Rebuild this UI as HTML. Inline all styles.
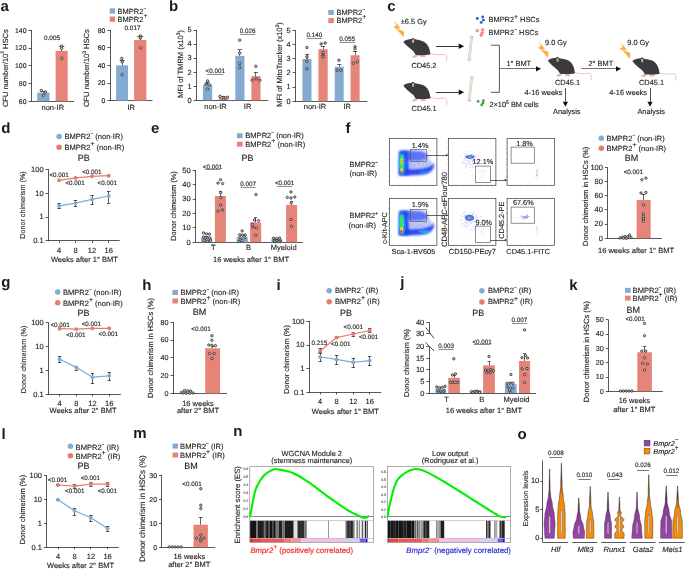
<!DOCTYPE html>
<html><head><meta charset="utf-8"><style>
html,body{margin:0;padding:0;background:#fff;width:685px;height:569px;overflow:hidden}
svg{display:block;will-change:transform;text-rendering:geometricPrecision;font-family:"Liberation Sans",sans-serif;fill:#231f20}
</style></head><body>
<svg xmlns="http://www.w3.org/2000/svg" width="685" height="569" viewBox="0 0 685 569">
<defs>
<filter id="b1" x="-30%" y="-30%" width="160%" height="160%"><feGaussianBlur stdDeviation="0.9"/></filter>
<filter id="b05" x="-30%" y="-30%" width="160%" height="160%"><feGaussianBlur stdDeviation="0.5"/></filter>
<linearGradient id="gp" x1="0" y1="0" x2="0" y2="1"><stop offset="0" stop-color="#1a1a1a"/><stop offset="0.45" stop-color="#8c3c9c"/><stop offset="1" stop-color="#9b45ad"/></linearGradient>
<linearGradient id="go" x1="0" y1="0" x2="0" y2="1"><stop offset="0" stop-color="#1a1a1a"/><stop offset="0.45" stop-color="#f08a10"/><stop offset="1" stop-color="#ff8c00"/></linearGradient>
</defs>
<text x="0.4" y="10.7" font-size="15" font-weight="bold" fill="#231815">a</text>
<line x1="31.5" y1="29.91" x2="31.5" y2="101.65" stroke="#231f20" stroke-width="0.75" />
<line x1="28.5" y1="30.5" x2="31.5" y2="30.5" stroke="#231f20" stroke-width="0.75" />
<text x="26.5" y="32.61" font-size="6.9" text-anchor="end" stroke="#231f20" stroke-width="0.14">140</text>
<line x1="28.5" y1="48.5" x2="31.5" y2="48.5" stroke="#231f20" stroke-width="0.75" />
<text x="26.5" y="50.37" font-size="6.9" text-anchor="end" stroke="#231f20" stroke-width="0.14">120</text>
<line x1="28.5" y1="65.5" x2="31.5" y2="65.5" stroke="#231f20" stroke-width="0.75" />
<text x="26.5" y="68.13" font-size="6.9" text-anchor="end" stroke="#231f20" stroke-width="0.14">100</text>
<line x1="28.5" y1="83.5" x2="31.5" y2="83.5" stroke="#231f20" stroke-width="0.75" />
<text x="26.5" y="85.89" font-size="6.9" text-anchor="end" stroke="#231f20" stroke-width="0.14">80</text>
<line x1="28.5" y1="101.5" x2="31.5" y2="101.5" stroke="#231f20" stroke-width="0.75" />
<text x="26.5" y="103.65" font-size="6.9" text-anchor="end" stroke="#231f20" stroke-width="0.14">60</text>
<line x1="31.15" y1="101.5" x2="74" y2="101.5" stroke="#231f20" stroke-width="0.75" />
<rect x="37.2" y="92.69" width="12.3" height="8.61" fill="#83aad1" />
<rect x="55.6" y="50.86" width="12.1" height="50.44" fill="#e7847a" />
<line x1="43.5" y1="92.69" x2="43.5" y2="91.35" stroke="#231f20" stroke-width="0.7" />
<line x1="40.8" y1="91.5" x2="45.8" y2="91.5" stroke="#231f20" stroke-width="0.7" />
<line x1="61.5" y1="50.86" x2="61.5" y2="46.69" stroke="#231f20" stroke-width="0.7" />
<line x1="58.85" y1="46.5" x2="64.35" y2="46.5" stroke="#231f20" stroke-width="0.7" />
<circle cx="41.3" cy="90.5" r="1.25" fill="#c8c8c8" stroke="#1a1a1a" stroke-width="0.7"/>
<circle cx="45.4" cy="92" r="1.25" fill="#c8c8c8" stroke="#1a1a1a" stroke-width="0.7"/>
<circle cx="43.3" cy="95.2" r="1.25" fill="#c8c8c8" stroke="#1a1a1a" stroke-width="0.7"/>
<circle cx="61.6" cy="46.2" r="1.25" fill="#c8c8c8" stroke="#1a1a1a" stroke-width="0.7"/>
<circle cx="61.6" cy="48.3" r="1.25" fill="#c8c8c8" stroke="#1a1a1a" stroke-width="0.7"/>
<circle cx="61.8" cy="58.3" r="1.25" fill="#c8c8c8" stroke="#1a1a1a" stroke-width="0.7"/>
<text x="52" y="40.1" font-size="6.4" text-anchor="middle" stroke="#231f20" stroke-width="0.14">0.005</text>
<text x="52.8" y="109.9" font-size="7.5" text-anchor="middle" stroke="#231f20" stroke-width="0.14">non-IR</text>
<text x="7.6" y="68.2" font-size="7.5" text-anchor="middle" stroke="#231f20" stroke-width="0.14" transform="rotate(-90 7.6 68.2)">CFU number/10<tspan font-size="5" dy="-3.2">2</tspan><tspan dy="3.2"> HSCs</tspan></text>
<line x1="110.5" y1="30.05" x2="110.5" y2="100.95" stroke="#231f20" stroke-width="0.75" />
<line x1="107.4" y1="30.5" x2="110.6" y2="30.5" stroke="#231f20" stroke-width="0.75" />
<text x="105.4" y="32.75" font-size="6.9" text-anchor="end" stroke="#231f20" stroke-width="0.14">80</text>
<line x1="107.4" y1="47.5" x2="110.6" y2="47.5" stroke="#231f20" stroke-width="0.75" />
<text x="105.4" y="50.3" font-size="6.9" text-anchor="end" stroke="#231f20" stroke-width="0.14">60</text>
<line x1="107.4" y1="65.5" x2="110.6" y2="65.5" stroke="#231f20" stroke-width="0.75" />
<text x="105.4" y="67.85" font-size="6.9" text-anchor="end" stroke="#231f20" stroke-width="0.14">40</text>
<line x1="107.4" y1="83.5" x2="110.6" y2="83.5" stroke="#231f20" stroke-width="0.75" />
<text x="105.4" y="85.4" font-size="6.9" text-anchor="end" stroke="#231f20" stroke-width="0.14">20</text>
<line x1="107.4" y1="100.5" x2="110.6" y2="100.5" stroke="#231f20" stroke-width="0.75" />
<text x="105.4" y="102.95" font-size="6.9" text-anchor="end" stroke="#231f20" stroke-width="0.14">0</text>
<line x1="110.25" y1="100.5" x2="152.5" y2="100.5" stroke="#231f20" stroke-width="0.75" />
<rect x="116.1" y="65.32" width="11.9" height="35.28" fill="#83aad1" />
<rect x="134.1" y="40.05" width="12.3" height="60.55" fill="#e7847a" />
<line x1="122.5" y1="65.32" x2="122.5" y2="60.3" stroke="#231f20" stroke-width="0.7" />
<line x1="119.55" y1="60.5" x2="124.85" y2="60.5" stroke="#231f20" stroke-width="0.7" />
<line x1="140.5" y1="40.05" x2="140.5" y2="36.4" stroke="#231f20" stroke-width="0.7" />
<line x1="137.3" y1="36.5" x2="143.3" y2="36.5" stroke="#231f20" stroke-width="0.7" />
<circle cx="121.8" cy="58.4" r="1.25" fill="#c8c8c8" stroke="#1a1a1a" stroke-width="0.7"/>
<circle cx="122.2" cy="61.9" r="1.25" fill="#c8c8c8" stroke="#1a1a1a" stroke-width="0.7"/>
<circle cx="122.2" cy="74.6" r="1.25" fill="#c8c8c8" stroke="#1a1a1a" stroke-width="0.7"/>
<circle cx="140.3" cy="36" r="1.25" fill="#c8c8c8" stroke="#1a1a1a" stroke-width="0.7"/>
<circle cx="140.3" cy="38" r="1.25" fill="#c8c8c8" stroke="#1a1a1a" stroke-width="0.7"/>
<circle cx="140.5" cy="47.8" r="1.25" fill="#c8c8c8" stroke="#1a1a1a" stroke-width="0.7"/>
<text x="132.5" y="30.4" font-size="6.4" text-anchor="middle" stroke="#231f20" stroke-width="0.14">0.017</text>
<text x="131.2" y="109.9" font-size="7.5" text-anchor="middle" stroke="#231f20" stroke-width="0.14">IR</text>
<text x="89.2" y="68.2" font-size="7.5" text-anchor="middle" stroke="#231f20" stroke-width="0.14" transform="rotate(-90 89.2 68.2)">CFU number/10<tspan font-size="5" dy="-3.2">3</tspan><tspan dy="3.2"> HSCs</tspan></text>
<rect x="109.75" y="8.3" width="5.3" height="5.4" fill="#83aad1" />
<text x="117.6" y="13.8" font-size="7.5" stroke="#231f20" stroke-width="0.14">BMPR2<tspan font-size="4.62" dy="-3.73">−</tspan><tspan dy="3.73"></tspan></text>
<rect x="109.75" y="16.5" width="5.3" height="5.4" fill="#e7847a" />
<text x="117.6" y="21.9" font-size="7.5" stroke="#231f20" stroke-width="0.14">BMPR2<tspan font-size="6.85" dy="-3.73">+</tspan><tspan dy="3.73"></tspan></text>
<text x="169.1" y="10.7" font-size="15" font-weight="bold" fill="#231815">b</text>
<line x1="196.5" y1="29.65" x2="196.5" y2="100.6" stroke="#231f20" stroke-width="0.75" />
<line x1="193.5" y1="30.5" x2="196.3" y2="30.5" stroke="#231f20" stroke-width="0.75" />
<text x="191.5" y="32.35" font-size="7.4" text-anchor="end" stroke="#231f20" stroke-width="0.14">5</text>
<line x1="193.5" y1="44.5" x2="196.3" y2="44.5" stroke="#231f20" stroke-width="0.75" />
<text x="191.5" y="46.4" font-size="7.4" text-anchor="end" stroke="#231f20" stroke-width="0.14">4</text>
<line x1="193.5" y1="58.5" x2="196.3" y2="58.5" stroke="#231f20" stroke-width="0.75" />
<text x="191.5" y="60.45" font-size="7.4" text-anchor="end" stroke="#231f20" stroke-width="0.14">3</text>
<line x1="193.5" y1="72.5" x2="196.3" y2="72.5" stroke="#231f20" stroke-width="0.75" />
<text x="191.5" y="74.5" font-size="7.4" text-anchor="end" stroke="#231f20" stroke-width="0.14">2</text>
<line x1="193.5" y1="86.5" x2="196.3" y2="86.5" stroke="#231f20" stroke-width="0.75" />
<text x="191.5" y="88.55" font-size="7.4" text-anchor="end" stroke="#231f20" stroke-width="0.14">1</text>
<line x1="193.5" y1="100.5" x2="196.3" y2="100.5" stroke="#231f20" stroke-width="0.75" />
<text x="191.5" y="102.6" font-size="7.4" text-anchor="end" stroke="#231f20" stroke-width="0.14">0</text>
<line x1="195.95" y1="100.5" x2="268.3" y2="100.5" stroke="#231f20" stroke-width="0.75" />
<rect x="202.9" y="84.8" width="9.3" height="15.45" fill="#83aad1" />
<rect x="219.1" y="97.72" width="9" height="2.53" fill="#e7847a" />
<rect x="235.3" y="55.85" width="9.2" height="44.4" fill="#83aad1" />
<rect x="251.4" y="76.08" width="9.1" height="24.17" fill="#e7847a" />
<line x1="207.5" y1="84.8" x2="207.5" y2="82.3" stroke="#231f20" stroke-width="0.7" />
<line x1="205.6" y1="82.5" x2="209.6" y2="82.5" stroke="#231f20" stroke-width="0.7" />
<line x1="223.5" y1="97.72" x2="223.5" y2="96.3" stroke="#231f20" stroke-width="0.7" />
<line x1="221.6" y1="96.5" x2="225.6" y2="96.5" stroke="#231f20" stroke-width="0.7" />
<line x1="239.5" y1="55.85" x2="239.5" y2="49.9" stroke="#231f20" stroke-width="0.7" />
<line x1="237.8" y1="49.5" x2="242" y2="49.5" stroke="#231f20" stroke-width="0.7" />
<line x1="255.5" y1="76.08" x2="255.5" y2="72.5" stroke="#231f20" stroke-width="0.7" />
<line x1="253.8" y1="72.5" x2="258" y2="72.5" stroke="#231f20" stroke-width="0.7" />
<circle cx="207.6" cy="80.9" r="1.25" fill="#c8c8c8" stroke="#1a1a1a" stroke-width="0.7"/>
<circle cx="206" cy="84" r="1.25" fill="#c8c8c8" stroke="#1a1a1a" stroke-width="0.7"/>
<circle cx="209.5" cy="84.8" r="1.25" fill="#c8c8c8" stroke="#1a1a1a" stroke-width="0.7"/>
<circle cx="207.6" cy="89.2" r="1.25" fill="#c8c8c8" stroke="#1a1a1a" stroke-width="0.7"/>
<circle cx="220" cy="96.4" r="1.25" fill="#c8c8c8" stroke="#1a1a1a" stroke-width="0.7"/>
<circle cx="223.7" cy="97.5" r="1.25" fill="#c8c8c8" stroke="#1a1a1a" stroke-width="0.7"/>
<circle cx="227.5" cy="97.2" r="1.25" fill="#c8c8c8" stroke="#1a1a1a" stroke-width="0.7"/>
<circle cx="223.7" cy="99.3" r="1.25" fill="#c8c8c8" stroke="#1a1a1a" stroke-width="0.7"/>
<circle cx="239.7" cy="40.2" r="1.25" fill="#c8c8c8" stroke="#1a1a1a" stroke-width="0.7"/>
<circle cx="239.7" cy="53" r="1.25" fill="#c8c8c8" stroke="#1a1a1a" stroke-width="0.7"/>
<circle cx="239.7" cy="63.5" r="1.25" fill="#c8c8c8" stroke="#1a1a1a" stroke-width="0.7"/>
<circle cx="239.7" cy="67.6" r="1.25" fill="#c8c8c8" stroke="#1a1a1a" stroke-width="0.7"/>
<circle cx="255.8" cy="66.3" r="1.25" fill="#c8c8c8" stroke="#1a1a1a" stroke-width="0.7"/>
<circle cx="252.2" cy="80.2" r="1.25" fill="#c8c8c8" stroke="#1a1a1a" stroke-width="0.7"/>
<circle cx="256.1" cy="78.9" r="1.25" fill="#c8c8c8" stroke="#1a1a1a" stroke-width="0.7"/>
<circle cx="259.8" cy="80.2" r="1.25" fill="#c8c8c8" stroke="#1a1a1a" stroke-width="0.7"/>
<text x="215.3" y="73.1" font-size="6.3" text-anchor="middle" stroke="#231f20" stroke-width="0.14">&lt;0.001</text>
<line x1="207.05" y1="74.5" x2="223.55" y2="74.5" stroke="#231f20" stroke-width="0.5" />
<text x="247.6" y="33.1" font-size="6.3" text-anchor="middle" stroke="#231f20" stroke-width="0.14">0.026</text>
<line x1="240.1" y1="34.5" x2="255.1" y2="34.5" stroke="#231f20" stroke-width="0.5" />
<text x="215.5" y="109.4" font-size="7.5" text-anchor="middle" stroke="#231f20" stroke-width="0.14">non-IR</text>
<text x="247.6" y="109.4" font-size="7.5" text-anchor="middle" stroke="#231f20" stroke-width="0.14">IR</text>
<text x="182.8" y="63.8" font-size="7.5" text-anchor="middle" stroke="#231f20" stroke-width="0.14" transform="rotate(-90 182.8 63.8)">MFI of TMRM (x10<tspan font-size="5" dy="-3.2">3</tspan><tspan dy="3.2">)</tspan></text>
<line x1="295.5" y1="29.95" x2="295.5" y2="101.65" stroke="#231f20" stroke-width="0.75" />
<line x1="292.5" y1="30.5" x2="295.3" y2="30.5" stroke="#231f20" stroke-width="0.75" />
<text x="290.5" y="32.65" font-size="7.4" text-anchor="end" stroke="#231f20" stroke-width="0.14">5</text>
<line x1="292.5" y1="44.5" x2="295.3" y2="44.5" stroke="#231f20" stroke-width="0.75" />
<text x="290.5" y="46.85" font-size="7.4" text-anchor="end" stroke="#231f20" stroke-width="0.14">4</text>
<line x1="292.5" y1="58.5" x2="295.3" y2="58.5" stroke="#231f20" stroke-width="0.75" />
<text x="290.5" y="61.05" font-size="7.4" text-anchor="end" stroke="#231f20" stroke-width="0.14">3</text>
<line x1="292.5" y1="72.5" x2="295.3" y2="72.5" stroke="#231f20" stroke-width="0.75" />
<text x="290.5" y="75.25" font-size="7.4" text-anchor="end" stroke="#231f20" stroke-width="0.14">2</text>
<line x1="292.5" y1="87.5" x2="295.3" y2="87.5" stroke="#231f20" stroke-width="0.75" />
<text x="290.5" y="89.45" font-size="7.4" text-anchor="end" stroke="#231f20" stroke-width="0.14">1</text>
<line x1="292.5" y1="101.5" x2="295.3" y2="101.5" stroke="#231f20" stroke-width="0.75" />
<text x="290.5" y="103.65" font-size="7.4" text-anchor="end" stroke="#231f20" stroke-width="0.14">0</text>
<line x1="294.95" y1="101.5" x2="367.3" y2="101.5" stroke="#231f20" stroke-width="0.75" />
<rect x="302.4" y="58.98" width="9.1" height="42.32" fill="#83aad1" />
<rect x="318.4" y="49.19" width="9.3" height="52.11" fill="#e7847a" />
<rect x="334.7" y="66.79" width="9" height="34.51" fill="#83aad1" />
<rect x="350.5" y="55.29" width="9.1" height="46.01" fill="#e7847a" />
<line x1="307.5" y1="58.98" x2="307.5" y2="54.2" stroke="#231f20" stroke-width="0.7" />
<line x1="304.9" y1="54.5" x2="309.1" y2="54.5" stroke="#231f20" stroke-width="0.7" />
<line x1="323.5" y1="49.19" x2="323.5" y2="46.1" stroke="#231f20" stroke-width="0.7" />
<line x1="320.9" y1="46.5" x2="325.1" y2="46.5" stroke="#231f20" stroke-width="0.7" />
<line x1="339.5" y1="66.79" x2="339.5" y2="64.4" stroke="#231f20" stroke-width="0.7" />
<line x1="337.1" y1="64.5" x2="341.3" y2="64.5" stroke="#231f20" stroke-width="0.7" />
<line x1="355.5" y1="55.29" x2="355.5" y2="51" stroke="#231f20" stroke-width="0.7" />
<line x1="352.9" y1="51.5" x2="357.1" y2="51.5" stroke="#231f20" stroke-width="0.7" />
<circle cx="306.9" cy="47.5" r="1.25" fill="#c8c8c8" stroke="#1a1a1a" stroke-width="0.7"/>
<circle cx="306.9" cy="57" r="1.25" fill="#c8c8c8" stroke="#1a1a1a" stroke-width="0.7"/>
<circle cx="306.9" cy="61.3" r="1.25" fill="#c8c8c8" stroke="#1a1a1a" stroke-width="0.7"/>
<circle cx="306.9" cy="68.9" r="1.25" fill="#c8c8c8" stroke="#1a1a1a" stroke-width="0.7"/>
<circle cx="321.2" cy="44" r="1.25" fill="#c8c8c8" stroke="#1a1a1a" stroke-width="0.7"/>
<circle cx="325.1" cy="43" r="1.25" fill="#c8c8c8" stroke="#1a1a1a" stroke-width="0.7"/>
<circle cx="323" cy="52.4" r="1.25" fill="#c8c8c8" stroke="#1a1a1a" stroke-width="0.7"/>
<circle cx="323" cy="55.2" r="1.25" fill="#c8c8c8" stroke="#1a1a1a" stroke-width="0.7"/>
<circle cx="323" cy="56.8" r="1.25" fill="#c8c8c8" stroke="#1a1a1a" stroke-width="0.7"/>
<circle cx="338.9" cy="60.2" r="1.25" fill="#c8c8c8" stroke="#1a1a1a" stroke-width="0.7"/>
<circle cx="337.1" cy="70.3" r="1.25" fill="#c8c8c8" stroke="#1a1a1a" stroke-width="0.7"/>
<circle cx="340.9" cy="70.3" r="1.25" fill="#c8c8c8" stroke="#1a1a1a" stroke-width="0.7"/>
<circle cx="355" cy="46.8" r="1.25" fill="#c8c8c8" stroke="#1a1a1a" stroke-width="0.7"/>
<circle cx="355" cy="48.8" r="1.25" fill="#c8c8c8" stroke="#1a1a1a" stroke-width="0.7"/>
<circle cx="353.3" cy="63.2" r="1.25" fill="#c8c8c8" stroke="#1a1a1a" stroke-width="0.7"/>
<circle cx="357.2" cy="61.8" r="1.25" fill="#c8c8c8" stroke="#1a1a1a" stroke-width="0.7"/>
<text x="314.5" y="37" font-size="6.3" text-anchor="middle" stroke="#231f20" stroke-width="0.14">0.140</text>
<line x1="306.7" y1="38.5" x2="322.3" y2="38.5" stroke="#231f20" stroke-width="0.5" />
<text x="347.1" y="41.2" font-size="6.3" text-anchor="middle" stroke="#231f20" stroke-width="0.14">0.055</text>
<line x1="339.3" y1="42.5" x2="354.9" y2="42.5" stroke="#231f20" stroke-width="0.5" />
<text x="315" y="109.4" font-size="7.5" text-anchor="middle" stroke="#231f20" stroke-width="0.14">non-IR</text>
<text x="347.2" y="109.4" font-size="7.5" text-anchor="middle" stroke="#231f20" stroke-width="0.14">IR</text>
<text x="282.4" y="64.5" font-size="7.5" text-anchor="middle" stroke="#231f20" stroke-width="0.14" transform="rotate(-90 282.4 64.5)">MFI of MitoTracker (x10<tspan font-size="5" dy="-3.2">3</tspan><tspan dy="3.2">)</tspan></text>
<rect x="328.3" y="10" width="5.6" height="4.9" fill="#83aad1" />
<text x="336.4" y="14.9" font-size="7.5" stroke="#231f20" stroke-width="0.14">BMPR2<tspan font-size="4.62" dy="-3.73">−</tspan><tspan dy="3.73"></tspan></text>
<rect x="328.3" y="18.1" width="5.6" height="5" fill="#e7847a" />
<text x="336.4" y="23.1" font-size="7.5" stroke="#231f20" stroke-width="0.14">BMPR2<tspan font-size="6.85" dy="-3.73">+</tspan><tspan dy="3.73"></tspan></text>
<text x="387.2" y="10.9" font-size="15" font-weight="bold" fill="#231815">c</text>
<g transform="translate(393.8 20.4) scale(1.0)"><path d="M0,0 L6.6,7.6 L4.0,8.5 L10.3,11.0 L9.7,17.0 L3.6,9.6 L-0.4,6.5 L2.7,5.2 Z" fill="#fcac42"/><path d="M2.4,8.25 L7.6,9.0" stroke="#fee0b0" stroke-width="0.55"/></g>
<text x="400.8" y="24.3" font-size="7.4" stroke="#231f20" stroke-width="0.14">±6.5 Gy</text>
<g transform="translate(403 37.5) scale(1.0)"><path d="M27,16.0 C32,17.4 37,17.6 41.3,16.8 C43.4,16.5 44.2,19 43.7,23.6" fill="none" stroke="#e8b09c" stroke-width="0.75"/><path d="M14.0,16.6 L9.8,18.4 L8.9,20.0 L12.0,20.2 L14.6,18.4 Z M17.6,17.3 L17.3,19.6 L22.6,19.8 L22.4,17.6 Z" fill="#eab4a2"/><path d="M0.3,4.2 C2,2.6 4.5,1.8 6.8,1.7 C9.5,1.3 14,2.0 19,3.4 C23,4.6 25.6,8.0 26.6,12.2 C27.1,14.2 27.4,16 27.3,17.1 C22,17.7 16,17.8 12.8,17.4 C11.8,16.4 11.2,14.9 10.4,13.8 C8.2,11.8 6.0,10.2 4.2,8.6 C2.7,7.2 1.2,5.7 0.3,4.2 Z" fill="#3b3b3d"/><ellipse cx="9.9" cy="3.1" rx="1.75" ry="2.7" fill="#3b3b3d"/><ellipse cx="10.1" cy="3.7" rx="1.15" ry="2.0" fill="#d9a090"/><circle cx="5.0" cy="4.6" r="0.42" fill="#c03028"/></g>
<text x="411.4" y="67.5" font-size="7.4" stroke="#231f20" stroke-width="0.14">CD45.2</text>
<line x1="436" y1="46.5" x2="458.7" y2="46.5" stroke="#222" stroke-width="0.9" />
<path d="M464.2,46.3 L458.7,49.1 L458.7,43.5 Z" fill="#111"/>
<g transform="translate(403 81.3) scale(1.0)"><path d="M27,16.0 C32,17.4 37,17.6 41.3,16.8 C43.4,16.5 44.2,19 43.7,23.6" fill="none" stroke="#e8b09c" stroke-width="0.75"/><path d="M14.0,16.6 L9.8,18.4 L8.9,20.0 L12.0,20.2 L14.6,18.4 Z M17.6,17.3 L17.3,19.6 L22.6,19.8 L22.4,17.6 Z" fill="#eab4a2"/><path d="M0.3,4.2 C2,2.6 4.5,1.8 6.8,1.7 C9.5,1.3 14,2.0 19,3.4 C23,4.6 25.6,8.0 26.6,12.2 C27.1,14.2 27.4,16 27.3,17.1 C22,17.7 16,17.8 12.8,17.4 C11.8,16.4 11.2,14.9 10.4,13.8 C8.2,11.8 6.0,10.2 4.2,8.6 C2.7,7.2 1.2,5.7 0.3,4.2 Z" fill="#3b3b3d"/><ellipse cx="9.9" cy="3.1" rx="1.75" ry="2.7" fill="#3b3b3d"/><ellipse cx="10.1" cy="3.7" rx="1.15" ry="2.0" fill="#d9a090"/><circle cx="5.0" cy="4.6" r="0.42" fill="#c03028"/></g>
<text x="411.6" y="111.3" font-size="7.4" stroke="#231f20" stroke-width="0.14">CD45.1</text>
<line x1="436" y1="92.5" x2="458.7" y2="92.5" stroke="#222" stroke-width="0.9" />
<path d="M464.2,92.3 L458.7,95.1 L458.7,89.5 Z" fill="#111"/>
<line x1="471.7" y1="37" x2="469.2" y2="59.6" stroke="#cdbfb2" stroke-width="2.5" stroke-linecap="round"/>
<line x1="471.7" y1="37" x2="469.2" y2="59.6" stroke="#eee3d8" stroke-width="1.7" stroke-linecap="round"/>
<circle cx="470.9" cy="37" r="1.25" fill="#e2d6cc"/><circle cx="472.5" cy="37" r="1.25" fill="#d5d0d8"/>
<circle cx="468.4" cy="59.6" r="1.25" fill="#e2d6cc"/><circle cx="470" cy="59.6" r="1.25" fill="#d5d0d8"/>
<line x1="471.7" y1="77.8" x2="469.2" y2="100.4" stroke="#cdbfb2" stroke-width="2.5" stroke-linecap="round"/>
<line x1="471.7" y1="77.8" x2="469.2" y2="100.4" stroke="#eee3d8" stroke-width="1.7" stroke-linecap="round"/>
<circle cx="470.9" cy="77.8" r="1.25" fill="#e2d6cc"/><circle cx="472.5" cy="77.8" r="1.25" fill="#d5d0d8"/>
<circle cx="468.4" cy="100.4" r="1.25" fill="#e2d6cc"/><circle cx="470" cy="100.4" r="1.25" fill="#d5d0d8"/>
<circle cx="477.3" cy="18.5" r="1.45" fill="#2a62cc"/>
<circle cx="482.7" cy="17" r="1.45" fill="#2a62cc"/>
<circle cx="483.4" cy="20.1" r="1.45" fill="#2a62cc"/>
<circle cx="481.2" cy="22.4" r="1.45" fill="#2a62cc"/>
<circle cx="477.3" cy="30.6" r="1.2" fill="#ffc4c4" stroke="#f04a4a" stroke-width="0.75"/>
<circle cx="482.7" cy="29.8" r="1.2" fill="#ffc4c4" stroke="#f04a4a" stroke-width="0.75"/>
<circle cx="482.2" cy="32.9" r="1.2" fill="#ffc4c4" stroke="#f04a4a" stroke-width="0.75"/>
<circle cx="481.2" cy="35.2" r="1.2" fill="#ffc4c4" stroke="#f04a4a" stroke-width="0.75"/>
<circle cx="478.1" cy="101.4" r="1.4" fill="#3aaa3a"/>
<circle cx="483.4" cy="100.7" r="1.4" fill="#3aaa3a"/>
<circle cx="483" cy="103" r="1.4" fill="#3aaa3a"/>
<circle cx="481.7" cy="104.9" r="1.4" fill="#3aaa3a"/>
<text x="488.6" y="22.2" font-size="7.4" stroke="#231f20" stroke-width="0.14">BMPR2<tspan font-size="6.8" dy="-3.7">+</tspan><tspan dy="3.7"> HSCs</tspan></text>
<text x="488.6" y="35" font-size="7.4" stroke="#231f20" stroke-width="0.14">BMPR2<tspan font-size="5" dy="-3.6">−</tspan><tspan dy="3.6"> HSCs</tspan></text>
<text x="489.4" y="107" font-size="7.4" stroke="#231f20" stroke-width="0.14">2×10<tspan font-size="5" dy="-3.2">5</tspan><tspan dy="3.2"> BM cells</tspan></text>
<path d="M490.8,45.2 L499.4,45.2 L499.4,92.3 L490.8,92.3" fill="none" stroke="#3a3a3a" stroke-width="0.85" />
<line x1="499.4" y1="68.5" x2="536" y2="68.5" stroke="#444" stroke-width="0.75" />
<path d="M541.1,68.8 L536,71.4 L536,66.2 Z" fill="#111"/>
<text x="506.4" y="65.9" font-size="7.4" stroke="#231f20" stroke-width="0.14">1° BMT</text>
<g transform="translate(538.3 41.1) scale(1.0)"><path d="M0,0 L6.6,7.6 L4.0,8.5 L10.3,11.0 L9.7,17.0 L3.6,9.6 L-0.4,6.5 L2.7,5.2 Z" fill="#fcac42"/><path d="M2.4,8.25 L7.6,9.0" stroke="#fee0b0" stroke-width="0.55"/></g>
<text x="545" y="45.3" font-size="7.4" stroke="#231f20" stroke-width="0.14">9.0 Gy</text>
<g transform="translate(547.5 56.4) scale(1.0)"><path d="M27,16.0 C32,17.4 37,17.6 41.3,16.8 C43.4,16.5 44.2,19 43.7,23.6" fill="none" stroke="#e8b09c" stroke-width="0.75"/><path d="M14.0,16.6 L9.8,18.4 L8.9,20.0 L12.0,20.2 L14.6,18.4 Z M17.6,17.3 L17.3,19.6 L22.6,19.8 L22.4,17.6 Z" fill="#eab4a2"/><path d="M0.3,4.2 C2,2.6 4.5,1.8 6.8,1.7 C9.5,1.3 14,2.0 19,3.4 C23,4.6 25.6,8.0 26.6,12.2 C27.1,14.2 27.4,16 27.3,17.1 C22,17.7 16,17.8 12.8,17.4 C11.8,16.4 11.2,14.9 10.4,13.8 C8.2,11.8 6.0,10.2 4.2,8.6 C2.7,7.2 1.2,5.7 0.3,4.2 Z" fill="#3b3b3d"/><ellipse cx="9.9" cy="3.1" rx="1.75" ry="2.7" fill="#3b3b3d"/><ellipse cx="10.1" cy="3.7" rx="1.15" ry="2.0" fill="#d9a090"/><circle cx="5.0" cy="4.6" r="0.42" fill="#c03028"/></g>
<text x="555" y="84.8" font-size="7.4" stroke="#231f20" stroke-width="0.14">CD45.1</text>
<line x1="581.3" y1="68.5" x2="616" y2="68.5" stroke="#444" stroke-width="0.75" />
<path d="M621.1,68.8 L616,71.4 L616,66.2 Z" fill="#111"/>
<text x="588.5" y="65.9" font-size="7.4" stroke="#231f20" stroke-width="0.14">2° BMT</text>
<g transform="translate(620.1 41.9) scale(1.0)"><path d="M0,0 L6.6,7.6 L4.0,8.5 L10.3,11.0 L9.7,17.0 L3.6,9.6 L-0.4,6.5 L2.7,5.2 Z" fill="#fcac42"/><path d="M2.4,8.25 L7.6,9.0" stroke="#fee0b0" stroke-width="0.55"/></g>
<text x="627.3" y="45.2" font-size="7.4" stroke="#231f20" stroke-width="0.14">9.0 Gy</text>
<g transform="translate(632.1 56.8) scale(1.0)"><path d="M27,16.0 C32,17.4 37,17.6 41.3,16.8 C43.4,16.5 44.2,19 43.7,23.6" fill="none" stroke="#e8b09c" stroke-width="0.75"/><path d="M14.0,16.6 L9.8,18.4 L8.9,20.0 L12.0,20.2 L14.6,18.4 Z M17.6,17.3 L17.3,19.6 L22.6,19.8 L22.4,17.6 Z" fill="#eab4a2"/><path d="M0.3,4.2 C2,2.6 4.5,1.8 6.8,1.7 C9.5,1.3 14,2.0 19,3.4 C23,4.6 25.6,8.0 26.6,12.2 C27.1,14.2 27.4,16 27.3,17.1 C22,17.7 16,17.8 12.8,17.4 C11.8,16.4 11.2,14.9 10.4,13.8 C8.2,11.8 6.0,10.2 4.2,8.6 C2.7,7.2 1.2,5.7 0.3,4.2 Z" fill="#3b3b3d"/><ellipse cx="9.9" cy="3.1" rx="1.75" ry="2.7" fill="#3b3b3d"/><ellipse cx="10.1" cy="3.7" rx="1.15" ry="2.0" fill="#d9a090"/><circle cx="5.0" cy="4.6" r="0.42" fill="#c03028"/></g>
<text x="639" y="85.1" font-size="7.4" stroke="#231f20" stroke-width="0.14">CD45.1</text>
<line x1="565.5" y1="88.1" x2="565.5" y2="101.7" stroke="#222" stroke-width="0.8" />
<path d="M565.4,106.7 L562.8,101.7 L568,101.7 Z" fill="#111"/>
<line x1="650.5" y1="88.1" x2="650.5" y2="101.7" stroke="#222" stroke-width="0.8" />
<path d="M650,106.7 L647.4,101.7 L652.6,101.7 Z" fill="#111"/>
<text x="562.4" y="95.4" font-size="7.4" text-anchor="end" stroke="#231f20" stroke-width="0.14">4-16 weeks</text>
<text x="647" y="95.4" font-size="7.4" text-anchor="end" stroke="#231f20" stroke-width="0.14">4-16 weeks</text>
<text x="566.8" y="113.9" font-size="7.4" text-anchor="middle" stroke="#231f20" stroke-width="0.14">Analysis</text>
<text x="651.2" y="113.9" font-size="7.4" text-anchor="middle" stroke="#231f20" stroke-width="0.14">Analysis</text>
<text x="1.3" y="132.6" font-size="15" font-weight="bold" fill="#231815">d</text>
<circle cx="59.1" cy="136.4" r="2.75" fill="#80acd6"/>
<circle cx="59.1" cy="147.2" r="2.75" fill="#e57c70"/>
<text x="64.4" y="139.2" font-size="7.55" stroke="#231f20" stroke-width="0.14">BMPR2<tspan font-size="4.68" dy="-3.77">−</tspan><tspan dy="3.77"> (non-IR)</tspan></text>
<text x="64.4" y="150" font-size="7.55" stroke="#231f20" stroke-width="0.14">BMPR2<tspan font-size="6.95" dy="-3.77">+</tspan><tspan dy="3.77"> (non-IR)</tspan></text>
<text x="83.8" y="160.6" font-size="9.0" text-anchor="middle" stroke="#231f20" stroke-width="0.14">PB</text>
<line x1="48.5" y1="169" x2="48.5" y2="241.25" stroke="#231f20" stroke-width="0.75" />
<line x1="45.6" y1="169.5" x2="48.4" y2="169.5" stroke="#231f20" stroke-width="0.75" />
<text x="43.6" y="171.7" font-size="7.5" text-anchor="end" stroke="#231f20" stroke-width="0.14">100</text>
<line x1="45.6" y1="193.5" x2="48.4" y2="193.5" stroke="#231f20" stroke-width="0.75" />
<text x="43.6" y="195.55" font-size="7.5" text-anchor="end" stroke="#231f20" stroke-width="0.14">10</text>
<line x1="45.6" y1="217.5" x2="48.4" y2="217.5" stroke="#231f20" stroke-width="0.75" />
<text x="43.6" y="219.4" font-size="7.5" text-anchor="end" stroke="#231f20" stroke-width="0.14">1</text>
<line x1="45.6" y1="240.5" x2="48.4" y2="240.5" stroke="#231f20" stroke-width="0.75" />
<text x="43.6" y="243.25" font-size="7.5" text-anchor="end" stroke="#231f20" stroke-width="0.14">0.1</text>
<line x1="48.05" y1="240.5" x2="119.7" y2="240.5" stroke="#231f20" stroke-width="0.75" />
<line x1="59.5" y1="240.9" x2="59.5" y2="243" stroke="#231f20" stroke-width="0.75" />
<text x="59.1" y="252.5" font-size="7.5" text-anchor="middle" stroke="#231f20" stroke-width="0.14">4</text>
<line x1="75.5" y1="240.9" x2="75.5" y2="243" stroke="#231f20" stroke-width="0.75" />
<text x="75.5" y="252.5" font-size="7.5" text-anchor="middle" stroke="#231f20" stroke-width="0.14">8</text>
<line x1="92.5" y1="240.9" x2="92.5" y2="243" stroke="#231f20" stroke-width="0.75" />
<text x="92" y="252.5" font-size="7.5" text-anchor="middle" stroke="#231f20" stroke-width="0.14">12</text>
<line x1="108.5" y1="240.9" x2="108.5" y2="243" stroke="#231f20" stroke-width="0.75" />
<text x="108.7" y="252.5" font-size="7.5" text-anchor="middle" stroke="#231f20" stroke-width="0.14">16</text>
<text x="84.4" y="261.5" font-size="7.5" text-anchor="middle" stroke="#231f20" stroke-width="0.14">Weeks after 1° BMT</text>
<text x="25.4" y="205" font-size="7.2" text-anchor="middle" stroke="#231f20" stroke-width="0.14" transform="rotate(-90 25.4 205)">Donor chimerism (%)</text>
<path d="M59.1,180.3 L75.5,177.9 L92,176.3 L108.7,175.7" fill="none" stroke="#e57c70" stroke-width="1.25" />
<circle cx="59.1" cy="180.3" r="1.95" fill="#e57c70"/>
<circle cx="75.5" cy="177.9" r="1.95" fill="#e57c70"/>
<circle cx="92" cy="176.3" r="1.95" fill="#e57c70"/>
<circle cx="108.7" cy="175.7" r="1.95" fill="#e57c70"/>
<path d="M59.1,205.8 L75.5,203.1 L92,199.3 L108.7,196" fill="none" stroke="#80acd6" stroke-width="1.25" />
<line x1="59.5" y1="203.5" x2="59.5" y2="208.8" stroke="#111" stroke-width="0.7" />
<line x1="57.4" y1="203.5" x2="60.8" y2="203.5" stroke="#111" stroke-width="0.7" />
<line x1="57.4" y1="208.5" x2="60.8" y2="208.5" stroke="#111" stroke-width="0.7" />
<line x1="75.5" y1="200.6" x2="75.5" y2="206.4" stroke="#111" stroke-width="0.7" />
<line x1="73.8" y1="200.5" x2="77.2" y2="200.5" stroke="#111" stroke-width="0.7" />
<line x1="73.8" y1="206.5" x2="77.2" y2="206.5" stroke="#111" stroke-width="0.7" />
<line x1="92.5" y1="195.7" x2="92.5" y2="204.4" stroke="#111" stroke-width="0.7" />
<line x1="90.3" y1="195.5" x2="93.7" y2="195.5" stroke="#111" stroke-width="0.7" />
<line x1="90.3" y1="204.5" x2="93.7" y2="204.5" stroke="#111" stroke-width="0.7" />
<line x1="108.5" y1="191.5" x2="108.5" y2="203.1" stroke="#111" stroke-width="0.7" />
<line x1="107" y1="191.5" x2="110.4" y2="191.5" stroke="#111" stroke-width="0.7" />
<line x1="107" y1="203.5" x2="110.4" y2="203.5" stroke="#111" stroke-width="0.7" />
<circle cx="59.1" cy="205.8" r="1.95" fill="#80acd6"/>
<circle cx="75.5" cy="203.1" r="1.95" fill="#80acd6"/>
<circle cx="92" cy="199.3" r="1.95" fill="#80acd6"/>
<circle cx="108.7" cy="196" r="1.95" fill="#80acd6"/>
<text x="59.1" y="176.5" font-size="6.3" text-anchor="middle" stroke="#231f20" stroke-width="0.14">&lt;0.001</text>
<text x="75.1" y="185.3" font-size="6.3" text-anchor="middle" stroke="#231f20" stroke-width="0.14">&lt;0.001</text>
<text x="91.85" y="173.5" font-size="6.3" text-anchor="middle" stroke="#231f20" stroke-width="0.14">&lt;0.001</text>
<text x="107.2" y="184.5" font-size="6.3" text-anchor="middle" stroke="#231f20" stroke-width="0.14">&lt;0.001</text>
<text x="151.1" y="132.7" font-size="15" font-weight="bold" fill="#231815">e</text>
<rect x="237" y="133.2" width="5.6" height="5" fill="#83aad1" />
<rect x="237" y="141.7" width="5.6" height="5" fill="#e7847a" />
<text x="245.3" y="138.2" font-size="7.55" stroke="#231f20" stroke-width="0.14">BMPR2<tspan font-size="4.68" dy="-3.77">−</tspan><tspan dy="3.77"> (non-IR)</tspan></text>
<text x="245.3" y="146.7" font-size="7.55" stroke="#231f20" stroke-width="0.14">BMPR2<tspan font-size="6.95" dy="-3.77">+</tspan><tspan dy="3.77"> (non-IR)</tspan></text>
<text x="247.6" y="160.7" font-size="9.0" text-anchor="middle" stroke="#231f20" stroke-width="0.14">PB</text>
<line x1="195.5" y1="170.05" x2="195.5" y2="242.55" stroke="#231f20" stroke-width="0.75" />
<line x1="192.7" y1="170.5" x2="195.6" y2="170.5" stroke="#231f20" stroke-width="0.75" />
<text x="190.7" y="172.75" font-size="7.5" text-anchor="end" stroke="#231f20" stroke-width="0.14">50</text>
<line x1="192.7" y1="184.5" x2="195.6" y2="184.5" stroke="#231f20" stroke-width="0.75" />
<text x="190.7" y="187.11" font-size="7.5" text-anchor="end" stroke="#231f20" stroke-width="0.14">40</text>
<line x1="192.7" y1="199.5" x2="195.6" y2="199.5" stroke="#231f20" stroke-width="0.75" />
<text x="190.7" y="201.47" font-size="7.5" text-anchor="end" stroke="#231f20" stroke-width="0.14">30</text>
<line x1="192.7" y1="213.5" x2="195.6" y2="213.5" stroke="#231f20" stroke-width="0.75" />
<text x="190.7" y="215.83" font-size="7.5" text-anchor="end" stroke="#231f20" stroke-width="0.14">20</text>
<line x1="192.7" y1="227.5" x2="195.6" y2="227.5" stroke="#231f20" stroke-width="0.75" />
<text x="190.7" y="230.19" font-size="7.5" text-anchor="end" stroke="#231f20" stroke-width="0.14">10</text>
<line x1="192.7" y1="242.5" x2="195.6" y2="242.5" stroke="#231f20" stroke-width="0.75" />
<text x="190.7" y="244.55" font-size="7.5" text-anchor="end" stroke="#231f20" stroke-width="0.14">0</text>
<line x1="195.25" y1="242.5" x2="302.8" y2="242.5" stroke="#231f20" stroke-width="0.75" />
<text x="175.9" y="206" font-size="7.4" text-anchor="middle" stroke="#231f20" stroke-width="0.14" transform="rotate(-90 175.9 206)">Donor chimerism (%)</text>
<rect x="201.1" y="237.46" width="11.1" height="4.74" fill="#83aad1" />
<rect x="214.9" y="195.96" width="11" height="46.24" fill="#e7847a" />
<rect x="236.7" y="237.32" width="11.1" height="4.88" fill="#83aad1" />
<rect x="250.1" y="222.38" width="11.1" height="19.82" fill="#e7847a" />
<rect x="271.4" y="239.04" width="11" height="3.16" fill="#83aad1" />
<rect x="286.1" y="204.86" width="11" height="37.34" fill="#e7847a" />
<line x1="206.5" y1="237.46" x2="206.5" y2="236.03" stroke="#231f20" stroke-width="0.7" />
<line x1="205.1" y1="236.5" x2="208.1" y2="236.5" stroke="#231f20" stroke-width="0.7" />
<line x1="220.5" y1="195.96" x2="220.5" y2="191.08" stroke="#231f20" stroke-width="0.7" />
<line x1="218.9" y1="191.5" x2="221.9" y2="191.5" stroke="#231f20" stroke-width="0.7" />
<line x1="242.5" y1="237.32" x2="242.5" y2="235.88" stroke="#231f20" stroke-width="0.7" />
<line x1="240.7" y1="235.5" x2="243.7" y2="235.5" stroke="#231f20" stroke-width="0.7" />
<line x1="255.5" y1="222.38" x2="255.5" y2="217.79" stroke="#231f20" stroke-width="0.7" />
<line x1="254.1" y1="217.5" x2="257.1" y2="217.5" stroke="#231f20" stroke-width="0.7" />
<line x1="276.5" y1="239.04" x2="276.5" y2="238.18" stroke="#231f20" stroke-width="0.7" />
<line x1="275.4" y1="238.5" x2="278.4" y2="238.5" stroke="#231f20" stroke-width="0.7" />
<line x1="291.5" y1="204.86" x2="291.5" y2="201.27" stroke="#231f20" stroke-width="0.7" />
<line x1="290.1" y1="201.5" x2="293.1" y2="201.5" stroke="#231f20" stroke-width="0.7" />
<circle cx="203.5" cy="232.87" r="1.2" fill="#c8c8c8" stroke="#1a1a1a" stroke-width="0.7"/>
<circle cx="206.5" cy="233.87" r="1.2" fill="#c8c8c8" stroke="#1a1a1a" stroke-width="0.7"/>
<circle cx="209.5" cy="234.16" r="1.2" fill="#c8c8c8" stroke="#1a1a1a" stroke-width="0.7"/>
<circle cx="203.5" cy="237.03" r="1.2" fill="#c8c8c8" stroke="#1a1a1a" stroke-width="0.7"/>
<circle cx="206" cy="237.6" r="1.2" fill="#c8c8c8" stroke="#1a1a1a" stroke-width="0.7"/>
<circle cx="209.5" cy="237.75" r="1.2" fill="#c8c8c8" stroke="#1a1a1a" stroke-width="0.7"/>
<circle cx="204.5" cy="240.48" r="1.2" fill="#c8c8c8" stroke="#1a1a1a" stroke-width="0.7"/>
<circle cx="207.5" cy="241.34" r="1.2" fill="#c8c8c8" stroke="#1a1a1a" stroke-width="0.7"/>
<circle cx="210.5" cy="240.19" r="1.2" fill="#c8c8c8" stroke="#1a1a1a" stroke-width="0.7"/>
<circle cx="220.6" cy="179.73" r="1.2" fill="#c8c8c8" stroke="#1a1a1a" stroke-width="0.7"/>
<circle cx="218" cy="183.04" r="1.2" fill="#c8c8c8" stroke="#1a1a1a" stroke-width="0.7"/>
<circle cx="222.6" cy="183.61" r="1.2" fill="#c8c8c8" stroke="#1a1a1a" stroke-width="0.7"/>
<circle cx="220.6" cy="192.66" r="1.2" fill="#c8c8c8" stroke="#1a1a1a" stroke-width="0.7"/>
<circle cx="220.9" cy="197.68" r="1.2" fill="#c8c8c8" stroke="#1a1a1a" stroke-width="0.7"/>
<circle cx="220.6" cy="205.15" r="1.2" fill="#c8c8c8" stroke="#1a1a1a" stroke-width="0.7"/>
<circle cx="218" cy="211.18" r="1.2" fill="#c8c8c8" stroke="#1a1a1a" stroke-width="0.7"/>
<circle cx="222.5" cy="210.03" r="1.2" fill="#c8c8c8" stroke="#1a1a1a" stroke-width="0.7"/>
<circle cx="242.2" cy="230.86" r="1.2" fill="#c8c8c8" stroke="#1a1a1a" stroke-width="0.7"/>
<circle cx="239.5" cy="234.73" r="1.2" fill="#c8c8c8" stroke="#1a1a1a" stroke-width="0.7"/>
<circle cx="242.5" cy="235.02" r="1.2" fill="#c8c8c8" stroke="#1a1a1a" stroke-width="0.7"/>
<circle cx="245.2" cy="235.02" r="1.2" fill="#c8c8c8" stroke="#1a1a1a" stroke-width="0.7"/>
<circle cx="240" cy="237.75" r="1.2" fill="#c8c8c8" stroke="#1a1a1a" stroke-width="0.7"/>
<circle cx="244.8" cy="237.46" r="1.2" fill="#c8c8c8" stroke="#1a1a1a" stroke-width="0.7"/>
<circle cx="239" cy="241.48" r="1.2" fill="#c8c8c8" stroke="#1a1a1a" stroke-width="0.7"/>
<circle cx="242" cy="240.48" r="1.2" fill="#c8c8c8" stroke="#1a1a1a" stroke-width="0.7"/>
<circle cx="256" cy="194.52" r="1.2" fill="#c8c8c8" stroke="#1a1a1a" stroke-width="0.7"/>
<circle cx="254.5" cy="219.94" r="1.2" fill="#c8c8c8" stroke="#1a1a1a" stroke-width="0.7"/>
<circle cx="258.5" cy="220.66" r="1.2" fill="#c8c8c8" stroke="#1a1a1a" stroke-width="0.7"/>
<circle cx="253" cy="227.12" r="1.2" fill="#c8c8c8" stroke="#1a1a1a" stroke-width="0.7"/>
<circle cx="256.5" cy="228.13" r="1.2" fill="#c8c8c8" stroke="#1a1a1a" stroke-width="0.7"/>
<circle cx="255.7" cy="235.31" r="1.2" fill="#c8c8c8" stroke="#1a1a1a" stroke-width="0.7"/>
<circle cx="252.5" cy="224.25" r="1.2" fill="#c8c8c8" stroke="#1a1a1a" stroke-width="0.7"/>
<circle cx="273.5" cy="238.18" r="1.2" fill="#c8c8c8" stroke="#1a1a1a" stroke-width="0.7"/>
<circle cx="276.5" cy="238.61" r="1.2" fill="#c8c8c8" stroke="#1a1a1a" stroke-width="0.7"/>
<circle cx="279.5" cy="238.04" r="1.2" fill="#c8c8c8" stroke="#1a1a1a" stroke-width="0.7"/>
<circle cx="274" cy="240.76" r="1.2" fill="#c8c8c8" stroke="#1a1a1a" stroke-width="0.7"/>
<circle cx="277" cy="240.62" r="1.2" fill="#c8c8c8" stroke="#1a1a1a" stroke-width="0.7"/>
<circle cx="280" cy="240.91" r="1.2" fill="#c8c8c8" stroke="#1a1a1a" stroke-width="0.7"/>
<circle cx="275" cy="241.77" r="1.2" fill="#c8c8c8" stroke="#1a1a1a" stroke-width="0.7"/>
<circle cx="279" cy="241.63" r="1.2" fill="#c8c8c8" stroke="#1a1a1a" stroke-width="0.7"/>
<circle cx="291" cy="191.94" r="1.2" fill="#c8c8c8" stroke="#1a1a1a" stroke-width="0.7"/>
<circle cx="287.3" cy="197.4" r="1.2" fill="#c8c8c8" stroke="#1a1a1a" stroke-width="0.7"/>
<circle cx="291" cy="197.97" r="1.2" fill="#c8c8c8" stroke="#1a1a1a" stroke-width="0.7"/>
<circle cx="294.8" cy="196.97" r="1.2" fill="#c8c8c8" stroke="#1a1a1a" stroke-width="0.7"/>
<circle cx="291.2" cy="202.71" r="1.2" fill="#c8c8c8" stroke="#1a1a1a" stroke-width="0.7"/>
<circle cx="291" cy="219.51" r="1.2" fill="#c8c8c8" stroke="#1a1a1a" stroke-width="0.7"/>
<circle cx="291.5" cy="226.4" r="1.2" fill="#c8c8c8" stroke="#1a1a1a" stroke-width="0.7"/>
<text x="212.5" y="168.7" font-size="6.3" text-anchor="middle" stroke="#231f20" stroke-width="0.14">&lt;0.001</text>
<line x1="204.8" y1="169.5" x2="220.2" y2="169.5" stroke="#231f20" stroke-width="0.5" />
<text x="248.1" y="186.1" font-size="6.3" text-anchor="middle" stroke="#231f20" stroke-width="0.14">0.007</text>
<line x1="240.6" y1="187.5" x2="255.6" y2="187.5" stroke="#231f20" stroke-width="0.5" />
<text x="284.6" y="184.8" font-size="6.3" text-anchor="middle" stroke="#231f20" stroke-width="0.14">&lt;0.001</text>
<line x1="276.9" y1="186.5" x2="292.3" y2="186.5" stroke="#231f20" stroke-width="0.5" />
<text x="213.3" y="250.4" font-size="7.5" text-anchor="middle" stroke="#231f20" stroke-width="0.14">T</text>
<text x="248.5" y="250.4" font-size="7.5" text-anchor="middle" stroke="#231f20" stroke-width="0.14">B</text>
<text x="283.7" y="250.4" font-size="7.5" text-anchor="middle" stroke="#231f20" stroke-width="0.14">Myeloid</text>
<text x="251" y="261.6" font-size="7.5" text-anchor="middle" stroke="#231f20" stroke-width="0.14">16 weeks after 1° BMT</text>
<text x="345.6" y="133" font-size="15" font-weight="bold" fill="#231815">f</text>
<rect x="389.4" y="138.4" width="47.5" height="46.9" fill="#fff" stroke="#3a3a3a" stroke-width="0.7"/>
<line x1="388.4" y1="142.5" x2="389.4" y2="142.5" stroke="#555" stroke-width="0.4" />
<line x1="388.4" y1="148.5" x2="389.4" y2="148.5" stroke="#555" stroke-width="0.4" />
<line x1="388.4" y1="153.5" x2="389.4" y2="153.5" stroke="#555" stroke-width="0.4" />
<line x1="388.4" y1="159.5" x2="389.4" y2="159.5" stroke="#555" stroke-width="0.4" />
<line x1="388.4" y1="164.5" x2="389.4" y2="164.5" stroke="#555" stroke-width="0.4" />
<line x1="388.4" y1="170.5" x2="389.4" y2="170.5" stroke="#555" stroke-width="0.4" />
<line x1="388.4" y1="176.5" x2="389.4" y2="176.5" stroke="#555" stroke-width="0.4" />
<line x1="388.4" y1="181.5" x2="389.4" y2="181.5" stroke="#555" stroke-width="0.4" />
<line x1="392.5" y1="185.3" x2="392.5" y2="186.3" stroke="#555" stroke-width="0.4" />
<line x1="398.5" y1="185.3" x2="398.5" y2="186.3" stroke="#555" stroke-width="0.4" />
<line x1="404.5" y1="185.3" x2="404.5" y2="186.3" stroke="#555" stroke-width="0.4" />
<line x1="409.5" y1="185.3" x2="409.5" y2="186.3" stroke="#555" stroke-width="0.4" />
<line x1="415.5" y1="185.3" x2="415.5" y2="186.3" stroke="#555" stroke-width="0.4" />
<line x1="421.5" y1="185.3" x2="421.5" y2="186.3" stroke="#555" stroke-width="0.4" />
<line x1="427.5" y1="185.3" x2="427.5" y2="186.3" stroke="#555" stroke-width="0.4" />
<line x1="433.5" y1="185.3" x2="433.5" y2="186.3" stroke="#555" stroke-width="0.4" />
<g transform="translate(389.4 138.4)"><path d="M9.3,12.3 C15,11.2 26,11.4 33,12.2 C37.5,12.8 39.5,15 39.5,20 C41,22.5 43,24 45.2,25 C45.5,31 42,35.8 34,36.8 C26,37.6 16,37.8 9.3,37.4 Z" fill="#c4ccff" filter="url(#b1)"/><path d="M11,13.0 C16,12.3 25,12.5 31,13.2 C35.5,13.8 37.5,15.6 37.5,19 C37,21.5 33,22.3 28,22.5 C24,22.6 20,22.4 17,22 Z" fill="#5a72f5" filter="url(#b1)"/><path d="M18,22 C25,22.8 32,23 37,23.5 C39.5,25 41,26.3 42,27.5 C36,29.5 28,29.8 18,29.5 Z" fill="#b0bcfb" opacity="0.9" filter="url(#b1)"/><path d="M10,30.5 C20,31.2 30,31.0 37.5,29.3 C40.5,28.5 42.8,27 44.6,25.6 C44.6,29.5 42,33.5 36,35.4 C28,36.8 18,36.9 10,36.6 Z" fill="#2c46f2" filter="url(#b1)"/><path d="M9.8,13 C12,12.5 15.5,12.5 18.5,13 L19.5,36.6 L9.8,36.6 Z" fill="#2440f3" filter="url(#b1)"/><ellipse cx="35" cy="33.3" rx="5" ry="1.2" fill="#1aa8f0" opacity="0.5" filter="url(#b05)"/><ellipse cx="12.6" cy="25.5" rx="3.2" ry="11.2" fill="#16b8f0" filter="url(#b1)"/><ellipse cx="12.3" cy="25.6" rx="2.0" ry="9.4" fill="#40dc70" filter="url(#b05)"/><ellipse cx="12.3" cy="22.8" rx="1.25" ry="3.0" fill="#f2e23a" filter="url(#b05)"/><ellipse cx="12.3" cy="23.0" rx="0.8" ry="2.0" fill="#f59a25" filter="url(#b05)"/><ellipse cx="12.3" cy="32.6" rx="1.3" ry="2.4" fill="#f2e23a" filter="url(#b05)"/><ellipse cx="12.2" cy="33.6" rx="0.95" ry="1.3" fill="#f03010" filter="url(#b05)"/></g>
<circle cx="416.86" cy="165.93" r="0.35" fill="#ffffff" opacity="0.5"/>
<circle cx="417.04" cy="163.45" r="0.35" fill="#ffffff" opacity="0.5"/>
<circle cx="412.82" cy="163.76" r="0.35" fill="#ffffff" opacity="0.5"/>
<circle cx="425.07" cy="165.67" r="0.35" fill="#ffffff" opacity="0.5"/>
<circle cx="424.62" cy="165.15" r="0.35" fill="#ffffff" opacity="0.5"/>
<circle cx="420.77" cy="164.96" r="0.35" fill="#ffffff" opacity="0.5"/>
<circle cx="408.4" cy="166.97" r="0.35" fill="#ffffff" opacity="0.5"/>
<circle cx="421.44" cy="165.9" r="0.35" fill="#ffffff" opacity="0.5"/>
<circle cx="408.25" cy="159.17" r="0.35" fill="#ffffff" opacity="0.5"/>
<circle cx="413.06" cy="163" r="0.35" fill="#ffffff" opacity="0.5"/>
<circle cx="420.23" cy="164.26" r="0.35" fill="#ffffff" opacity="0.5"/>
<circle cx="421.53" cy="162.47" r="0.35" fill="#ffffff" opacity="0.5"/>
<circle cx="420.25" cy="165.58" r="0.35" fill="#ffffff" opacity="0.5"/>
<circle cx="414.43" cy="169.55" r="0.35" fill="#ffffff" opacity="0.5"/>
<circle cx="421.74" cy="167.99" r="0.35" fill="#ffffff" opacity="0.5"/>
<circle cx="414.68" cy="162.18" r="0.35" fill="#ffffff" opacity="0.5"/>
<circle cx="416.34" cy="164.08" r="0.35" fill="#ffffff" opacity="0.5"/>
<circle cx="422.19" cy="165.15" r="0.35" fill="#ffffff" opacity="0.5"/>
<circle cx="415.72" cy="161.53" r="0.35" fill="#ffffff" opacity="0.5"/>
<circle cx="415.28" cy="168.06" r="0.35" fill="#ffffff" opacity="0.5"/>
<circle cx="413.55" cy="165.13" r="0.35" fill="#ffffff" opacity="0.5"/>
<circle cx="420.96" cy="159.93" r="0.35" fill="#ffffff" opacity="0.5"/>
<circle cx="418.69" cy="168.32" r="0.35" fill="#ffffff" opacity="0.5"/>
<circle cx="406.31" cy="163.44" r="0.35" fill="#ffffff" opacity="0.5"/>
<circle cx="417.76" cy="161.95" r="0.35" fill="#ffffff" opacity="0.5"/>
<circle cx="421.38" cy="164.21" r="0.35" fill="#ffffff" opacity="0.5"/>
<circle cx="409.61" cy="166.88" r="0.35" fill="#ffffff" opacity="0.5"/>
<circle cx="422.42" cy="167.24" r="0.35" fill="#ffffff" opacity="0.5"/>
<circle cx="427.04" cy="165.49" r="0.35" fill="#ffffff" opacity="0.5"/>
<circle cx="419.12" cy="160.5" r="0.35" fill="#ffffff" opacity="0.5"/>
<circle cx="422.09" cy="162.56" r="0.35" fill="#ffffff" opacity="0.5"/>
<circle cx="415.68" cy="160.61" r="0.35" fill="#ffffff" opacity="0.5"/>
<circle cx="412.59" cy="162.81" r="0.35" fill="#ffffff" opacity="0.5"/>
<circle cx="426.13" cy="158.3" r="0.35" fill="#ffffff" opacity="0.5"/>
<circle cx="409.65" cy="165.12" r="0.35" fill="#ffffff" opacity="0.5"/>
<circle cx="427.06" cy="166.14" r="0.35" fill="#ffffff" opacity="0.5"/>
<circle cx="407" cy="156.85" r="0.35" fill="#ffffff" opacity="0.5"/>
<circle cx="420.54" cy="162.19" r="0.35" fill="#ffffff" opacity="0.5"/>
<circle cx="411.68" cy="167.33" r="0.35" fill="#ffffff" opacity="0.5"/>
<circle cx="425.01" cy="164.87" r="0.35" fill="#ffffff" opacity="0.5"/>
<circle cx="419.87" cy="165.7" r="0.35" fill="#ffffff" opacity="0.5"/>
<circle cx="427.96" cy="166.26" r="0.35" fill="#ffffff" opacity="0.5"/>
<circle cx="421.51" cy="166.04" r="0.35" fill="#ffffff" opacity="0.5"/>
<circle cx="408.99" cy="168.25" r="0.35" fill="#ffffff" opacity="0.5"/>
<circle cx="424.13" cy="165.99" r="0.35" fill="#ffffff" opacity="0.5"/>
<circle cx="406.56" cy="162.5" r="0.35" fill="#ffffff" opacity="0.5"/>
<circle cx="423.45" cy="158.97" r="0.35" fill="#ffffff" opacity="0.5"/>
<circle cx="417.3" cy="167.46" r="0.35" fill="#ffffff" opacity="0.5"/>
<circle cx="410.53" cy="169.23" r="0.35" fill="#ffffff" opacity="0.5"/>
<circle cx="421.71" cy="163.95" r="0.35" fill="#ffffff" opacity="0.5"/>
<circle cx="420.35" cy="166.35" r="0.35" fill="#ffffff" opacity="0.5"/>
<circle cx="419.12" cy="167.84" r="0.35" fill="#ffffff" opacity="0.5"/>
<circle cx="414.43" cy="163.16" r="0.35" fill="#ffffff" opacity="0.5"/>
<circle cx="424.65" cy="164.48" r="0.35" fill="#ffffff" opacity="0.5"/>
<circle cx="413.12" cy="167.24" r="0.35" fill="#ffffff" opacity="0.5"/>
<circle cx="427.19" cy="163.07" r="0.35" fill="#ffffff" opacity="0.5"/>
<circle cx="410.12" cy="164" r="0.35" fill="#ffffff" opacity="0.5"/>
<circle cx="417.51" cy="163.51" r="0.35" fill="#ffffff" opacity="0.5"/>
<circle cx="426.83" cy="161.32" r="0.35" fill="#ffffff" opacity="0.5"/>
<circle cx="425.96" cy="160.6" r="0.35" fill="#ffffff" opacity="0.5"/>
<circle cx="413.68" cy="166.29" r="0.35" fill="#ffffff" opacity="0.5"/>
<circle cx="425.17" cy="166.98" r="0.35" fill="#ffffff" opacity="0.5"/>
<circle cx="420.47" cy="164.83" r="0.35" fill="#ffffff" opacity="0.5"/>
<circle cx="419.31" cy="166.13" r="0.35" fill="#ffffff" opacity="0.5"/>
<circle cx="417.34" cy="165.23" r="0.35" fill="#ffffff" opacity="0.5"/>
<circle cx="421.84" cy="164.4" r="0.35" fill="#ffffff" opacity="0.5"/>
<circle cx="422.98" cy="166.1" r="0.35" fill="#ffffff" opacity="0.5"/>
<circle cx="430.46" cy="165.37" r="0.35" fill="#ffffff" opacity="0.5"/>
<circle cx="415.83" cy="163.28" r="0.35" fill="#ffffff" opacity="0.5"/>
<circle cx="418.32" cy="167.17" r="0.35" fill="#ffffff" opacity="0.5"/>
<circle cx="416.38" cy="165.56" r="0.35" fill="#ffffff" opacity="0.5"/>
<circle cx="429.42" cy="156.71" r="0.35" fill="#ffffff" opacity="0.5"/>
<circle cx="411.66" cy="165.13" r="0.35" fill="#ffffff" opacity="0.5"/>
<circle cx="420.79" cy="165.12" r="0.35" fill="#ffffff" opacity="0.5"/>
<circle cx="415.81" cy="166.37" r="0.35" fill="#ffffff" opacity="0.5"/>
<circle cx="420.09" cy="162.83" r="0.35" fill="#ffffff" opacity="0.5"/>
<circle cx="432.98" cy="165.47" r="0.35" fill="#ffffff" opacity="0.5"/>
<circle cx="415.07" cy="164.1" r="0.35" fill="#ffffff" opacity="0.5"/>
<circle cx="417.05" cy="164.21" r="0.35" fill="#ffffff" opacity="0.5"/>
<circle cx="402.03" cy="162.94" r="0.35" fill="#ffffff" opacity="0.5"/>
<circle cx="424.45" cy="160.89" r="0.35" fill="#ffffff" opacity="0.5"/>
<circle cx="418" cy="167.26" r="0.35" fill="#ffffff" opacity="0.5"/>
<circle cx="423.54" cy="168.87" r="0.35" fill="#ffffff" opacity="0.5"/>
<circle cx="408.19" cy="163.34" r="0.35" fill="#ffffff" opacity="0.5"/>
<circle cx="416.35" cy="166.27" r="0.35" fill="#ffffff" opacity="0.5"/>
<circle cx="424.95" cy="156.35" r="0.35" fill="#ffffff" opacity="0.5"/>
<circle cx="424.93" cy="160.06" r="0.35" fill="#ffffff" opacity="0.5"/>
<circle cx="422.5" cy="159.92" r="0.35" fill="#ffffff" opacity="0.5"/>
<circle cx="419.46" cy="167.98" r="0.35" fill="#ffffff" opacity="0.5"/>
<circle cx="417.5" cy="164.97" r="0.35" fill="#ffffff" opacity="0.5"/>
<circle cx="422.18" cy="155.82" r="0.32" fill="#8090fa" opacity="0.6"/>
<circle cx="416.87" cy="160" r="0.32" fill="#8090fa" opacity="0.6"/>
<circle cx="423.69" cy="154.52" r="0.32" fill="#8090fa" opacity="0.6"/>
<circle cx="433.87" cy="151.96" r="0.32" fill="#8090fa" opacity="0.6"/>
<circle cx="422.89" cy="154.6" r="0.32" fill="#8090fa" opacity="0.6"/>
<circle cx="418.19" cy="157.52" r="0.32" fill="#8090fa" opacity="0.6"/>
<circle cx="418.73" cy="157.32" r="0.32" fill="#8090fa" opacity="0.6"/>
<circle cx="408.24" cy="150.87" r="0.32" fill="#8090fa" opacity="0.6"/>
<circle cx="421.09" cy="152.51" r="0.32" fill="#8090fa" opacity="0.6"/>
<circle cx="411.24" cy="150.99" r="0.32" fill="#8090fa" opacity="0.6"/>
<circle cx="425" cy="157.64" r="0.32" fill="#8090fa" opacity="0.6"/>
<circle cx="426.24" cy="152.59" r="0.32" fill="#8090fa" opacity="0.6"/>
<circle cx="417.41" cy="151.98" r="0.32" fill="#8090fa" opacity="0.6"/>
<circle cx="422" cy="160.17" r="0.32" fill="#8090fa" opacity="0.6"/>
<circle cx="412.06" cy="160.08" r="0.32" fill="#8090fa" opacity="0.6"/>
<circle cx="423.33" cy="154.87" r="0.32" fill="#8090fa" opacity="0.6"/>
<circle cx="405.57" cy="159.62" r="0.32" fill="#8090fa" opacity="0.6"/>
<circle cx="416.82" cy="153.59" r="0.32" fill="#8090fa" opacity="0.6"/>
<circle cx="419.8" cy="156.63" r="0.32" fill="#8090fa" opacity="0.6"/>
<circle cx="426.39" cy="152.34" r="0.32" fill="#8090fa" opacity="0.6"/>
<circle cx="424.22" cy="159.86" r="0.32" fill="#8090fa" opacity="0.6"/>
<circle cx="426.11" cy="154.86" r="0.32" fill="#8090fa" opacity="0.6"/>
<circle cx="412.94" cy="158.46" r="0.32" fill="#8090fa" opacity="0.6"/>
<circle cx="418.09" cy="155.77" r="0.32" fill="#8090fa" opacity="0.6"/>
<circle cx="425.95" cy="154.61" r="0.32" fill="#8090fa" opacity="0.6"/>
<circle cx="403.62" cy="154.24" r="0.32" fill="#8090fa" opacity="0.6"/>
<circle cx="406.28" cy="157.86" r="0.32" fill="#8090fa" opacity="0.6"/>
<circle cx="419.3" cy="153.57" r="0.32" fill="#8090fa" opacity="0.6"/>
<circle cx="417.34" cy="157.9" r="0.32" fill="#8090fa" opacity="0.6"/>
<circle cx="417.87" cy="159.38" r="0.32" fill="#8090fa" opacity="0.6"/>
<circle cx="417.03" cy="158.52" r="0.32" fill="#8090fa" opacity="0.6"/>
<circle cx="426.35" cy="160.23" r="0.32" fill="#8090fa" opacity="0.6"/>
<circle cx="413.37" cy="158.04" r="0.32" fill="#8090fa" opacity="0.6"/>
<circle cx="406.14" cy="152.15" r="0.32" fill="#8090fa" opacity="0.6"/>
<circle cx="405.62" cy="158.61" r="0.32" fill="#8090fa" opacity="0.6"/>
<circle cx="410.01" cy="155.36" r="0.32" fill="#8090fa" opacity="0.6"/>
<circle cx="416.25" cy="155.31" r="0.32" fill="#8090fa" opacity="0.6"/>
<circle cx="413.85" cy="156.1" r="0.32" fill="#8090fa" opacity="0.6"/>
<circle cx="428.15" cy="155.53" r="0.32" fill="#8090fa" opacity="0.6"/>
<circle cx="420.59" cy="158.4" r="0.32" fill="#8090fa" opacity="0.6"/>
<circle cx="416.21" cy="151.62" r="0.32" fill="#8090fa" opacity="0.6"/>
<circle cx="414.07" cy="158.62" r="0.32" fill="#8090fa" opacity="0.6"/>
<circle cx="407.52" cy="153.61" r="0.32" fill="#8090fa" opacity="0.6"/>
<circle cx="423.44" cy="157.78" r="0.32" fill="#8090fa" opacity="0.6"/>
<circle cx="417.45" cy="157.82" r="0.32" fill="#8090fa" opacity="0.6"/>
<circle cx="418.4" cy="151.86" r="0.32" fill="#8090fa" opacity="0.6"/>
<circle cx="408.02" cy="153.48" r="0.32" fill="#8090fa" opacity="0.6"/>
<circle cx="422.94" cy="153.7" r="0.32" fill="#8090fa" opacity="0.6"/>
<circle cx="411.99" cy="153.09" r="0.32" fill="#8090fa" opacity="0.6"/>
<circle cx="408.21" cy="155.05" r="0.32" fill="#8090fa" opacity="0.6"/>
<circle cx="410.32" cy="156.49" r="0.32" fill="#8090fa" opacity="0.6"/>
<circle cx="403.24" cy="156.38" r="0.32" fill="#8090fa" opacity="0.6"/>
<circle cx="413.55" cy="149.57" r="0.32" fill="#8090fa" opacity="0.6"/>
<circle cx="421.75" cy="154.57" r="0.32" fill="#8090fa" opacity="0.6"/>
<circle cx="404.02" cy="152.77" r="0.32" fill="#8090fa" opacity="0.6"/>
<circle cx="419.15" cy="154.02" r="0.32" fill="#8090fa" opacity="0.6"/>
<circle cx="422.08" cy="157.64" r="0.32" fill="#8090fa" opacity="0.6"/>
<circle cx="421.4" cy="156.38" r="0.32" fill="#8090fa" opacity="0.6"/>
<circle cx="425.4" cy="157.38" r="0.32" fill="#8090fa" opacity="0.6"/>
<circle cx="420.11" cy="149.15" r="0.32" fill="#8090fa" opacity="0.6"/>
<circle cx="424.37" cy="170.26" r="0.3" fill="#7d8cfa" opacity="0.5"/>
<circle cx="412.43" cy="159.58" r="0.3" fill="#7d8cfa" opacity="0.5"/>
<circle cx="434.8" cy="151.85" r="0.3" fill="#7d8cfa" opacity="0.5"/>
<circle cx="420.09" cy="176.94" r="0.3" fill="#7d8cfa" opacity="0.5"/>
<circle cx="406.12" cy="166.54" r="0.3" fill="#7d8cfa" opacity="0.5"/>
<circle cx="434.26" cy="161.68" r="0.3" fill="#7d8cfa" opacity="0.5"/>
<circle cx="421.01" cy="167.82" r="0.3" fill="#7d8cfa" opacity="0.5"/>
<circle cx="406.34" cy="161.87" r="0.3" fill="#7d8cfa" opacity="0.5"/>
<circle cx="418.33" cy="167.35" r="0.3" fill="#7d8cfa" opacity="0.5"/>
<circle cx="415.05" cy="161.23" r="0.3" fill="#7d8cfa" opacity="0.5"/>
<circle cx="405.24" cy="160.25" r="0.3" fill="#7d8cfa" opacity="0.5"/>
<circle cx="424.32" cy="163.01" r="0.3" fill="#7d8cfa" opacity="0.5"/>
<circle cx="406.87" cy="157.35" r="0.3" fill="#7d8cfa" opacity="0.5"/>
<circle cx="442.07" cy="169.24" r="0.3" fill="#7d8cfa" opacity="0.5"/>
<circle cx="421.77" cy="146.84" r="0.3" fill="#7d8cfa" opacity="0.5"/>
<circle cx="421.61" cy="165.28" r="0.3" fill="#7d8cfa" opacity="0.5"/>
<circle cx="432.24" cy="164.97" r="0.3" fill="#7d8cfa" opacity="0.5"/>
<circle cx="414.73" cy="165.53" r="0.3" fill="#7d8cfa" opacity="0.5"/>
<circle cx="395.96" cy="168.6" r="0.3" fill="#7d8cfa" opacity="0.5"/>
<circle cx="418.65" cy="158.19" r="0.3" fill="#7d8cfa" opacity="0.5"/>
<circle cx="428.66" cy="173.26" r="0.3" fill="#7d8cfa" opacity="0.5"/>
<circle cx="401.38" cy="158.4" r="0.3" fill="#7d8cfa" opacity="0.5"/>
<circle cx="418.31" cy="163.5" r="0.3" fill="#7d8cfa" opacity="0.5"/>
<circle cx="411.42" cy="156.55" r="0.3" fill="#7d8cfa" opacity="0.5"/>
<circle cx="436.6" cy="168.62" r="0.3" fill="#7d8cfa" opacity="0.5"/>
<circle cx="403.46" cy="154.33" r="0.3" fill="#7d8cfa" opacity="0.5"/>
<circle cx="432.43" cy="168.33" r="0.3" fill="#7d8cfa" opacity="0.5"/>
<circle cx="433.61" cy="167.26" r="0.3" fill="#7d8cfa" opacity="0.5"/>
<circle cx="406.68" cy="163.96" r="0.3" fill="#7d8cfa" opacity="0.5"/>
<circle cx="393.8" cy="157.91" r="0.3" fill="#7d8cfa" opacity="0.5"/>
<circle cx="414.81" cy="165.54" r="0.3" fill="#7d8cfa" opacity="0.5"/>
<circle cx="408.12" cy="161.65" r="0.3" fill="#7d8cfa" opacity="0.5"/>
<circle cx="419.99" cy="164.66" r="0.3" fill="#7d8cfa" opacity="0.5"/>
<circle cx="421.78" cy="163.65" r="0.3" fill="#7d8cfa" opacity="0.5"/>
<circle cx="412.16" cy="167.13" r="0.3" fill="#7d8cfa" opacity="0.5"/>
<circle cx="415.89" cy="157.44" r="0.3" fill="#7d8cfa" opacity="0.5"/>
<circle cx="409.14" cy="162.4" r="0.3" fill="#7d8cfa" opacity="0.5"/>
<circle cx="414.3" cy="163.34" r="0.3" fill="#7d8cfa" opacity="0.5"/>
<circle cx="415.4" cy="163.46" r="0.3" fill="#7d8cfa" opacity="0.5"/>
<circle cx="414.06" cy="154.85" r="0.3" fill="#7d8cfa" opacity="0.5"/>
<circle cx="419.61" cy="168.72" r="0.3" fill="#7d8cfa" opacity="0.5"/>
<circle cx="419.75" cy="161.26" r="0.3" fill="#7d8cfa" opacity="0.5"/>
<circle cx="419.86" cy="156.61" r="0.3" fill="#7d8cfa" opacity="0.5"/>
<circle cx="396.44" cy="162.76" r="0.3" fill="#7d8cfa" opacity="0.5"/>
<circle cx="406.1" cy="166.84" r="0.3" fill="#7d8cfa" opacity="0.5"/>
<circle cx="404.56" cy="146.63" r="0.3" fill="#7d8cfa" opacity="0.5"/>
<circle cx="405" cy="171.87" r="0.3" fill="#7d8cfa" opacity="0.5"/>
<circle cx="411.58" cy="154.18" r="0.3" fill="#7d8cfa" opacity="0.5"/>
<circle cx="407.77" cy="165.53" r="0.3" fill="#7d8cfa" opacity="0.5"/>
<circle cx="420.37" cy="163.46" r="0.3" fill="#7d8cfa" opacity="0.5"/>
<circle cx="430.24" cy="166.64" r="0.3" fill="#7d8cfa" opacity="0.5"/>
<circle cx="415.19" cy="165.98" r="0.3" fill="#7d8cfa" opacity="0.5"/>
<circle cx="431.95" cy="168.23" r="0.3" fill="#7d8cfa" opacity="0.5"/>
<circle cx="425.64" cy="155.9" r="0.3" fill="#7d8cfa" opacity="0.5"/>
<circle cx="413.92" cy="166.78" r="0.3" fill="#7d8cfa" opacity="0.5"/>
<circle cx="412.44" cy="168.81" r="0.3" fill="#7d8cfa" opacity="0.5"/>
<circle cx="421.36" cy="167.85" r="0.3" fill="#7d8cfa" opacity="0.5"/>
<circle cx="413.28" cy="177.68" r="0.3" fill="#7d8cfa" opacity="0.5"/>
<circle cx="427.8" cy="161.11" r="0.3" fill="#7d8cfa" opacity="0.5"/>
<circle cx="416.31" cy="177.97" r="0.3" fill="#7d8cfa" opacity="0.5"/>
<circle cx="411.97" cy="167.64" r="0.3" fill="#7d8cfa" opacity="0.5"/>
<circle cx="425.2" cy="162.44" r="0.3" fill="#7d8cfa" opacity="0.5"/>
<circle cx="403.73" cy="163.53" r="0.3" fill="#7d8cfa" opacity="0.5"/>
<circle cx="418.99" cy="169.18" r="0.3" fill="#7d8cfa" opacity="0.5"/>
<circle cx="423.23" cy="162.55" r="0.3" fill="#7d8cfa" opacity="0.5"/>
<circle cx="423.94" cy="165.64" r="0.3" fill="#7d8cfa" opacity="0.5"/>
<circle cx="417.46" cy="162.73" r="0.3" fill="#7d8cfa" opacity="0.5"/>
<circle cx="412.97" cy="166.52" r="0.3" fill="#7d8cfa" opacity="0.5"/>
<circle cx="404.86" cy="158.63" r="0.3" fill="#7d8cfa" opacity="0.5"/>
<circle cx="415.45" cy="153.62" r="0.3" fill="#7d8cfa" opacity="0.5"/>
<circle cx="411.04" cy="150.35" r="0.3" fill="#7d8cfa" opacity="0.5"/>
<circle cx="408.57" cy="165.81" r="0.3" fill="#7d8cfa" opacity="0.5"/>
<circle cx="421.06" cy="162.07" r="0.3" fill="#7d8cfa" opacity="0.5"/>
<circle cx="413.08" cy="153.9" r="0.3" fill="#7d8cfa" opacity="0.5"/>
<circle cx="433.68" cy="165.5" r="0.3" fill="#7d8cfa" opacity="0.5"/>
<circle cx="426.33" cy="157.11" r="0.3" fill="#7d8cfa" opacity="0.5"/>
<circle cx="413.55" cy="151.48" r="0.3" fill="#7d8cfa" opacity="0.5"/>
<circle cx="423.2" cy="168.01" r="0.3" fill="#7d8cfa" opacity="0.5"/>
<circle cx="396.43" cy="162.09" r="0.3" fill="#7d8cfa" opacity="0.5"/>
<circle cx="421.7" cy="151.83" r="0.3" fill="#7d8cfa" opacity="0.5"/>
<rect x="410.4" y="149.5" width="16.1" height="11.8" fill="none" stroke="#555" stroke-width="0.65"/>
<text x="420.1" y="147.8" font-size="7.3" text-anchor="middle" stroke="#231f20" stroke-width="0.14">1.4%</text>
<line x1="426.5" y1="155.5" x2="446.6" y2="155.5" stroke="#222" stroke-width="0.7" />
<path d="M448.4,155.3 L446.2,154 L446.2,156.6 Z" fill="#222"/>
<rect x="448.4" y="138.4" width="47.5" height="46.9" fill="#fff" stroke="#3a3a3a" stroke-width="0.7"/>
<line x1="447.4" y1="142.5" x2="448.4" y2="142.5" stroke="#555" stroke-width="0.4" />
<line x1="447.4" y1="148.5" x2="448.4" y2="148.5" stroke="#555" stroke-width="0.4" />
<line x1="447.4" y1="153.5" x2="448.4" y2="153.5" stroke="#555" stroke-width="0.4" />
<line x1="447.4" y1="159.5" x2="448.4" y2="159.5" stroke="#555" stroke-width="0.4" />
<line x1="447.4" y1="164.5" x2="448.4" y2="164.5" stroke="#555" stroke-width="0.4" />
<line x1="447.4" y1="170.5" x2="448.4" y2="170.5" stroke="#555" stroke-width="0.4" />
<line x1="447.4" y1="176.5" x2="448.4" y2="176.5" stroke="#555" stroke-width="0.4" />
<line x1="447.4" y1="181.5" x2="448.4" y2="181.5" stroke="#555" stroke-width="0.4" />
<line x1="451.5" y1="185.3" x2="451.5" y2="186.3" stroke="#555" stroke-width="0.4" />
<line x1="457.5" y1="185.3" x2="457.5" y2="186.3" stroke="#555" stroke-width="0.4" />
<line x1="463.5" y1="185.3" x2="463.5" y2="186.3" stroke="#555" stroke-width="0.4" />
<line x1="468.5" y1="185.3" x2="468.5" y2="186.3" stroke="#555" stroke-width="0.4" />
<line x1="474.5" y1="185.3" x2="474.5" y2="186.3" stroke="#555" stroke-width="0.4" />
<line x1="480.5" y1="185.3" x2="480.5" y2="186.3" stroke="#555" stroke-width="0.4" />
<line x1="486.5" y1="185.3" x2="486.5" y2="186.3" stroke="#555" stroke-width="0.4" />
<line x1="492.5" y1="185.3" x2="492.5" y2="186.3" stroke="#555" stroke-width="0.4" />
<circle cx="460.77" cy="156.41" r="0.32" fill="#7585f5" opacity="0.6"/>
<circle cx="466.75" cy="154.38" r="0.32" fill="#7585f5" opacity="0.6"/>
<circle cx="470.06" cy="164.3" r="0.32" fill="#7585f5" opacity="0.6"/>
<circle cx="473.07" cy="167.01" r="0.32" fill="#7585f5" opacity="0.6"/>
<circle cx="477.41" cy="169.79" r="0.32" fill="#7585f5" opacity="0.6"/>
<circle cx="463.34" cy="159.77" r="0.32" fill="#7585f5" opacity="0.6"/>
<circle cx="464.6" cy="156.34" r="0.32" fill="#7585f5" opacity="0.6"/>
<circle cx="469.49" cy="162.83" r="0.32" fill="#7585f5" opacity="0.6"/>
<circle cx="472.35" cy="153.28" r="0.32" fill="#7585f5" opacity="0.6"/>
<circle cx="463.71" cy="162.66" r="0.32" fill="#7585f5" opacity="0.6"/>
<circle cx="468.9" cy="160.93" r="0.32" fill="#7585f5" opacity="0.6"/>
<circle cx="469.58" cy="158.24" r="0.32" fill="#7585f5" opacity="0.6"/>
<circle cx="473.41" cy="164.93" r="0.32" fill="#7585f5" opacity="0.6"/>
<circle cx="469.46" cy="158.77" r="0.32" fill="#7585f5" opacity="0.6"/>
<circle cx="469.03" cy="146.47" r="0.32" fill="#7585f5" opacity="0.6"/>
<circle cx="464.99" cy="163.02" r="0.32" fill="#7585f5" opacity="0.6"/>
<circle cx="462.38" cy="164" r="0.32" fill="#7585f5" opacity="0.6"/>
<circle cx="470.64" cy="154.53" r="0.32" fill="#7585f5" opacity="0.6"/>
<circle cx="468.65" cy="160.92" r="0.32" fill="#7585f5" opacity="0.6"/>
<circle cx="472.2" cy="166.47" r="0.32" fill="#7585f5" opacity="0.6"/>
<circle cx="469.72" cy="157.69" r="0.32" fill="#7585f5" opacity="0.6"/>
<circle cx="469.18" cy="162.41" r="0.32" fill="#7585f5" opacity="0.6"/>
<circle cx="473.57" cy="164.57" r="0.32" fill="#7585f5" opacity="0.6"/>
<circle cx="466.29" cy="154.67" r="0.32" fill="#7585f5" opacity="0.6"/>
<circle cx="468.03" cy="158.36" r="0.32" fill="#7585f5" opacity="0.6"/>
<circle cx="464.34" cy="162.1" r="0.32" fill="#7585f5" opacity="0.6"/>
<circle cx="467.44" cy="163.43" r="0.32" fill="#7585f5" opacity="0.6"/>
<circle cx="472.52" cy="160.32" r="0.32" fill="#7585f5" opacity="0.6"/>
<circle cx="481.52" cy="160.87" r="0.32" fill="#7585f5" opacity="0.6"/>
<circle cx="475.41" cy="163.53" r="0.32" fill="#7585f5" opacity="0.6"/>
<circle cx="475.48" cy="148.54" r="0.32" fill="#7585f5" opacity="0.6"/>
<circle cx="466.14" cy="164.28" r="0.32" fill="#7585f5" opacity="0.6"/>
<circle cx="472.91" cy="176.82" r="0.32" fill="#7585f5" opacity="0.6"/>
<circle cx="471.51" cy="170.48" r="0.32" fill="#7585f5" opacity="0.6"/>
<circle cx="473.73" cy="168.48" r="0.32" fill="#7585f5" opacity="0.6"/>
<circle cx="472.45" cy="161.86" r="0.32" fill="#7585f5" opacity="0.6"/>
<circle cx="472.45" cy="156.33" r="0.32" fill="#7585f5" opacity="0.6"/>
<circle cx="475.81" cy="156.7" r="0.32" fill="#7585f5" opacity="0.6"/>
<circle cx="471.15" cy="175.52" r="0.32" fill="#7585f5" opacity="0.6"/>
<circle cx="468.78" cy="162.92" r="0.32" fill="#7585f5" opacity="0.6"/>
<circle cx="475.72" cy="162.96" r="0.32" fill="#7585f5" opacity="0.6"/>
<circle cx="465.86" cy="164.35" r="0.32" fill="#7585f5" opacity="0.6"/>
<circle cx="472.81" cy="167.06" r="0.32" fill="#7585f5" opacity="0.6"/>
<circle cx="466.04" cy="173.32" r="0.32" fill="#7585f5" opacity="0.6"/>
<circle cx="478.23" cy="162.91" r="0.32" fill="#7585f5" opacity="0.6"/>
<circle cx="471.24" cy="160.23" r="0.32" fill="#7585f5" opacity="0.6"/>
<circle cx="476.97" cy="158.57" r="0.32" fill="#7585f5" opacity="0.6"/>
<circle cx="473.27" cy="159.92" r="0.32" fill="#7585f5" opacity="0.6"/>
<circle cx="466.43" cy="167.11" r="0.32" fill="#7585f5" opacity="0.6"/>
<circle cx="476.57" cy="162.74" r="0.32" fill="#7585f5" opacity="0.6"/>
<circle cx="466.51" cy="167.67" r="0.32" fill="#7585f5" opacity="0.6"/>
<circle cx="469.65" cy="164.66" r="0.32" fill="#7585f5" opacity="0.6"/>
<circle cx="477.51" cy="169.59" r="0.32" fill="#7585f5" opacity="0.6"/>
<circle cx="467.3" cy="176.5" r="0.32" fill="#7585f5" opacity="0.6"/>
<circle cx="469.92" cy="167.52" r="0.32" fill="#7585f5" opacity="0.6"/>
<circle cx="466.66" cy="162.53" r="0.32" fill="#7585f5" opacity="0.6"/>
<circle cx="461.15" cy="173.52" r="0.32" fill="#7585f5" opacity="0.6"/>
<circle cx="476.73" cy="155.51" r="0.32" fill="#7585f5" opacity="0.6"/>
<circle cx="462.37" cy="153.07" r="0.32" fill="#7585f5" opacity="0.6"/>
<circle cx="475.78" cy="160.04" r="0.32" fill="#7585f5" opacity="0.6"/>
<circle cx="469.6" cy="160.92" r="0.32" fill="#7585f5" opacity="0.6"/>
<circle cx="469.29" cy="156.27" r="0.32" fill="#7585f5" opacity="0.6"/>
<circle cx="470.02" cy="154.17" r="0.32" fill="#7585f5" opacity="0.6"/>
<circle cx="469.54" cy="164.65" r="0.32" fill="#7585f5" opacity="0.6"/>
<circle cx="472.24" cy="161.41" r="0.32" fill="#7585f5" opacity="0.6"/>
<circle cx="465.38" cy="163.76" r="0.32" fill="#7585f5" opacity="0.6"/>
<circle cx="467.48" cy="172.2" r="0.32" fill="#7585f5" opacity="0.6"/>
<circle cx="473.74" cy="162.11" r="0.32" fill="#7585f5" opacity="0.6"/>
<circle cx="467.54" cy="158.58" r="0.32" fill="#7585f5" opacity="0.6"/>
<circle cx="465.21" cy="160.68" r="0.32" fill="#7585f5" opacity="0.6"/>
<circle cx="471.37" cy="165.89" r="0.32" fill="#7585f5" opacity="0.6"/>
<circle cx="472.74" cy="175.39" r="0.32" fill="#7585f5" opacity="0.6"/>
<circle cx="466.38" cy="162.88" r="0.32" fill="#7585f5" opacity="0.6"/>
<circle cx="483.87" cy="151.6" r="0.32" fill="#7585f5" opacity="0.6"/>
<circle cx="467.29" cy="163.82" r="0.32" fill="#7585f5" opacity="0.6"/>
<circle cx="470.67" cy="165.25" r="0.32" fill="#7585f5" opacity="0.6"/>
<circle cx="468.71" cy="165" r="0.32" fill="#7585f5" opacity="0.6"/>
<circle cx="470.16" cy="167.43" r="0.32" fill="#7585f5" opacity="0.6"/>
<circle cx="460.44" cy="157.49" r="0.32" fill="#7585f5" opacity="0.6"/>
<circle cx="469.89" cy="156.61" r="0.32" fill="#7585f5" opacity="0.6"/>
<circle cx="464.68" cy="166.57" r="0.32" fill="#7585f5" opacity="0.6"/>
<circle cx="466.65" cy="166.61" r="0.32" fill="#7585f5" opacity="0.6"/>
<circle cx="473.63" cy="164.64" r="0.32" fill="#7585f5" opacity="0.6"/>
<circle cx="472.44" cy="162.17" r="0.32" fill="#7585f5" opacity="0.6"/>
<circle cx="462.85" cy="162.62" r="0.32" fill="#7585f5" opacity="0.6"/>
<circle cx="472.17" cy="159.62" r="0.32" fill="#7585f5" opacity="0.6"/>
<circle cx="469.4" cy="167.3" r="0.32" fill="#7585f5" opacity="0.6"/>
<circle cx="465.51" cy="166.64" r="0.32" fill="#7585f5" opacity="0.6"/>
<circle cx="479.21" cy="159.47" r="0.32" fill="#7585f5" opacity="0.6"/>
<circle cx="470.63" cy="161.9" r="0.32" fill="#7585f5" opacity="0.6"/>
<circle cx="477.6" cy="164.7" r="0.32" fill="#7585f5" opacity="0.6"/>
<circle cx="474.39" cy="158.66" r="0.32" fill="#7585f5" opacity="0.6"/>
<circle cx="469.82" cy="162.74" r="0.32" fill="#7585f5" opacity="0.6"/>
<circle cx="461.02" cy="171.44" r="0.32" fill="#7585f5" opacity="0.6"/>
<circle cx="474.4" cy="152.31" r="0.32" fill="#7585f5" opacity="0.6"/>
<circle cx="473.62" cy="162.01" r="0.32" fill="#7585f5" opacity="0.6"/>
<circle cx="472.14" cy="165" r="0.32" fill="#7585f5" opacity="0.6"/>
<circle cx="462.41" cy="161.53" r="0.32" fill="#7585f5" opacity="0.6"/>
<circle cx="477.36" cy="159.35" r="0.32" fill="#7585f5" opacity="0.6"/>
<circle cx="464.79" cy="154.64" r="0.32" fill="#7585f5" opacity="0.6"/>
<circle cx="463.79" cy="164.81" r="0.32" fill="#7585f5" opacity="0.6"/>
<circle cx="478.36" cy="165.38" r="0.32" fill="#7585f5" opacity="0.6"/>
<circle cx="471.13" cy="176.2" r="0.32" fill="#7585f5" opacity="0.6"/>
<circle cx="467.3" cy="158.76" r="0.32" fill="#7585f5" opacity="0.6"/>
<circle cx="472.54" cy="166.09" r="0.32" fill="#7585f5" opacity="0.6"/>
<circle cx="464.83" cy="155.78" r="0.32" fill="#7585f5" opacity="0.6"/>
<circle cx="471.36" cy="164.28" r="0.32" fill="#7585f5" opacity="0.6"/>
<circle cx="463.37" cy="161.59" r="0.32" fill="#7585f5" opacity="0.6"/>
<circle cx="467.19" cy="165.56" r="0.32" fill="#7585f5" opacity="0.6"/>
<circle cx="469.32" cy="162.28" r="0.32" fill="#7585f5" opacity="0.6"/>
<circle cx="468.13" cy="169.12" r="0.32" fill="#7585f5" opacity="0.6"/>
<circle cx="476.85" cy="160.6" r="0.32" fill="#7585f5" opacity="0.6"/>
<circle cx="474.13" cy="158.25" r="0.32" fill="#7585f5" opacity="0.6"/>
<circle cx="470.26" cy="167.3" r="0.32" fill="#7585f5" opacity="0.6"/>
<circle cx="477.47" cy="160.5" r="0.32" fill="#7585f5" opacity="0.6"/>
<circle cx="469.53" cy="163.98" r="0.32" fill="#7585f5" opacity="0.6"/>
<circle cx="462.41" cy="162.9" r="0.32" fill="#7585f5" opacity="0.6"/>
<circle cx="466.52" cy="165.03" r="0.32" fill="#7585f5" opacity="0.6"/>
<circle cx="464.25" cy="150.94" r="0.32" fill="#7585f5" opacity="0.6"/>
<circle cx="470.09" cy="164.36" r="0.32" fill="#7585f5" opacity="0.6"/>
<circle cx="467.88" cy="158.15" r="0.35" fill="#4050f0" opacity="0.7"/>
<circle cx="468.89" cy="155.88" r="0.35" fill="#4050f0" opacity="0.7"/>
<circle cx="471.66" cy="154.42" r="0.35" fill="#4050f0" opacity="0.7"/>
<circle cx="467.41" cy="156.77" r="0.35" fill="#4050f0" opacity="0.7"/>
<circle cx="473.02" cy="156.55" r="0.35" fill="#4050f0" opacity="0.7"/>
<circle cx="471.04" cy="155.8" r="0.35" fill="#4050f0" opacity="0.7"/>
<circle cx="471.01" cy="159.33" r="0.35" fill="#4050f0" opacity="0.7"/>
<circle cx="467.37" cy="160.4" r="0.35" fill="#4050f0" opacity="0.7"/>
<circle cx="467.53" cy="156.83" r="0.35" fill="#4050f0" opacity="0.7"/>
<circle cx="470.54" cy="158.36" r="0.35" fill="#4050f0" opacity="0.7"/>
<circle cx="465.35" cy="153.61" r="0.35" fill="#4050f0" opacity="0.7"/>
<circle cx="472.13" cy="158.01" r="0.35" fill="#4050f0" opacity="0.7"/>
<circle cx="472.2" cy="160.8" r="0.35" fill="#4050f0" opacity="0.7"/>
<circle cx="470.65" cy="157.19" r="0.35" fill="#4050f0" opacity="0.7"/>
<circle cx="473.32" cy="157.36" r="0.35" fill="#4050f0" opacity="0.7"/>
<circle cx="476.02" cy="154.92" r="0.35" fill="#4050f0" opacity="0.7"/>
<circle cx="468.52" cy="151.56" r="0.35" fill="#4050f0" opacity="0.7"/>
<circle cx="472.89" cy="156.23" r="0.35" fill="#4050f0" opacity="0.7"/>
<circle cx="473.3" cy="160.07" r="0.35" fill="#4050f0" opacity="0.7"/>
<circle cx="469.88" cy="156.41" r="0.35" fill="#4050f0" opacity="0.7"/>
<circle cx="468.06" cy="155.53" r="0.35" fill="#4050f0" opacity="0.7"/>
<circle cx="467.58" cy="157.77" r="0.35" fill="#4050f0" opacity="0.7"/>
<circle cx="470.04" cy="156.9" r="0.35" fill="#4050f0" opacity="0.7"/>
<circle cx="469.26" cy="158.19" r="0.35" fill="#4050f0" opacity="0.7"/>
<circle cx="471.72" cy="156.58" r="0.35" fill="#4050f0" opacity="0.7"/>
<circle cx="472.35" cy="156.57" r="0.35" fill="#4050f0" opacity="0.7"/>
<circle cx="465.66" cy="159.01" r="0.35" fill="#4050f0" opacity="0.7"/>
<circle cx="471.61" cy="155.34" r="0.35" fill="#4050f0" opacity="0.7"/>
<circle cx="473.87" cy="157.32" r="0.35" fill="#4050f0" opacity="0.7"/>
<circle cx="464.14" cy="159.25" r="0.35" fill="#4050f0" opacity="0.7"/>
<circle cx="471.13" cy="158.16" r="0.35" fill="#4050f0" opacity="0.7"/>
<circle cx="470.63" cy="156.57" r="0.35" fill="#4050f0" opacity="0.7"/>
<circle cx="464.2" cy="158.28" r="0.35" fill="#4050f0" opacity="0.7"/>
<circle cx="470.01" cy="156.36" r="0.35" fill="#4050f0" opacity="0.7"/>
<circle cx="471.19" cy="156.92" r="0.35" fill="#4050f0" opacity="0.7"/>
<circle cx="472.39" cy="156.24" r="0.35" fill="#4050f0" opacity="0.7"/>
<circle cx="469.77" cy="153.55" r="0.35" fill="#4050f0" opacity="0.7"/>
<circle cx="468.34" cy="157.83" r="0.35" fill="#4050f0" opacity="0.7"/>
<circle cx="474.82" cy="156.25" r="0.35" fill="#4050f0" opacity="0.7"/>
<circle cx="469.45" cy="159.21" r="0.35" fill="#4050f0" opacity="0.7"/>
<circle cx="468.7" cy="157.92" r="0.35" fill="#4050f0" opacity="0.7"/>
<circle cx="476.08" cy="156.86" r="0.35" fill="#4050f0" opacity="0.7"/>
<circle cx="474.42" cy="155.72" r="0.35" fill="#4050f0" opacity="0.7"/>
<circle cx="470.66" cy="156.68" r="0.35" fill="#4050f0" opacity="0.7"/>
<circle cx="470.32" cy="158.52" r="0.35" fill="#4050f0" opacity="0.7"/>
<circle cx="478.69" cy="155.79" r="0.35" fill="#4050f0" opacity="0.7"/>
<circle cx="467.78" cy="157.56" r="0.35" fill="#4050f0" opacity="0.7"/>
<circle cx="466.02" cy="157.56" r="0.35" fill="#4050f0" opacity="0.7"/>
<circle cx="472" cy="156.38" r="0.35" fill="#4050f0" opacity="0.7"/>
<circle cx="471.85" cy="154.45" r="0.35" fill="#4050f0" opacity="0.7"/>
<circle cx="472.7" cy="154.45" r="0.35" fill="#4050f0" opacity="0.7"/>
<circle cx="467.34" cy="155.95" r="0.35" fill="#4050f0" opacity="0.7"/>
<circle cx="468.42" cy="158.11" r="0.35" fill="#4050f0" opacity="0.7"/>
<circle cx="470.2" cy="156.2" r="0.35" fill="#4050f0" opacity="0.7"/>
<circle cx="471.9" cy="159.2" r="0.35" fill="#4050f0" opacity="0.7"/>
<circle cx="469.92" cy="157.36" r="0.35" fill="#4050f0" opacity="0.7"/>
<circle cx="474.46" cy="157.21" r="0.35" fill="#4050f0" opacity="0.7"/>
<circle cx="465.18" cy="160.59" r="0.35" fill="#4050f0" opacity="0.7"/>
<circle cx="478.03" cy="153.78" r="0.35" fill="#4050f0" opacity="0.7"/>
<circle cx="469.76" cy="157.43" r="0.35" fill="#4050f0" opacity="0.7"/>
<ellipse cx="469.9" cy="156.8" rx="4.6" ry="1.9" fill="#4558f0" opacity="0.85" filter="url(#b05)"/>
<ellipse cx="469.9" cy="156.8" rx="2.30" ry="0.95" fill="#36b8a8" filter="url(#b05)"/>
<ellipse cx="469.4" cy="157" rx="0.83" ry="0.47" fill="#d8d030" filter="url(#b05)"/>
<circle cx="484.41" cy="176.08" r="0.32" fill="#7080f0" opacity="0.55"/>
<circle cx="481.32" cy="169.18" r="0.32" fill="#7080f0" opacity="0.55"/>
<circle cx="482.26" cy="177.53" r="0.32" fill="#7080f0" opacity="0.55"/>
<circle cx="479.28" cy="169.29" r="0.32" fill="#7080f0" opacity="0.55"/>
<circle cx="481.94" cy="165.65" r="0.32" fill="#7080f0" opacity="0.55"/>
<circle cx="481.35" cy="171.65" r="0.32" fill="#7080f0" opacity="0.55"/>
<circle cx="483.13" cy="170.59" r="0.32" fill="#7080f0" opacity="0.55"/>
<circle cx="479.79" cy="171.82" r="0.32" fill="#7080f0" opacity="0.55"/>
<circle cx="481.88" cy="170.74" r="0.32" fill="#7080f0" opacity="0.55"/>
<circle cx="482.03" cy="176.4" r="0.32" fill="#7080f0" opacity="0.55"/>
<circle cx="484.96" cy="180.22" r="0.32" fill="#7080f0" opacity="0.55"/>
<circle cx="480.04" cy="171.72" r="0.32" fill="#7080f0" opacity="0.55"/>
<circle cx="475.79" cy="181" r="0.32" fill="#7080f0" opacity="0.55"/>
<circle cx="480.19" cy="173.27" r="0.32" fill="#7080f0" opacity="0.55"/>
<circle cx="483.31" cy="167.97" r="0.32" fill="#7080f0" opacity="0.55"/>
<circle cx="483.16" cy="173.29" r="0.32" fill="#7080f0" opacity="0.55"/>
<circle cx="477.43" cy="174.57" r="0.32" fill="#7080f0" opacity="0.55"/>
<circle cx="484.99" cy="165.93" r="0.32" fill="#7080f0" opacity="0.55"/>
<circle cx="484.02" cy="174.24" r="0.32" fill="#7080f0" opacity="0.55"/>
<circle cx="483.19" cy="175.17" r="0.32" fill="#7080f0" opacity="0.55"/>
<circle cx="485.26" cy="172.51" r="0.32" fill="#7080f0" opacity="0.55"/>
<circle cx="484.18" cy="171.76" r="0.32" fill="#7080f0" opacity="0.55"/>
<circle cx="483.82" cy="170.14" r="0.32" fill="#7080f0" opacity="0.55"/>
<circle cx="481.73" cy="180.32" r="0.32" fill="#7080f0" opacity="0.55"/>
<circle cx="483.11" cy="172.77" r="0.32" fill="#7080f0" opacity="0.55"/>
<circle cx="479.14" cy="170.24" r="0.32" fill="#7080f0" opacity="0.55"/>
<circle cx="482.48" cy="177.16" r="0.32" fill="#7080f0" opacity="0.55"/>
<circle cx="483.07" cy="175.5" r="0.32" fill="#7080f0" opacity="0.55"/>
<circle cx="481.9" cy="178.81" r="0.32" fill="#7080f0" opacity="0.55"/>
<circle cx="481.02" cy="171.2" r="0.32" fill="#7080f0" opacity="0.55"/>
<rect x="475.4" y="166.1" width="15" height="16.5" fill="none" stroke="#555" stroke-width="0.65"/>
<text x="482.9" y="164.1" font-size="7.3" text-anchor="middle" stroke="#231f20" stroke-width="0.14">12.1%</text>
<line x1="490.4" y1="180.5" x2="505.3" y2="180.5" stroke="#222" stroke-width="0.7" />
<path d="M507.1,180 L504.9,178.7 L504.9,181.3 Z" fill="#222"/>
<rect x="507.1" y="138.4" width="47.5" height="46.9" fill="#fff" stroke="#3a3a3a" stroke-width="0.7"/>
<line x1="506.1" y1="142.5" x2="507.1" y2="142.5" stroke="#555" stroke-width="0.4" />
<line x1="506.1" y1="148.5" x2="507.1" y2="148.5" stroke="#555" stroke-width="0.4" />
<line x1="506.1" y1="153.5" x2="507.1" y2="153.5" stroke="#555" stroke-width="0.4" />
<line x1="506.1" y1="159.5" x2="507.1" y2="159.5" stroke="#555" stroke-width="0.4" />
<line x1="506.1" y1="164.5" x2="507.1" y2="164.5" stroke="#555" stroke-width="0.4" />
<line x1="506.1" y1="170.5" x2="507.1" y2="170.5" stroke="#555" stroke-width="0.4" />
<line x1="506.1" y1="176.5" x2="507.1" y2="176.5" stroke="#555" stroke-width="0.4" />
<line x1="506.1" y1="181.5" x2="507.1" y2="181.5" stroke="#555" stroke-width="0.4" />
<line x1="510.5" y1="185.3" x2="510.5" y2="186.3" stroke="#555" stroke-width="0.4" />
<line x1="515.5" y1="185.3" x2="515.5" y2="186.3" stroke="#555" stroke-width="0.4" />
<line x1="521.5" y1="185.3" x2="521.5" y2="186.3" stroke="#555" stroke-width="0.4" />
<line x1="527.5" y1="185.3" x2="527.5" y2="186.3" stroke="#555" stroke-width="0.4" />
<line x1="533.5" y1="185.3" x2="533.5" y2="186.3" stroke="#555" stroke-width="0.4" />
<line x1="539.5" y1="185.3" x2="539.5" y2="186.3" stroke="#555" stroke-width="0.4" />
<line x1="544.5" y1="185.3" x2="544.5" y2="186.3" stroke="#555" stroke-width="0.4" />
<line x1="550.5" y1="185.3" x2="550.5" y2="186.3" stroke="#555" stroke-width="0.4" />
<circle cx="537.71" cy="172.65" r="0.3" fill="#6070f0" opacity="0.6"/>
<circle cx="536.78" cy="170.1" r="0.3" fill="#6070f0" opacity="0.6"/>
<circle cx="536.79" cy="174.89" r="0.3" fill="#6070f0" opacity="0.6"/>
<circle cx="537.28" cy="167.56" r="0.3" fill="#6070f0" opacity="0.6"/>
<circle cx="537.34" cy="173.12" r="0.3" fill="#6070f0" opacity="0.6"/>
<circle cx="536.2" cy="175.49" r="0.3" fill="#6070f0" opacity="0.6"/>
<circle cx="536.78" cy="171.06" r="0.3" fill="#6070f0" opacity="0.6"/>
<circle cx="537.64" cy="177.68" r="0.3" fill="#6070f0" opacity="0.6"/>
<circle cx="536.45" cy="174.15" r="0.3" fill="#6070f0" opacity="0.6"/>
<circle cx="536.3" cy="181.66" r="0.3" fill="#6070f0" opacity="0.6"/>
<circle cx="536.6" cy="177.18" r="0.3" fill="#6070f0" opacity="0.6"/>
<circle cx="536.48" cy="175.65" r="0.3" fill="#6070f0" opacity="0.6"/>
<circle cx="538.78" cy="162.24" r="0.3" fill="#6070f0" opacity="0.6"/>
<circle cx="536.65" cy="174.4" r="0.3" fill="#6070f0" opacity="0.6"/>
<circle cx="536.93" cy="169.73" r="0.3" fill="#6070f0" opacity="0.6"/>
<circle cx="538.72" cy="172.72" r="0.3" fill="#6070f0" opacity="0.6"/>
<circle cx="535.68" cy="175.82" r="0.3" fill="#6070f0" opacity="0.6"/>
<circle cx="535.62" cy="177" r="0.3" fill="#6070f0" opacity="0.6"/>
<circle cx="536.54" cy="172.98" r="0.3" fill="#6070f0" opacity="0.6"/>
<circle cx="538.01" cy="172.87" r="0.3" fill="#6070f0" opacity="0.6"/>
<circle cx="535.89" cy="165.62" r="0.3" fill="#6070f0" opacity="0.6"/>
<circle cx="537.95" cy="175.36" r="0.3" fill="#6070f0" opacity="0.6"/>
<circle cx="536.35" cy="175.84" r="0.3" fill="#6070f0" opacity="0.6"/>
<circle cx="537.4" cy="174.99" r="0.3" fill="#6070f0" opacity="0.6"/>
<circle cx="535.19" cy="171.19" r="0.3" fill="#6070f0" opacity="0.6"/>
<circle cx="537.72" cy="175.33" r="0.3" fill="#6070f0" opacity="0.6"/>
<circle cx="537.71" cy="162.57" r="0.3" fill="#6070f0" opacity="0.6"/>
<circle cx="537.14" cy="174.37" r="0.3" fill="#6070f0" opacity="0.6"/>
<circle cx="539.04" cy="168.58" r="0.3" fill="#6070f0" opacity="0.6"/>
<circle cx="536.74" cy="172.54" r="0.3" fill="#6070f0" opacity="0.6"/>
<circle cx="537.71" cy="170.63" r="0.3" fill="#6070f0" opacity="0.6"/>
<circle cx="537.92" cy="169.25" r="0.3" fill="#6070f0" opacity="0.6"/>
<circle cx="537.21" cy="170.29" r="0.3" fill="#6070f0" opacity="0.6"/>
<circle cx="537.13" cy="169.64" r="0.3" fill="#6070f0" opacity="0.6"/>
<circle cx="535.72" cy="176.77" r="0.3" fill="#6070f0" opacity="0.6"/>
<circle cx="537.24" cy="170.17" r="0.3" fill="#6070f0" opacity="0.6"/>
<circle cx="537.16" cy="176.36" r="0.3" fill="#6070f0" opacity="0.6"/>
<circle cx="536.22" cy="171.96" r="0.3" fill="#6070f0" opacity="0.6"/>
<circle cx="537.43" cy="174.5" r="0.3" fill="#6070f0" opacity="0.6"/>
<circle cx="536.73" cy="163.97" r="0.3" fill="#6070f0" opacity="0.6"/>
<rect x="511.1" y="147.1" width="23.2" height="16.1" fill="none" stroke="#555" stroke-width="0.65"/>
<text x="524.5" y="145.8" font-size="7.3" text-anchor="middle" stroke="#231f20" stroke-width="0.14">1.8%</text>
<rect x="389.4" y="198.4" width="47.5" height="46.9" fill="#fff" stroke="#3a3a3a" stroke-width="0.7"/>
<line x1="388.4" y1="202.5" x2="389.4" y2="202.5" stroke="#555" stroke-width="0.4" />
<line x1="388.4" y1="208.5" x2="389.4" y2="208.5" stroke="#555" stroke-width="0.4" />
<line x1="388.4" y1="213.5" x2="389.4" y2="213.5" stroke="#555" stroke-width="0.4" />
<line x1="388.4" y1="219.5" x2="389.4" y2="219.5" stroke="#555" stroke-width="0.4" />
<line x1="388.4" y1="224.5" x2="389.4" y2="224.5" stroke="#555" stroke-width="0.4" />
<line x1="388.4" y1="230.5" x2="389.4" y2="230.5" stroke="#555" stroke-width="0.4" />
<line x1="388.4" y1="236.5" x2="389.4" y2="236.5" stroke="#555" stroke-width="0.4" />
<line x1="388.4" y1="241.5" x2="389.4" y2="241.5" stroke="#555" stroke-width="0.4" />
<line x1="392.5" y1="245.3" x2="392.5" y2="246.3" stroke="#555" stroke-width="0.4" />
<line x1="398.5" y1="245.3" x2="398.5" y2="246.3" stroke="#555" stroke-width="0.4" />
<line x1="404.5" y1="245.3" x2="404.5" y2="246.3" stroke="#555" stroke-width="0.4" />
<line x1="409.5" y1="245.3" x2="409.5" y2="246.3" stroke="#555" stroke-width="0.4" />
<line x1="415.5" y1="245.3" x2="415.5" y2="246.3" stroke="#555" stroke-width="0.4" />
<line x1="421.5" y1="245.3" x2="421.5" y2="246.3" stroke="#555" stroke-width="0.4" />
<line x1="427.5" y1="245.3" x2="427.5" y2="246.3" stroke="#555" stroke-width="0.4" />
<line x1="433.5" y1="245.3" x2="433.5" y2="246.3" stroke="#555" stroke-width="0.4" />
<g transform="translate(389.4 198.4)"><path d="M9.3,12.3 C15,11.2 26,11.4 33,12.2 C37.5,12.8 39.5,15 39.5,20 C41,22.5 43,24 45.2,25 C45.5,31 42,35.8 34,36.8 C26,37.6 16,37.8 9.3,37.4 Z" fill="#c4ccff" filter="url(#b1)"/><path d="M11,13.0 C16,12.3 25,12.5 31,13.2 C35.5,13.8 37.5,15.6 37.5,19 C37,21.5 33,22.3 28,22.5 C24,22.6 20,22.4 17,22 Z" fill="#5a72f5" filter="url(#b1)"/><path d="M18,22 C25,22.8 32,23 37,23.5 C39.5,25 41,26.3 42,27.5 C36,29.5 28,29.8 18,29.5 Z" fill="#b0bcfb" opacity="0.9" filter="url(#b1)"/><path d="M10,30.5 C20,31.2 30,31.0 37.5,29.3 C40.5,28.5 42.8,27 44.6,25.6 C44.6,29.5 42,33.5 36,35.4 C28,36.8 18,36.9 10,36.6 Z" fill="#2c46f2" filter="url(#b1)"/><path d="M9.8,13 C12,12.5 15.5,12.5 18.5,13 L19.5,36.6 L9.8,36.6 Z" fill="#2440f3" filter="url(#b1)"/><ellipse cx="35" cy="33.2" rx="6" ry="1.5" fill="#18c0f0" opacity="0.7" filter="url(#b05)"/><ellipse cx="12.6" cy="25.5" rx="3.2" ry="11.2" fill="#16b8f0" filter="url(#b1)"/><ellipse cx="12.3" cy="25.6" rx="2.0" ry="9.4" fill="#40dc70" filter="url(#b05)"/><ellipse cx="12.2" cy="31.5" rx="1.5" ry="3.2" fill="#f2e23a" filter="url(#b05)"/><ellipse cx="12.0" cy="33.0" rx="1.0" ry="1.7" fill="#f03010" filter="url(#b05)"/></g>
<circle cx="425.86" cy="225.38" r="0.35" fill="#ffffff" opacity="0.5"/>
<circle cx="418.48" cy="223.56" r="0.35" fill="#ffffff" opacity="0.5"/>
<circle cx="419.98" cy="223.12" r="0.35" fill="#ffffff" opacity="0.5"/>
<circle cx="412.25" cy="222.18" r="0.35" fill="#ffffff" opacity="0.5"/>
<circle cx="414.82" cy="222.56" r="0.35" fill="#ffffff" opacity="0.5"/>
<circle cx="411.45" cy="226.31" r="0.35" fill="#ffffff" opacity="0.5"/>
<circle cx="410.54" cy="226.38" r="0.35" fill="#ffffff" opacity="0.5"/>
<circle cx="412.31" cy="225.46" r="0.35" fill="#ffffff" opacity="0.5"/>
<circle cx="426.64" cy="225.01" r="0.35" fill="#ffffff" opacity="0.5"/>
<circle cx="414.02" cy="224.54" r="0.35" fill="#ffffff" opacity="0.5"/>
<circle cx="419.29" cy="219.2" r="0.35" fill="#ffffff" opacity="0.5"/>
<circle cx="414.75" cy="224.89" r="0.35" fill="#ffffff" opacity="0.5"/>
<circle cx="415.58" cy="224.64" r="0.35" fill="#ffffff" opacity="0.5"/>
<circle cx="422.8" cy="226.7" r="0.35" fill="#ffffff" opacity="0.5"/>
<circle cx="423.83" cy="226.17" r="0.35" fill="#ffffff" opacity="0.5"/>
<circle cx="416.67" cy="224.34" r="0.35" fill="#ffffff" opacity="0.5"/>
<circle cx="416.77" cy="223.46" r="0.35" fill="#ffffff" opacity="0.5"/>
<circle cx="417.32" cy="219.23" r="0.35" fill="#ffffff" opacity="0.5"/>
<circle cx="416.4" cy="224.33" r="0.35" fill="#ffffff" opacity="0.5"/>
<circle cx="412.56" cy="224.33" r="0.35" fill="#ffffff" opacity="0.5"/>
<circle cx="421.49" cy="223.91" r="0.35" fill="#ffffff" opacity="0.5"/>
<circle cx="430.86" cy="216.58" r="0.35" fill="#ffffff" opacity="0.5"/>
<circle cx="417.16" cy="218.92" r="0.35" fill="#ffffff" opacity="0.5"/>
<circle cx="424.28" cy="232.36" r="0.35" fill="#ffffff" opacity="0.5"/>
<circle cx="403.39" cy="224.78" r="0.35" fill="#ffffff" opacity="0.5"/>
<circle cx="421.51" cy="223.49" r="0.35" fill="#ffffff" opacity="0.5"/>
<circle cx="421.71" cy="217.67" r="0.35" fill="#ffffff" opacity="0.5"/>
<circle cx="423.51" cy="225.52" r="0.35" fill="#ffffff" opacity="0.5"/>
<circle cx="418.54" cy="222.64" r="0.35" fill="#ffffff" opacity="0.5"/>
<circle cx="422.23" cy="222.94" r="0.35" fill="#ffffff" opacity="0.5"/>
<circle cx="419.74" cy="222.87" r="0.35" fill="#ffffff" opacity="0.5"/>
<circle cx="404.92" cy="224.31" r="0.35" fill="#ffffff" opacity="0.5"/>
<circle cx="419.61" cy="226.66" r="0.35" fill="#ffffff" opacity="0.5"/>
<circle cx="413.14" cy="224.3" r="0.35" fill="#ffffff" opacity="0.5"/>
<circle cx="422.1" cy="224.84" r="0.35" fill="#ffffff" opacity="0.5"/>
<circle cx="425.85" cy="230.37" r="0.35" fill="#ffffff" opacity="0.5"/>
<circle cx="412.95" cy="218.64" r="0.35" fill="#ffffff" opacity="0.5"/>
<circle cx="423.54" cy="228.99" r="0.35" fill="#ffffff" opacity="0.5"/>
<circle cx="423.93" cy="226.84" r="0.35" fill="#ffffff" opacity="0.5"/>
<circle cx="414.69" cy="222.26" r="0.35" fill="#ffffff" opacity="0.5"/>
<circle cx="423.73" cy="221.67" r="0.35" fill="#ffffff" opacity="0.5"/>
<circle cx="407.52" cy="221.41" r="0.35" fill="#ffffff" opacity="0.5"/>
<circle cx="433.35" cy="230.17" r="0.35" fill="#ffffff" opacity="0.5"/>
<circle cx="414.28" cy="222.21" r="0.35" fill="#ffffff" opacity="0.5"/>
<circle cx="419.79" cy="222.15" r="0.35" fill="#ffffff" opacity="0.5"/>
<circle cx="426.26" cy="224.17" r="0.35" fill="#ffffff" opacity="0.5"/>
<circle cx="411.88" cy="228.33" r="0.35" fill="#ffffff" opacity="0.5"/>
<circle cx="414.9" cy="225.06" r="0.35" fill="#ffffff" opacity="0.5"/>
<circle cx="418.32" cy="223.46" r="0.35" fill="#ffffff" opacity="0.5"/>
<circle cx="420.35" cy="222.32" r="0.35" fill="#ffffff" opacity="0.5"/>
<circle cx="407.33" cy="217.78" r="0.35" fill="#ffffff" opacity="0.5"/>
<circle cx="410.8" cy="222.12" r="0.35" fill="#ffffff" opacity="0.5"/>
<circle cx="418.26" cy="224.57" r="0.35" fill="#ffffff" opacity="0.5"/>
<circle cx="421.74" cy="224.76" r="0.35" fill="#ffffff" opacity="0.5"/>
<circle cx="413.64" cy="222.27" r="0.35" fill="#ffffff" opacity="0.5"/>
<circle cx="405.69" cy="223.89" r="0.35" fill="#ffffff" opacity="0.5"/>
<circle cx="421.31" cy="225.99" r="0.35" fill="#ffffff" opacity="0.5"/>
<circle cx="417.67" cy="223.88" r="0.35" fill="#ffffff" opacity="0.5"/>
<circle cx="424.02" cy="224.45" r="0.35" fill="#ffffff" opacity="0.5"/>
<circle cx="422.83" cy="226.15" r="0.35" fill="#ffffff" opacity="0.5"/>
<circle cx="419.68" cy="228.32" r="0.35" fill="#ffffff" opacity="0.5"/>
<circle cx="414.96" cy="223.32" r="0.35" fill="#ffffff" opacity="0.5"/>
<circle cx="413.55" cy="222.01" r="0.35" fill="#ffffff" opacity="0.5"/>
<circle cx="427.74" cy="229.68" r="0.35" fill="#ffffff" opacity="0.5"/>
<circle cx="418.54" cy="226.1" r="0.35" fill="#ffffff" opacity="0.5"/>
<circle cx="425.45" cy="226.82" r="0.35" fill="#ffffff" opacity="0.5"/>
<circle cx="425.63" cy="220.61" r="0.35" fill="#ffffff" opacity="0.5"/>
<circle cx="414.56" cy="225.76" r="0.35" fill="#ffffff" opacity="0.5"/>
<circle cx="427.01" cy="224.71" r="0.35" fill="#ffffff" opacity="0.5"/>
<circle cx="413.25" cy="223.34" r="0.35" fill="#ffffff" opacity="0.5"/>
<circle cx="414.44" cy="221.83" r="0.35" fill="#ffffff" opacity="0.5"/>
<circle cx="427.41" cy="222.52" r="0.35" fill="#ffffff" opacity="0.5"/>
<circle cx="418.52" cy="230.89" r="0.35" fill="#ffffff" opacity="0.5"/>
<circle cx="425.51" cy="225.41" r="0.35" fill="#ffffff" opacity="0.5"/>
<circle cx="414.73" cy="225.63" r="0.35" fill="#ffffff" opacity="0.5"/>
<circle cx="428.13" cy="226.27" r="0.35" fill="#ffffff" opacity="0.5"/>
<circle cx="425.97" cy="224.69" r="0.35" fill="#ffffff" opacity="0.5"/>
<circle cx="421.5" cy="223.8" r="0.35" fill="#ffffff" opacity="0.5"/>
<circle cx="420.96" cy="228.3" r="0.35" fill="#ffffff" opacity="0.5"/>
<circle cx="409.81" cy="224.21" r="0.35" fill="#ffffff" opacity="0.5"/>
<circle cx="419.84" cy="222.69" r="0.35" fill="#ffffff" opacity="0.5"/>
<circle cx="416.55" cy="226.76" r="0.35" fill="#ffffff" opacity="0.5"/>
<circle cx="430.41" cy="226.29" r="0.35" fill="#ffffff" opacity="0.5"/>
<circle cx="420.36" cy="219.75" r="0.35" fill="#ffffff" opacity="0.5"/>
<circle cx="429.97" cy="224.63" r="0.35" fill="#ffffff" opacity="0.5"/>
<circle cx="418.2" cy="221.04" r="0.35" fill="#ffffff" opacity="0.5"/>
<circle cx="418.06" cy="221.11" r="0.35" fill="#ffffff" opacity="0.5"/>
<circle cx="418.83" cy="225.8" r="0.35" fill="#ffffff" opacity="0.5"/>
<circle cx="418.59" cy="225.24" r="0.35" fill="#ffffff" opacity="0.5"/>
<circle cx="413.29" cy="228.69" r="0.35" fill="#ffffff" opacity="0.5"/>
<circle cx="413.48" cy="209.95" r="0.32" fill="#8090fa" opacity="0.6"/>
<circle cx="416.27" cy="213.11" r="0.32" fill="#8090fa" opacity="0.6"/>
<circle cx="411.34" cy="214.34" r="0.32" fill="#8090fa" opacity="0.6"/>
<circle cx="419.15" cy="211.85" r="0.32" fill="#8090fa" opacity="0.6"/>
<circle cx="416.57" cy="219.68" r="0.32" fill="#8090fa" opacity="0.6"/>
<circle cx="421.5" cy="214.94" r="0.32" fill="#8090fa" opacity="0.6"/>
<circle cx="418.17" cy="215.04" r="0.32" fill="#8090fa" opacity="0.6"/>
<circle cx="417.11" cy="217.6" r="0.32" fill="#8090fa" opacity="0.6"/>
<circle cx="416.84" cy="208.19" r="0.32" fill="#8090fa" opacity="0.6"/>
<circle cx="417.27" cy="212.73" r="0.32" fill="#8090fa" opacity="0.6"/>
<circle cx="421.31" cy="213.57" r="0.32" fill="#8090fa" opacity="0.6"/>
<circle cx="418.29" cy="221.93" r="0.32" fill="#8090fa" opacity="0.6"/>
<circle cx="411.12" cy="212.03" r="0.32" fill="#8090fa" opacity="0.6"/>
<circle cx="408.93" cy="208.22" r="0.32" fill="#8090fa" opacity="0.6"/>
<circle cx="406.13" cy="216.49" r="0.32" fill="#8090fa" opacity="0.6"/>
<circle cx="413.57" cy="209.8" r="0.32" fill="#8090fa" opacity="0.6"/>
<circle cx="408.5" cy="217.25" r="0.32" fill="#8090fa" opacity="0.6"/>
<circle cx="412.75" cy="214.3" r="0.32" fill="#8090fa" opacity="0.6"/>
<circle cx="419.38" cy="219.47" r="0.32" fill="#8090fa" opacity="0.6"/>
<circle cx="429.05" cy="218.5" r="0.32" fill="#8090fa" opacity="0.6"/>
<circle cx="418.26" cy="215.95" r="0.32" fill="#8090fa" opacity="0.6"/>
<circle cx="428.21" cy="219.69" r="0.32" fill="#8090fa" opacity="0.6"/>
<circle cx="415.54" cy="216.77" r="0.32" fill="#8090fa" opacity="0.6"/>
<circle cx="419.12" cy="215.56" r="0.32" fill="#8090fa" opacity="0.6"/>
<circle cx="414.4" cy="211.42" r="0.32" fill="#8090fa" opacity="0.6"/>
<circle cx="414.2" cy="210.77" r="0.32" fill="#8090fa" opacity="0.6"/>
<circle cx="424.74" cy="217.01" r="0.32" fill="#8090fa" opacity="0.6"/>
<circle cx="410.16" cy="219.59" r="0.32" fill="#8090fa" opacity="0.6"/>
<circle cx="422.75" cy="209.67" r="0.32" fill="#8090fa" opacity="0.6"/>
<circle cx="428.45" cy="217.83" r="0.32" fill="#8090fa" opacity="0.6"/>
<circle cx="429.79" cy="211.71" r="0.32" fill="#8090fa" opacity="0.6"/>
<circle cx="420.58" cy="216.67" r="0.32" fill="#8090fa" opacity="0.6"/>
<circle cx="418.61" cy="215.91" r="0.32" fill="#8090fa" opacity="0.6"/>
<circle cx="423.72" cy="210.92" r="0.32" fill="#8090fa" opacity="0.6"/>
<circle cx="409.95" cy="211.22" r="0.32" fill="#8090fa" opacity="0.6"/>
<circle cx="414.05" cy="213.58" r="0.32" fill="#8090fa" opacity="0.6"/>
<circle cx="419.6" cy="216.2" r="0.32" fill="#8090fa" opacity="0.6"/>
<circle cx="417.59" cy="213.37" r="0.32" fill="#8090fa" opacity="0.6"/>
<circle cx="414.75" cy="218.26" r="0.32" fill="#8090fa" opacity="0.6"/>
<circle cx="421.98" cy="215.7" r="0.32" fill="#8090fa" opacity="0.6"/>
<circle cx="415.46" cy="220.06" r="0.32" fill="#8090fa" opacity="0.6"/>
<circle cx="413.84" cy="217.35" r="0.32" fill="#8090fa" opacity="0.6"/>
<circle cx="424.32" cy="214.6" r="0.32" fill="#8090fa" opacity="0.6"/>
<circle cx="422.35" cy="212.05" r="0.32" fill="#8090fa" opacity="0.6"/>
<circle cx="423.48" cy="216" r="0.32" fill="#8090fa" opacity="0.6"/>
<circle cx="407.88" cy="217.41" r="0.32" fill="#8090fa" opacity="0.6"/>
<circle cx="412.05" cy="219.25" r="0.32" fill="#8090fa" opacity="0.6"/>
<circle cx="413.33" cy="214.91" r="0.32" fill="#8090fa" opacity="0.6"/>
<circle cx="419.1" cy="214.4" r="0.32" fill="#8090fa" opacity="0.6"/>
<circle cx="418.96" cy="213.74" r="0.32" fill="#8090fa" opacity="0.6"/>
<circle cx="421.43" cy="215.42" r="0.32" fill="#8090fa" opacity="0.6"/>
<circle cx="418.67" cy="207.14" r="0.32" fill="#8090fa" opacity="0.6"/>
<circle cx="424.37" cy="215.5" r="0.32" fill="#8090fa" opacity="0.6"/>
<circle cx="406.7" cy="215.69" r="0.32" fill="#8090fa" opacity="0.6"/>
<circle cx="420.2" cy="218.61" r="0.32" fill="#8090fa" opacity="0.6"/>
<circle cx="410.9" cy="220.04" r="0.32" fill="#8090fa" opacity="0.6"/>
<circle cx="416.44" cy="222.58" r="0.32" fill="#8090fa" opacity="0.6"/>
<circle cx="416.52" cy="217.44" r="0.32" fill="#8090fa" opacity="0.6"/>
<circle cx="415.2" cy="212.05" r="0.32" fill="#8090fa" opacity="0.6"/>
<circle cx="423.98" cy="218.12" r="0.32" fill="#8090fa" opacity="0.6"/>
<circle cx="430.79" cy="227.54" r="0.3" fill="#7d8cfa" opacity="0.5"/>
<circle cx="409.67" cy="212.43" r="0.3" fill="#7d8cfa" opacity="0.5"/>
<circle cx="408.89" cy="218.35" r="0.3" fill="#7d8cfa" opacity="0.5"/>
<circle cx="407.25" cy="225.89" r="0.3" fill="#7d8cfa" opacity="0.5"/>
<circle cx="418.68" cy="220.78" r="0.3" fill="#7d8cfa" opacity="0.5"/>
<circle cx="417.13" cy="221.53" r="0.3" fill="#7d8cfa" opacity="0.5"/>
<circle cx="417.53" cy="226.91" r="0.3" fill="#7d8cfa" opacity="0.5"/>
<circle cx="424.99" cy="218.28" r="0.3" fill="#7d8cfa" opacity="0.5"/>
<circle cx="400.33" cy="230.96" r="0.3" fill="#7d8cfa" opacity="0.5"/>
<circle cx="416.55" cy="229.03" r="0.3" fill="#7d8cfa" opacity="0.5"/>
<circle cx="398.97" cy="220.42" r="0.3" fill="#7d8cfa" opacity="0.5"/>
<circle cx="415.67" cy="213.75" r="0.3" fill="#7d8cfa" opacity="0.5"/>
<circle cx="410.24" cy="226.75" r="0.3" fill="#7d8cfa" opacity="0.5"/>
<circle cx="426.19" cy="231.96" r="0.3" fill="#7d8cfa" opacity="0.5"/>
<circle cx="406.76" cy="213.99" r="0.3" fill="#7d8cfa" opacity="0.5"/>
<circle cx="420.6" cy="228.04" r="0.3" fill="#7d8cfa" opacity="0.5"/>
<circle cx="417.33" cy="214.59" r="0.3" fill="#7d8cfa" opacity="0.5"/>
<circle cx="423.22" cy="227.16" r="0.3" fill="#7d8cfa" opacity="0.5"/>
<circle cx="420.93" cy="219.48" r="0.3" fill="#7d8cfa" opacity="0.5"/>
<circle cx="418.44" cy="227.14" r="0.3" fill="#7d8cfa" opacity="0.5"/>
<circle cx="409.81" cy="211.34" r="0.3" fill="#7d8cfa" opacity="0.5"/>
<circle cx="418.69" cy="225.29" r="0.3" fill="#7d8cfa" opacity="0.5"/>
<circle cx="415.54" cy="227.73" r="0.3" fill="#7d8cfa" opacity="0.5"/>
<circle cx="409.53" cy="221.91" r="0.3" fill="#7d8cfa" opacity="0.5"/>
<circle cx="412.35" cy="225.83" r="0.3" fill="#7d8cfa" opacity="0.5"/>
<circle cx="431.36" cy="220.89" r="0.3" fill="#7d8cfa" opacity="0.5"/>
<circle cx="435.95" cy="231.57" r="0.3" fill="#7d8cfa" opacity="0.5"/>
<circle cx="423.31" cy="225.92" r="0.3" fill="#7d8cfa" opacity="0.5"/>
<circle cx="433.11" cy="221.32" r="0.3" fill="#7d8cfa" opacity="0.5"/>
<circle cx="414.28" cy="216.02" r="0.3" fill="#7d8cfa" opacity="0.5"/>
<circle cx="420.13" cy="230.47" r="0.3" fill="#7d8cfa" opacity="0.5"/>
<circle cx="420.72" cy="224.94" r="0.3" fill="#7d8cfa" opacity="0.5"/>
<circle cx="413.39" cy="223.42" r="0.3" fill="#7d8cfa" opacity="0.5"/>
<circle cx="401.15" cy="228.69" r="0.3" fill="#7d8cfa" opacity="0.5"/>
<circle cx="411.3" cy="215.77" r="0.3" fill="#7d8cfa" opacity="0.5"/>
<circle cx="407.89" cy="217.45" r="0.3" fill="#7d8cfa" opacity="0.5"/>
<circle cx="423.95" cy="228.75" r="0.3" fill="#7d8cfa" opacity="0.5"/>
<circle cx="401.82" cy="227.96" r="0.3" fill="#7d8cfa" opacity="0.5"/>
<circle cx="424.28" cy="218.92" r="0.3" fill="#7d8cfa" opacity="0.5"/>
<circle cx="400.53" cy="217.93" r="0.3" fill="#7d8cfa" opacity="0.5"/>
<circle cx="409.06" cy="224.45" r="0.3" fill="#7d8cfa" opacity="0.5"/>
<circle cx="411.82" cy="210.23" r="0.3" fill="#7d8cfa" opacity="0.5"/>
<circle cx="417.74" cy="213.19" r="0.3" fill="#7d8cfa" opacity="0.5"/>
<circle cx="424.45" cy="215.16" r="0.3" fill="#7d8cfa" opacity="0.5"/>
<circle cx="408.47" cy="217.27" r="0.3" fill="#7d8cfa" opacity="0.5"/>
<circle cx="409.97" cy="230.19" r="0.3" fill="#7d8cfa" opacity="0.5"/>
<circle cx="423.92" cy="226.01" r="0.3" fill="#7d8cfa" opacity="0.5"/>
<circle cx="418.59" cy="213.11" r="0.3" fill="#7d8cfa" opacity="0.5"/>
<circle cx="410.19" cy="219.09" r="0.3" fill="#7d8cfa" opacity="0.5"/>
<circle cx="405.63" cy="225.45" r="0.3" fill="#7d8cfa" opacity="0.5"/>
<circle cx="407.99" cy="218.14" r="0.3" fill="#7d8cfa" opacity="0.5"/>
<circle cx="404.96" cy="210.05" r="0.3" fill="#7d8cfa" opacity="0.5"/>
<circle cx="421.35" cy="230.39" r="0.3" fill="#7d8cfa" opacity="0.5"/>
<circle cx="417.15" cy="216.54" r="0.3" fill="#7d8cfa" opacity="0.5"/>
<circle cx="388.35" cy="223.44" r="0.3" fill="#7d8cfa" opacity="0.5"/>
<circle cx="427.56" cy="224.18" r="0.3" fill="#7d8cfa" opacity="0.5"/>
<circle cx="424.67" cy="231.27" r="0.3" fill="#7d8cfa" opacity="0.5"/>
<circle cx="426.67" cy="219.75" r="0.3" fill="#7d8cfa" opacity="0.5"/>
<circle cx="425.92" cy="227.05" r="0.3" fill="#7d8cfa" opacity="0.5"/>
<circle cx="400.03" cy="219.97" r="0.3" fill="#7d8cfa" opacity="0.5"/>
<circle cx="401.16" cy="221.74" r="0.3" fill="#7d8cfa" opacity="0.5"/>
<circle cx="421.18" cy="215.99" r="0.3" fill="#7d8cfa" opacity="0.5"/>
<circle cx="394.84" cy="230.19" r="0.3" fill="#7d8cfa" opacity="0.5"/>
<circle cx="419.17" cy="231.23" r="0.3" fill="#7d8cfa" opacity="0.5"/>
<circle cx="402.16" cy="228.76" r="0.3" fill="#7d8cfa" opacity="0.5"/>
<circle cx="436.14" cy="234.44" r="0.3" fill="#7d8cfa" opacity="0.5"/>
<circle cx="413.3" cy="224.01" r="0.3" fill="#7d8cfa" opacity="0.5"/>
<circle cx="413.86" cy="228.39" r="0.3" fill="#7d8cfa" opacity="0.5"/>
<circle cx="425.78" cy="222.92" r="0.3" fill="#7d8cfa" opacity="0.5"/>
<circle cx="401.81" cy="226.85" r="0.3" fill="#7d8cfa" opacity="0.5"/>
<circle cx="410.7" cy="226.17" r="0.3" fill="#7d8cfa" opacity="0.5"/>
<circle cx="418.03" cy="232.14" r="0.3" fill="#7d8cfa" opacity="0.5"/>
<circle cx="426.78" cy="219.69" r="0.3" fill="#7d8cfa" opacity="0.5"/>
<circle cx="418.89" cy="232.98" r="0.3" fill="#7d8cfa" opacity="0.5"/>
<circle cx="410.03" cy="225" r="0.3" fill="#7d8cfa" opacity="0.5"/>
<circle cx="427.31" cy="229.94" r="0.3" fill="#7d8cfa" opacity="0.5"/>
<circle cx="420.59" cy="214.48" r="0.3" fill="#7d8cfa" opacity="0.5"/>
<circle cx="402.79" cy="223.88" r="0.3" fill="#7d8cfa" opacity="0.5"/>
<circle cx="419.27" cy="237.69" r="0.3" fill="#7d8cfa" opacity="0.5"/>
<circle cx="406.79" cy="229.23" r="0.3" fill="#7d8cfa" opacity="0.5"/>
<rect x="410.4" y="209.5" width="16.1" height="11.8" fill="none" stroke="#555" stroke-width="0.65"/>
<text x="420.1" y="206.9" font-size="7.3" text-anchor="middle" stroke="#231f20" stroke-width="0.14">1.9%</text>
<line x1="426.5" y1="215.5" x2="446.6" y2="215.5" stroke="#222" stroke-width="0.7" />
<path d="M448.4,215.3 L446.2,214 L446.2,216.6 Z" fill="#222"/>
<rect x="448.4" y="198.4" width="47.5" height="46.9" fill="#fff" stroke="#3a3a3a" stroke-width="0.7"/>
<line x1="447.4" y1="202.5" x2="448.4" y2="202.5" stroke="#555" stroke-width="0.4" />
<line x1="447.4" y1="208.5" x2="448.4" y2="208.5" stroke="#555" stroke-width="0.4" />
<line x1="447.4" y1="213.5" x2="448.4" y2="213.5" stroke="#555" stroke-width="0.4" />
<line x1="447.4" y1="219.5" x2="448.4" y2="219.5" stroke="#555" stroke-width="0.4" />
<line x1="447.4" y1="224.5" x2="448.4" y2="224.5" stroke="#555" stroke-width="0.4" />
<line x1="447.4" y1="230.5" x2="448.4" y2="230.5" stroke="#555" stroke-width="0.4" />
<line x1="447.4" y1="236.5" x2="448.4" y2="236.5" stroke="#555" stroke-width="0.4" />
<line x1="447.4" y1="241.5" x2="448.4" y2="241.5" stroke="#555" stroke-width="0.4" />
<line x1="451.5" y1="245.3" x2="451.5" y2="246.3" stroke="#555" stroke-width="0.4" />
<line x1="457.5" y1="245.3" x2="457.5" y2="246.3" stroke="#555" stroke-width="0.4" />
<line x1="463.5" y1="245.3" x2="463.5" y2="246.3" stroke="#555" stroke-width="0.4" />
<line x1="468.5" y1="245.3" x2="468.5" y2="246.3" stroke="#555" stroke-width="0.4" />
<line x1="474.5" y1="245.3" x2="474.5" y2="246.3" stroke="#555" stroke-width="0.4" />
<line x1="480.5" y1="245.3" x2="480.5" y2="246.3" stroke="#555" stroke-width="0.4" />
<line x1="486.5" y1="245.3" x2="486.5" y2="246.3" stroke="#555" stroke-width="0.4" />
<line x1="492.5" y1="245.3" x2="492.5" y2="246.3" stroke="#555" stroke-width="0.4" />
<circle cx="472.97" cy="213.44" r="0.32" fill="#7585f5" opacity="0.6"/>
<circle cx="465.82" cy="222.63" r="0.32" fill="#7585f5" opacity="0.6"/>
<circle cx="467.28" cy="221.03" r="0.32" fill="#7585f5" opacity="0.6"/>
<circle cx="471.62" cy="217.75" r="0.32" fill="#7585f5" opacity="0.6"/>
<circle cx="471.6" cy="218.62" r="0.32" fill="#7585f5" opacity="0.6"/>
<circle cx="467.05" cy="224.48" r="0.32" fill="#7585f5" opacity="0.6"/>
<circle cx="466.92" cy="223.24" r="0.32" fill="#7585f5" opacity="0.6"/>
<circle cx="476.7" cy="221.94" r="0.32" fill="#7585f5" opacity="0.6"/>
<circle cx="468.84" cy="225.48" r="0.32" fill="#7585f5" opacity="0.6"/>
<circle cx="467.85" cy="227.21" r="0.32" fill="#7585f5" opacity="0.6"/>
<circle cx="463.73" cy="224.89" r="0.32" fill="#7585f5" opacity="0.6"/>
<circle cx="467.2" cy="217.81" r="0.32" fill="#7585f5" opacity="0.6"/>
<circle cx="477.46" cy="217.55" r="0.32" fill="#7585f5" opacity="0.6"/>
<circle cx="477.41" cy="225.09" r="0.32" fill="#7585f5" opacity="0.6"/>
<circle cx="476.04" cy="216.92" r="0.32" fill="#7585f5" opacity="0.6"/>
<circle cx="474.9" cy="229.08" r="0.32" fill="#7585f5" opacity="0.6"/>
<circle cx="468.98" cy="221.15" r="0.32" fill="#7585f5" opacity="0.6"/>
<circle cx="480.55" cy="222.69" r="0.32" fill="#7585f5" opacity="0.6"/>
<circle cx="467.6" cy="218.65" r="0.32" fill="#7585f5" opacity="0.6"/>
<circle cx="471.51" cy="223.45" r="0.32" fill="#7585f5" opacity="0.6"/>
<circle cx="470.3" cy="230.41" r="0.32" fill="#7585f5" opacity="0.6"/>
<circle cx="468.02" cy="224.17" r="0.32" fill="#7585f5" opacity="0.6"/>
<circle cx="476.07" cy="216.78" r="0.32" fill="#7585f5" opacity="0.6"/>
<circle cx="474.17" cy="230.96" r="0.32" fill="#7585f5" opacity="0.6"/>
<circle cx="463.4" cy="216.31" r="0.32" fill="#7585f5" opacity="0.6"/>
<circle cx="464.83" cy="212.57" r="0.32" fill="#7585f5" opacity="0.6"/>
<circle cx="471.54" cy="212.52" r="0.32" fill="#7585f5" opacity="0.6"/>
<circle cx="471.74" cy="229.07" r="0.32" fill="#7585f5" opacity="0.6"/>
<circle cx="462.23" cy="220.22" r="0.32" fill="#7585f5" opacity="0.6"/>
<circle cx="460.87" cy="225.7" r="0.32" fill="#7585f5" opacity="0.6"/>
<circle cx="466.18" cy="220.47" r="0.32" fill="#7585f5" opacity="0.6"/>
<circle cx="469.74" cy="224.53" r="0.32" fill="#7585f5" opacity="0.6"/>
<circle cx="467.94" cy="221.88" r="0.32" fill="#7585f5" opacity="0.6"/>
<circle cx="467.04" cy="222.37" r="0.32" fill="#7585f5" opacity="0.6"/>
<circle cx="464.22" cy="222.12" r="0.32" fill="#7585f5" opacity="0.6"/>
<circle cx="460.81" cy="219.35" r="0.32" fill="#7585f5" opacity="0.6"/>
<circle cx="478.12" cy="222.2" r="0.32" fill="#7585f5" opacity="0.6"/>
<circle cx="463.83" cy="223.09" r="0.32" fill="#7585f5" opacity="0.6"/>
<circle cx="465.12" cy="213.54" r="0.32" fill="#7585f5" opacity="0.6"/>
<circle cx="466.19" cy="225.48" r="0.32" fill="#7585f5" opacity="0.6"/>
<circle cx="471.23" cy="221.32" r="0.32" fill="#7585f5" opacity="0.6"/>
<circle cx="465.33" cy="216.41" r="0.32" fill="#7585f5" opacity="0.6"/>
<circle cx="475.57" cy="223.02" r="0.32" fill="#7585f5" opacity="0.6"/>
<circle cx="465.22" cy="211.25" r="0.32" fill="#7585f5" opacity="0.6"/>
<circle cx="463.34" cy="234.18" r="0.32" fill="#7585f5" opacity="0.6"/>
<circle cx="464.33" cy="221.42" r="0.32" fill="#7585f5" opacity="0.6"/>
<circle cx="470.45" cy="221.01" r="0.32" fill="#7585f5" opacity="0.6"/>
<circle cx="468.25" cy="214.93" r="0.32" fill="#7585f5" opacity="0.6"/>
<circle cx="464.77" cy="230.24" r="0.32" fill="#7585f5" opacity="0.6"/>
<circle cx="466.1" cy="226.03" r="0.32" fill="#7585f5" opacity="0.6"/>
<circle cx="461.88" cy="220.43" r="0.32" fill="#7585f5" opacity="0.6"/>
<circle cx="470.67" cy="226.98" r="0.32" fill="#7585f5" opacity="0.6"/>
<circle cx="464.45" cy="224.78" r="0.32" fill="#7585f5" opacity="0.6"/>
<circle cx="471.24" cy="218.11" r="0.32" fill="#7585f5" opacity="0.6"/>
<circle cx="471.65" cy="217.31" r="0.32" fill="#7585f5" opacity="0.6"/>
<circle cx="465.92" cy="221.71" r="0.32" fill="#7585f5" opacity="0.6"/>
<circle cx="457.29" cy="221.25" r="0.32" fill="#7585f5" opacity="0.6"/>
<circle cx="465" cy="214.49" r="0.32" fill="#7585f5" opacity="0.6"/>
<circle cx="467.59" cy="225.61" r="0.32" fill="#7585f5" opacity="0.6"/>
<circle cx="467.68" cy="228.13" r="0.32" fill="#7585f5" opacity="0.6"/>
<circle cx="464.28" cy="215.24" r="0.32" fill="#7585f5" opacity="0.6"/>
<circle cx="476.48" cy="223.79" r="0.32" fill="#7585f5" opacity="0.6"/>
<circle cx="473.75" cy="217.67" r="0.32" fill="#7585f5" opacity="0.6"/>
<circle cx="473.12" cy="223.1" r="0.32" fill="#7585f5" opacity="0.6"/>
<circle cx="472.42" cy="221.93" r="0.32" fill="#7585f5" opacity="0.6"/>
<circle cx="474.93" cy="218.55" r="0.32" fill="#7585f5" opacity="0.6"/>
<circle cx="465.16" cy="214.41" r="0.32" fill="#7585f5" opacity="0.6"/>
<circle cx="474.72" cy="218.11" r="0.32" fill="#7585f5" opacity="0.6"/>
<circle cx="464.81" cy="217.1" r="0.32" fill="#7585f5" opacity="0.6"/>
<circle cx="467.5" cy="215.44" r="0.32" fill="#7585f5" opacity="0.6"/>
<circle cx="468.19" cy="218.66" r="0.32" fill="#7585f5" opacity="0.6"/>
<circle cx="467.02" cy="217" r="0.32" fill="#7585f5" opacity="0.6"/>
<circle cx="469.67" cy="219.5" r="0.32" fill="#7585f5" opacity="0.6"/>
<circle cx="470.02" cy="223.05" r="0.32" fill="#7585f5" opacity="0.6"/>
<circle cx="471.03" cy="210.85" r="0.32" fill="#7585f5" opacity="0.6"/>
<circle cx="467.09" cy="217.82" r="0.32" fill="#7585f5" opacity="0.6"/>
<circle cx="472.98" cy="213.91" r="0.32" fill="#7585f5" opacity="0.6"/>
<circle cx="466.28" cy="220.33" r="0.32" fill="#7585f5" opacity="0.6"/>
<circle cx="467.99" cy="226.76" r="0.32" fill="#7585f5" opacity="0.6"/>
<circle cx="467.51" cy="226.62" r="0.32" fill="#7585f5" opacity="0.6"/>
<circle cx="462.9" cy="212.74" r="0.32" fill="#7585f5" opacity="0.6"/>
<circle cx="474.99" cy="223.98" r="0.32" fill="#7585f5" opacity="0.6"/>
<circle cx="471.69" cy="222.42" r="0.32" fill="#7585f5" opacity="0.6"/>
<circle cx="471.68" cy="215.72" r="0.32" fill="#7585f5" opacity="0.6"/>
<circle cx="473.77" cy="219.14" r="0.32" fill="#7585f5" opacity="0.6"/>
<circle cx="473.94" cy="222.24" r="0.32" fill="#7585f5" opacity="0.6"/>
<circle cx="460.62" cy="215.36" r="0.32" fill="#7585f5" opacity="0.6"/>
<circle cx="474.57" cy="221.12" r="0.32" fill="#7585f5" opacity="0.6"/>
<circle cx="467.72" cy="223.01" r="0.32" fill="#7585f5" opacity="0.6"/>
<circle cx="467.59" cy="219.08" r="0.32" fill="#7585f5" opacity="0.6"/>
<circle cx="469.96" cy="222.52" r="0.32" fill="#7585f5" opacity="0.6"/>
<circle cx="476.33" cy="222.03" r="0.32" fill="#7585f5" opacity="0.6"/>
<circle cx="477.96" cy="230.81" r="0.32" fill="#7585f5" opacity="0.6"/>
<circle cx="477.22" cy="227.11" r="0.32" fill="#7585f5" opacity="0.6"/>
<circle cx="470.09" cy="222.49" r="0.32" fill="#7585f5" opacity="0.6"/>
<circle cx="468.86" cy="218.14" r="0.32" fill="#7585f5" opacity="0.6"/>
<circle cx="469.2" cy="218.6" r="0.32" fill="#7585f5" opacity="0.6"/>
<circle cx="476.88" cy="224.47" r="0.32" fill="#7585f5" opacity="0.6"/>
<circle cx="467.49" cy="212.22" r="0.32" fill="#7585f5" opacity="0.6"/>
<circle cx="469.26" cy="219.72" r="0.32" fill="#7585f5" opacity="0.6"/>
<circle cx="464.61" cy="216.12" r="0.32" fill="#7585f5" opacity="0.6"/>
<circle cx="459.37" cy="224.64" r="0.32" fill="#7585f5" opacity="0.6"/>
<circle cx="469.2" cy="234.71" r="0.32" fill="#7585f5" opacity="0.6"/>
<circle cx="469.36" cy="221.06" r="0.32" fill="#7585f5" opacity="0.6"/>
<circle cx="476" cy="222.47" r="0.32" fill="#7585f5" opacity="0.6"/>
<circle cx="470.25" cy="219.94" r="0.32" fill="#7585f5" opacity="0.6"/>
<circle cx="466.78" cy="229.3" r="0.32" fill="#7585f5" opacity="0.6"/>
<circle cx="474" cy="230.38" r="0.32" fill="#7585f5" opacity="0.6"/>
<circle cx="467.93" cy="221.95" r="0.32" fill="#7585f5" opacity="0.6"/>
<circle cx="465.54" cy="226.64" r="0.32" fill="#7585f5" opacity="0.6"/>
<circle cx="463.23" cy="224.62" r="0.32" fill="#7585f5" opacity="0.6"/>
<circle cx="474.43" cy="228.86" r="0.32" fill="#7585f5" opacity="0.6"/>
<circle cx="465.27" cy="227.25" r="0.32" fill="#7585f5" opacity="0.6"/>
<circle cx="466.29" cy="218.01" r="0.32" fill="#7585f5" opacity="0.6"/>
<circle cx="463.55" cy="227.58" r="0.32" fill="#7585f5" opacity="0.6"/>
<circle cx="476.92" cy="218.83" r="0.32" fill="#7585f5" opacity="0.6"/>
<circle cx="466.08" cy="220.11" r="0.32" fill="#7585f5" opacity="0.6"/>
<circle cx="480.78" cy="226.82" r="0.32" fill="#7585f5" opacity="0.6"/>
<circle cx="467.06" cy="212.83" r="0.32" fill="#7585f5" opacity="0.6"/>
<circle cx="466.47" cy="227.74" r="0.32" fill="#7585f5" opacity="0.6"/>
<circle cx="477.9" cy="220.47" r="0.32" fill="#7585f5" opacity="0.6"/>
<circle cx="466.39" cy="219.25" r="0.32" fill="#7585f5" opacity="0.6"/>
<circle cx="461.01" cy="226.34" r="0.32" fill="#7585f5" opacity="0.6"/>
<circle cx="464.61" cy="227.12" r="0.32" fill="#7585f5" opacity="0.6"/>
<circle cx="461.82" cy="215.45" r="0.32" fill="#7585f5" opacity="0.6"/>
<circle cx="470.8" cy="217.98" r="0.32" fill="#7585f5" opacity="0.6"/>
<circle cx="473.02" cy="221.84" r="0.32" fill="#7585f5" opacity="0.6"/>
<circle cx="464.21" cy="224.91" r="0.32" fill="#7585f5" opacity="0.6"/>
<circle cx="473.29" cy="212.23" r="0.32" fill="#7585f5" opacity="0.6"/>
<circle cx="477.72" cy="224.29" r="0.32" fill="#7585f5" opacity="0.6"/>
<circle cx="472.92" cy="212.5" r="0.32" fill="#7585f5" opacity="0.6"/>
<circle cx="466.26" cy="220.05" r="0.32" fill="#7585f5" opacity="0.6"/>
<circle cx="474.35" cy="214.5" r="0.32" fill="#7585f5" opacity="0.6"/>
<circle cx="465.52" cy="211.65" r="0.32" fill="#7585f5" opacity="0.6"/>
<circle cx="468.42" cy="223.53" r="0.32" fill="#7585f5" opacity="0.6"/>
<circle cx="461.91" cy="218.84" r="0.32" fill="#7585f5" opacity="0.6"/>
<circle cx="471.8" cy="229.73" r="0.32" fill="#7585f5" opacity="0.6"/>
<circle cx="472.49" cy="220.28" r="0.32" fill="#7585f5" opacity="0.6"/>
<circle cx="464.2" cy="217.12" r="0.32" fill="#7585f5" opacity="0.6"/>
<circle cx="466.51" cy="222.54" r="0.32" fill="#7585f5" opacity="0.6"/>
<circle cx="469.28" cy="230.14" r="0.32" fill="#7585f5" opacity="0.6"/>
<circle cx="470.79" cy="216.44" r="0.32" fill="#7585f5" opacity="0.6"/>
<circle cx="476.45" cy="226.55" r="0.32" fill="#7585f5" opacity="0.6"/>
<circle cx="469.95" cy="218.19" r="0.32" fill="#7585f5" opacity="0.6"/>
<circle cx="461.08" cy="216.69" r="0.32" fill="#7585f5" opacity="0.6"/>
<circle cx="473.6" cy="217.79" r="0.32" fill="#7585f5" opacity="0.6"/>
<circle cx="463.56" cy="222.78" r="0.32" fill="#7585f5" opacity="0.6"/>
<circle cx="470.6" cy="224.83" r="0.32" fill="#7585f5" opacity="0.6"/>
<circle cx="472.45" cy="228.85" r="0.32" fill="#7585f5" opacity="0.6"/>
<circle cx="465.72" cy="226.69" r="0.32" fill="#7585f5" opacity="0.6"/>
<circle cx="465.06" cy="225.27" r="0.32" fill="#7585f5" opacity="0.6"/>
<circle cx="470.31" cy="223.02" r="0.32" fill="#7585f5" opacity="0.6"/>
<circle cx="473.86" cy="221.71" r="0.32" fill="#7585f5" opacity="0.6"/>
<circle cx="474.51" cy="226.18" r="0.32" fill="#7585f5" opacity="0.6"/>
<circle cx="470.11" cy="218.97" r="0.32" fill="#7585f5" opacity="0.6"/>
<circle cx="466.11" cy="219.16" r="0.32" fill="#7585f5" opacity="0.6"/>
<circle cx="468.59" cy="221.68" r="0.32" fill="#7585f5" opacity="0.6"/>
<circle cx="482.91" cy="224.99" r="0.32" fill="#7585f5" opacity="0.6"/>
<circle cx="472.96" cy="217.5" r="0.32" fill="#7585f5" opacity="0.6"/>
<circle cx="466.3" cy="220.2" r="0.32" fill="#7585f5" opacity="0.6"/>
<circle cx="470.21" cy="215.31" r="0.35" fill="#4050f0" opacity="0.7"/>
<circle cx="475.43" cy="216.45" r="0.35" fill="#4050f0" opacity="0.7"/>
<circle cx="473.47" cy="212.19" r="0.35" fill="#4050f0" opacity="0.7"/>
<circle cx="469.47" cy="218.47" r="0.35" fill="#4050f0" opacity="0.7"/>
<circle cx="470.2" cy="219.24" r="0.35" fill="#4050f0" opacity="0.7"/>
<circle cx="470.53" cy="218.19" r="0.35" fill="#4050f0" opacity="0.7"/>
<circle cx="462.54" cy="216.09" r="0.35" fill="#4050f0" opacity="0.7"/>
<circle cx="460.88" cy="219.31" r="0.35" fill="#4050f0" opacity="0.7"/>
<circle cx="470.63" cy="217.33" r="0.35" fill="#4050f0" opacity="0.7"/>
<circle cx="466.48" cy="216.4" r="0.35" fill="#4050f0" opacity="0.7"/>
<circle cx="476.29" cy="221.95" r="0.35" fill="#4050f0" opacity="0.7"/>
<circle cx="469.29" cy="220.89" r="0.35" fill="#4050f0" opacity="0.7"/>
<circle cx="463.66" cy="213.16" r="0.35" fill="#4050f0" opacity="0.7"/>
<circle cx="467.72" cy="215.7" r="0.35" fill="#4050f0" opacity="0.7"/>
<circle cx="467.44" cy="218.25" r="0.35" fill="#4050f0" opacity="0.7"/>
<circle cx="480.63" cy="216.21" r="0.35" fill="#4050f0" opacity="0.7"/>
<circle cx="469.68" cy="218.46" r="0.35" fill="#4050f0" opacity="0.7"/>
<circle cx="469.37" cy="220.03" r="0.35" fill="#4050f0" opacity="0.7"/>
<circle cx="476.03" cy="214.82" r="0.35" fill="#4050f0" opacity="0.7"/>
<circle cx="470.1" cy="217.16" r="0.35" fill="#4050f0" opacity="0.7"/>
<circle cx="470.81" cy="214.12" r="0.35" fill="#4050f0" opacity="0.7"/>
<circle cx="463.03" cy="212.24" r="0.35" fill="#4050f0" opacity="0.7"/>
<circle cx="471.43" cy="218.26" r="0.35" fill="#4050f0" opacity="0.7"/>
<circle cx="469.77" cy="212.12" r="0.35" fill="#4050f0" opacity="0.7"/>
<circle cx="468.13" cy="215.99" r="0.35" fill="#4050f0" opacity="0.7"/>
<circle cx="464.3" cy="215.6" r="0.35" fill="#4050f0" opacity="0.7"/>
<circle cx="472.07" cy="219.11" r="0.35" fill="#4050f0" opacity="0.7"/>
<circle cx="469.42" cy="219.03" r="0.35" fill="#4050f0" opacity="0.7"/>
<circle cx="467.28" cy="217.97" r="0.35" fill="#4050f0" opacity="0.7"/>
<circle cx="469.65" cy="219.13" r="0.35" fill="#4050f0" opacity="0.7"/>
<circle cx="469.24" cy="217.46" r="0.35" fill="#4050f0" opacity="0.7"/>
<circle cx="469" cy="216.25" r="0.35" fill="#4050f0" opacity="0.7"/>
<circle cx="477.72" cy="219.03" r="0.35" fill="#4050f0" opacity="0.7"/>
<circle cx="471.08" cy="223.3" r="0.35" fill="#4050f0" opacity="0.7"/>
<circle cx="474.66" cy="214.06" r="0.35" fill="#4050f0" opacity="0.7"/>
<circle cx="472.06" cy="219.81" r="0.35" fill="#4050f0" opacity="0.7"/>
<circle cx="476.44" cy="220.96" r="0.35" fill="#4050f0" opacity="0.7"/>
<circle cx="472.34" cy="214.97" r="0.35" fill="#4050f0" opacity="0.7"/>
<circle cx="466.3" cy="218.45" r="0.35" fill="#4050f0" opacity="0.7"/>
<circle cx="471.36" cy="215.35" r="0.35" fill="#4050f0" opacity="0.7"/>
<circle cx="468.08" cy="216.84" r="0.35" fill="#4050f0" opacity="0.7"/>
<circle cx="469.72" cy="218.61" r="0.35" fill="#4050f0" opacity="0.7"/>
<circle cx="468.44" cy="214.83" r="0.35" fill="#4050f0" opacity="0.7"/>
<circle cx="474.07" cy="221.63" r="0.35" fill="#4050f0" opacity="0.7"/>
<circle cx="469.11" cy="220.26" r="0.35" fill="#4050f0" opacity="0.7"/>
<circle cx="471.13" cy="219.38" r="0.35" fill="#4050f0" opacity="0.7"/>
<circle cx="471.27" cy="215.97" r="0.35" fill="#4050f0" opacity="0.7"/>
<circle cx="471.61" cy="220.23" r="0.35" fill="#4050f0" opacity="0.7"/>
<circle cx="466.2" cy="222.52" r="0.35" fill="#4050f0" opacity="0.7"/>
<circle cx="477.19" cy="222.18" r="0.35" fill="#4050f0" opacity="0.7"/>
<circle cx="476.82" cy="219.58" r="0.35" fill="#4050f0" opacity="0.7"/>
<circle cx="468.26" cy="216.36" r="0.35" fill="#4050f0" opacity="0.7"/>
<circle cx="466.51" cy="218.08" r="0.35" fill="#4050f0" opacity="0.7"/>
<circle cx="469.38" cy="219.41" r="0.35" fill="#4050f0" opacity="0.7"/>
<circle cx="462.07" cy="223.35" r="0.35" fill="#4050f0" opacity="0.7"/>
<circle cx="477.88" cy="217.73" r="0.35" fill="#4050f0" opacity="0.7"/>
<circle cx="471.99" cy="218.94" r="0.35" fill="#4050f0" opacity="0.7"/>
<circle cx="470.51" cy="217.3" r="0.35" fill="#4050f0" opacity="0.7"/>
<circle cx="469.05" cy="215.82" r="0.35" fill="#4050f0" opacity="0.7"/>
<circle cx="470.16" cy="217.74" r="0.35" fill="#4050f0" opacity="0.7"/>
<ellipse cx="469.5" cy="217.8" rx="4.6" ry="3.0" fill="#4558f0" opacity="0.85" filter="url(#b05)"/>
<ellipse cx="469.5" cy="217.8" rx="2.30" ry="1.50" fill="#36b8a8" filter="url(#b05)"/>
<ellipse cx="469" cy="218" rx="0.83" ry="0.75" fill="#d8d030" filter="url(#b05)"/>
<circle cx="482.96" cy="227.98" r="0.32" fill="#7080f0" opacity="0.55"/>
<circle cx="482.12" cy="231.59" r="0.32" fill="#7080f0" opacity="0.55"/>
<circle cx="483.81" cy="227.15" r="0.32" fill="#7080f0" opacity="0.55"/>
<circle cx="483.26" cy="235.33" r="0.32" fill="#7080f0" opacity="0.55"/>
<circle cx="483.79" cy="229.93" r="0.32" fill="#7080f0" opacity="0.55"/>
<circle cx="480.53" cy="230.45" r="0.32" fill="#7080f0" opacity="0.55"/>
<circle cx="484.19" cy="237.61" r="0.32" fill="#7080f0" opacity="0.55"/>
<circle cx="481.53" cy="228.83" r="0.32" fill="#7080f0" opacity="0.55"/>
<circle cx="483.13" cy="232.22" r="0.32" fill="#7080f0" opacity="0.55"/>
<circle cx="479.28" cy="228.45" r="0.32" fill="#7080f0" opacity="0.55"/>
<circle cx="481.7" cy="234.09" r="0.32" fill="#7080f0" opacity="0.55"/>
<circle cx="478.42" cy="227.33" r="0.32" fill="#7080f0" opacity="0.55"/>
<circle cx="483.5" cy="226.5" r="0.32" fill="#7080f0" opacity="0.55"/>
<circle cx="482.33" cy="232.81" r="0.32" fill="#7080f0" opacity="0.55"/>
<circle cx="481.67" cy="227.33" r="0.32" fill="#7080f0" opacity="0.55"/>
<circle cx="481.82" cy="230.07" r="0.32" fill="#7080f0" opacity="0.55"/>
<circle cx="483.01" cy="228.04" r="0.32" fill="#7080f0" opacity="0.55"/>
<circle cx="485.27" cy="224.7" r="0.32" fill="#7080f0" opacity="0.55"/>
<circle cx="481.47" cy="231.43" r="0.32" fill="#7080f0" opacity="0.55"/>
<circle cx="484.88" cy="228.97" r="0.32" fill="#7080f0" opacity="0.55"/>
<circle cx="483.64" cy="229.13" r="0.32" fill="#7080f0" opacity="0.55"/>
<circle cx="484.21" cy="238.35" r="0.32" fill="#7080f0" opacity="0.55"/>
<circle cx="480.8" cy="233.17" r="0.32" fill="#7080f0" opacity="0.55"/>
<circle cx="479.22" cy="235.29" r="0.32" fill="#7080f0" opacity="0.55"/>
<circle cx="485.63" cy="231.54" r="0.32" fill="#7080f0" opacity="0.55"/>
<rect x="475.4" y="226.1" width="15" height="16.5" fill="none" stroke="#555" stroke-width="0.65"/>
<text x="483.8" y="224.6" font-size="7.3" text-anchor="middle" stroke="#231f20" stroke-width="0.14">9.0%</text>
<line x1="490.4" y1="240.5" x2="505.3" y2="240.5" stroke="#222" stroke-width="0.7" />
<path d="M507.1,240 L504.9,238.7 L504.9,241.3 Z" fill="#222"/>
<rect x="507.1" y="198.4" width="47.5" height="46.9" fill="#fff" stroke="#3a3a3a" stroke-width="0.7"/>
<line x1="506.1" y1="202.5" x2="507.1" y2="202.5" stroke="#555" stroke-width="0.4" />
<line x1="506.1" y1="208.5" x2="507.1" y2="208.5" stroke="#555" stroke-width="0.4" />
<line x1="506.1" y1="213.5" x2="507.1" y2="213.5" stroke="#555" stroke-width="0.4" />
<line x1="506.1" y1="219.5" x2="507.1" y2="219.5" stroke="#555" stroke-width="0.4" />
<line x1="506.1" y1="224.5" x2="507.1" y2="224.5" stroke="#555" stroke-width="0.4" />
<line x1="506.1" y1="230.5" x2="507.1" y2="230.5" stroke="#555" stroke-width="0.4" />
<line x1="506.1" y1="236.5" x2="507.1" y2="236.5" stroke="#555" stroke-width="0.4" />
<line x1="506.1" y1="241.5" x2="507.1" y2="241.5" stroke="#555" stroke-width="0.4" />
<line x1="510.5" y1="245.3" x2="510.5" y2="246.3" stroke="#555" stroke-width="0.4" />
<line x1="515.5" y1="245.3" x2="515.5" y2="246.3" stroke="#555" stroke-width="0.4" />
<line x1="521.5" y1="245.3" x2="521.5" y2="246.3" stroke="#555" stroke-width="0.4" />
<line x1="527.5" y1="245.3" x2="527.5" y2="246.3" stroke="#555" stroke-width="0.4" />
<line x1="533.5" y1="245.3" x2="533.5" y2="246.3" stroke="#555" stroke-width="0.4" />
<line x1="539.5" y1="245.3" x2="539.5" y2="246.3" stroke="#555" stroke-width="0.4" />
<line x1="544.5" y1="245.3" x2="544.5" y2="246.3" stroke="#555" stroke-width="0.4" />
<line x1="550.5" y1="245.3" x2="550.5" y2="246.3" stroke="#555" stroke-width="0.4" />
<circle cx="536.09" cy="230.01" r="0.3" fill="#6070f0" opacity="0.6"/>
<circle cx="537.92" cy="232.76" r="0.3" fill="#6070f0" opacity="0.6"/>
<circle cx="537.65" cy="221.08" r="0.3" fill="#6070f0" opacity="0.6"/>
<circle cx="536.46" cy="234.09" r="0.3" fill="#6070f0" opacity="0.6"/>
<circle cx="536.02" cy="232.93" r="0.3" fill="#6070f0" opacity="0.6"/>
<circle cx="538.51" cy="231.45" r="0.3" fill="#6070f0" opacity="0.6"/>
<circle cx="537.9" cy="227.07" r="0.3" fill="#6070f0" opacity="0.6"/>
<circle cx="536.02" cy="227.99" r="0.3" fill="#6070f0" opacity="0.6"/>
<circle cx="536.84" cy="228.21" r="0.3" fill="#6070f0" opacity="0.6"/>
<circle cx="537.56" cy="227.82" r="0.3" fill="#6070f0" opacity="0.6"/>
<circle cx="537.15" cy="230.1" r="0.3" fill="#6070f0" opacity="0.6"/>
<circle cx="537" cy="235.77" r="0.3" fill="#6070f0" opacity="0.6"/>
<circle cx="537.35" cy="228.74" r="0.3" fill="#6070f0" opacity="0.6"/>
<circle cx="536.83" cy="225.9" r="0.3" fill="#6070f0" opacity="0.6"/>
<circle cx="538.08" cy="229" r="0.3" fill="#6070f0" opacity="0.6"/>
<circle cx="536.14" cy="226.15" r="0.3" fill="#6070f0" opacity="0.6"/>
<circle cx="536.89" cy="226.62" r="0.3" fill="#6070f0" opacity="0.6"/>
<circle cx="537.87" cy="223.75" r="0.3" fill="#6070f0" opacity="0.6"/>
<circle cx="537.39" cy="228.97" r="0.3" fill="#6070f0" opacity="0.6"/>
<circle cx="536.06" cy="228.59" r="0.3" fill="#6070f0" opacity="0.6"/>
<circle cx="536.92" cy="230.41" r="0.3" fill="#6070f0" opacity="0.6"/>
<circle cx="536.64" cy="229.61" r="0.3" fill="#6070f0" opacity="0.6"/>
<rect x="511.1" y="207.1" width="23.2" height="16.1" fill="none" stroke="#555" stroke-width="0.65"/>
<text x="523.3" y="204.7" font-size="7.3" text-anchor="middle" stroke="#231f20" stroke-width="0.14">67.6%</text>
<circle cx="521.64" cy="215.92" r="0.35" fill="#4a5cf0" opacity="0.7"/>
<circle cx="527.03" cy="218.04" r="0.35" fill="#4a5cf0" opacity="0.7"/>
<circle cx="525.27" cy="216.4" r="0.35" fill="#4a5cf0" opacity="0.7"/>
<circle cx="527.68" cy="214.91" r="0.35" fill="#4a5cf0" opacity="0.7"/>
<circle cx="523.54" cy="217.67" r="0.35" fill="#4a5cf0" opacity="0.7"/>
<circle cx="526.74" cy="215.97" r="0.35" fill="#4a5cf0" opacity="0.7"/>
<circle cx="521.15" cy="218.45" r="0.35" fill="#4a5cf0" opacity="0.7"/>
<circle cx="525.64" cy="216.1" r="0.35" fill="#4a5cf0" opacity="0.7"/>
<circle cx="525.42" cy="217.9" r="0.35" fill="#4a5cf0" opacity="0.7"/>
<circle cx="519.6" cy="218.11" r="0.35" fill="#4a5cf0" opacity="0.7"/>
<circle cx="526.93" cy="214.92" r="0.35" fill="#4a5cf0" opacity="0.7"/>
<circle cx="527" cy="215.22" r="0.35" fill="#4a5cf0" opacity="0.7"/>
<circle cx="527.81" cy="217.4" r="0.35" fill="#4a5cf0" opacity="0.7"/>
<circle cx="530.26" cy="216.39" r="0.35" fill="#4a5cf0" opacity="0.7"/>
<circle cx="525.31" cy="218.05" r="0.35" fill="#4a5cf0" opacity="0.7"/>
<circle cx="523.89" cy="216.3" r="0.35" fill="#4a5cf0" opacity="0.7"/>
<circle cx="524.48" cy="216.93" r="0.35" fill="#4a5cf0" opacity="0.7"/>
<circle cx="522.92" cy="217.48" r="0.35" fill="#4a5cf0" opacity="0.7"/>
<circle cx="526.5" cy="217.07" r="0.35" fill="#4a5cf0" opacity="0.7"/>
<circle cx="529.04" cy="216.67" r="0.35" fill="#4a5cf0" opacity="0.7"/>
<circle cx="528.17" cy="216.45" r="0.35" fill="#4a5cf0" opacity="0.7"/>
<circle cx="526.96" cy="215.07" r="0.35" fill="#4a5cf0" opacity="0.7"/>
<circle cx="525.74" cy="216.82" r="0.35" fill="#4a5cf0" opacity="0.7"/>
<circle cx="524.21" cy="216.39" r="0.35" fill="#4a5cf0" opacity="0.7"/>
<circle cx="524.54" cy="216.28" r="0.35" fill="#4a5cf0" opacity="0.7"/>
<circle cx="520.48" cy="216.4" r="0.35" fill="#4a5cf0" opacity="0.7"/>
<circle cx="524.09" cy="216.48" r="0.35" fill="#4a5cf0" opacity="0.7"/>
<circle cx="522.97" cy="216.86" r="0.35" fill="#4a5cf0" opacity="0.7"/>
<circle cx="527.03" cy="216.75" r="0.35" fill="#4a5cf0" opacity="0.7"/>
<circle cx="524.22" cy="218.36" r="0.35" fill="#4a5cf0" opacity="0.7"/>
<circle cx="527.45" cy="217.92" r="0.35" fill="#4a5cf0" opacity="0.7"/>
<circle cx="527.84" cy="216.67" r="0.35" fill="#4a5cf0" opacity="0.7"/>
<circle cx="525.02" cy="218.11" r="0.35" fill="#4a5cf0" opacity="0.7"/>
<circle cx="524.08" cy="216.88" r="0.35" fill="#4a5cf0" opacity="0.7"/>
<circle cx="526.13" cy="217.37" r="0.35" fill="#4a5cf0" opacity="0.7"/>
<circle cx="524.69" cy="217.98" r="0.35" fill="#4a5cf0" opacity="0.7"/>
<circle cx="524.91" cy="217.73" r="0.35" fill="#4a5cf0" opacity="0.7"/>
<circle cx="527.66" cy="217.66" r="0.35" fill="#4a5cf0" opacity="0.7"/>
<circle cx="526.91" cy="215.84" r="0.35" fill="#4a5cf0" opacity="0.7"/>
<circle cx="522.42" cy="216.38" r="0.35" fill="#4a5cf0" opacity="0.7"/>
<circle cx="526.35" cy="218.5" r="0.35" fill="#4a5cf0" opacity="0.7"/>
<circle cx="522.61" cy="217.31" r="0.35" fill="#4a5cf0" opacity="0.7"/>
<circle cx="523.42" cy="216.27" r="0.35" fill="#4a5cf0" opacity="0.7"/>
<circle cx="524.69" cy="217.69" r="0.35" fill="#4a5cf0" opacity="0.7"/>
<circle cx="525.77" cy="218.18" r="0.35" fill="#4a5cf0" opacity="0.7"/>
<circle cx="523.13" cy="217.89" r="0.35" fill="#4a5cf0" opacity="0.7"/>
<circle cx="527.35" cy="217.07" r="0.35" fill="#4a5cf0" opacity="0.7"/>
<circle cx="526.35" cy="216.44" r="0.35" fill="#4a5cf0" opacity="0.7"/>
<circle cx="522.9" cy="216.59" r="0.35" fill="#4a5cf0" opacity="0.7"/>
<circle cx="523.89" cy="219.89" r="0.35" fill="#4a5cf0" opacity="0.7"/>
<circle cx="524.23" cy="218.65" r="0.35" fill="#4a5cf0" opacity="0.7"/>
<circle cx="525.74" cy="217.31" r="0.35" fill="#4a5cf0" opacity="0.7"/>
<circle cx="526.94" cy="216.22" r="0.35" fill="#4a5cf0" opacity="0.7"/>
<circle cx="527.32" cy="217.38" r="0.35" fill="#4a5cf0" opacity="0.7"/>
<circle cx="521.97" cy="217.6" r="0.35" fill="#4a5cf0" opacity="0.7"/>
<circle cx="526.52" cy="217.45" r="0.35" fill="#4a5cf0" opacity="0.7"/>
<circle cx="528.79" cy="216.59" r="0.35" fill="#4a5cf0" opacity="0.7"/>
<circle cx="526.43" cy="217.75" r="0.35" fill="#4a5cf0" opacity="0.7"/>
<circle cx="523.32" cy="218.2" r="0.35" fill="#4a5cf0" opacity="0.7"/>
<circle cx="522.11" cy="215.7" r="0.35" fill="#4a5cf0" opacity="0.7"/>
<text x="363.7" y="166.5" font-size="7.5" text-anchor="middle" stroke="#231f20" stroke-width="0.14">BMPR2<tspan font-size="4.6" dy="-2.8">−</tspan><tspan dy="2.8"></tspan></text>
<text x="363.3" y="176.1" font-size="7.5" text-anchor="middle" stroke="#231f20" stroke-width="0.14">(non-IR)</text>
<text x="363.7" y="218.2" font-size="7.5" text-anchor="middle" stroke="#231f20" stroke-width="0.14">BMPR2<tspan font-size="4.6" dy="-2.8">+</tspan><tspan dy="2.8"></tspan></text>
<text x="362.3" y="227.5" font-size="7.5" text-anchor="middle" stroke="#231f20" stroke-width="0.14">(non-IR)</text>
<text x="387.5" y="228.1" font-size="7.25" text-anchor="middle" stroke="#231f20" stroke-width="0.14" transform="rotate(-90 387.5 228.1)">c-Kit-APC</text>
<text x="446.8" y="209.5" font-size="7.7" text-anchor="middle" stroke="#231f20" stroke-width="0.14" transform="rotate(-90 446.8 209.5)">CD48-APC-eFlour780</text>
<text x="504" y="220.2" font-size="7.3" text-anchor="middle" stroke="#231f20" stroke-width="0.14" transform="rotate(-90 504 220.2)">CD45.2-PE</text>
<text x="413.4" y="253.8" font-size="7.35" text-anchor="middle" stroke="#231f20" stroke-width="0.14">Sca-1-BV605</text>
<text x="472.4" y="253.8" font-size="7.45" text-anchor="middle" stroke="#231f20" stroke-width="0.14">CD150-PEcy7</text>
<text x="528.2" y="253.8" font-size="7.35" text-anchor="middle" stroke="#231f20" stroke-width="0.14">CD45.1-FITC</text>
<circle cx="601.3" cy="138.2" r="2.75" fill="#80acd6"/>
<circle cx="601.3" cy="148.2" r="2.75" fill="#e57c70"/>
<text x="606.6" y="141" font-size="7.5" stroke="#231f20" stroke-width="0.14">BMPR2<tspan font-size="4.68" dy="-3.77">−</tspan><tspan dy="3.77"> (non-IR)</tspan></text>
<text x="606.6" y="151" font-size="7.5" stroke="#231f20" stroke-width="0.14">BMPR2<tspan font-size="6.95" dy="-3.77">+</tspan><tspan dy="3.77"> (non-IR)</tspan></text>
<text x="631.4" y="161.3" font-size="9.0" text-anchor="middle" stroke="#231f20" stroke-width="0.14">BM</text>
<line x1="607.5" y1="167.05" x2="607.5" y2="238.55" stroke="#231f20" stroke-width="0.75" />
<line x1="604.9" y1="167.5" x2="607.1" y2="167.5" stroke="#231f20" stroke-width="0.75" />
<text x="602.9" y="169.75" font-size="7.5" text-anchor="end" stroke="#231f20" stroke-width="0.14">100</text>
<line x1="604.9" y1="181.5" x2="607.1" y2="181.5" stroke="#231f20" stroke-width="0.75" />
<text x="602.9" y="183.91" font-size="7.5" text-anchor="end" stroke="#231f20" stroke-width="0.14">80</text>
<line x1="604.9" y1="195.5" x2="607.1" y2="195.5" stroke="#231f20" stroke-width="0.75" />
<text x="602.9" y="198.07" font-size="7.5" text-anchor="end" stroke="#231f20" stroke-width="0.14">60</text>
<line x1="604.9" y1="209.5" x2="607.1" y2="209.5" stroke="#231f20" stroke-width="0.75" />
<text x="602.9" y="212.23" font-size="7.5" text-anchor="end" stroke="#231f20" stroke-width="0.14">40</text>
<line x1="604.9" y1="224.5" x2="607.1" y2="224.5" stroke="#231f20" stroke-width="0.75" />
<text x="602.9" y="226.39" font-size="7.5" text-anchor="end" stroke="#231f20" stroke-width="0.14">20</text>
<line x1="604.9" y1="238.5" x2="607.1" y2="238.5" stroke="#231f20" stroke-width="0.75" />
<text x="602.9" y="240.55" font-size="7.5" text-anchor="end" stroke="#231f20" stroke-width="0.14">0</text>
<line x1="607.25" y1="238.5" x2="661.7" y2="238.5" stroke="#231f20" stroke-width="0.75" />
<rect x="636.6" y="199.97" width="14.1" height="38.23" fill="#e7847a" />
<line x1="643.5" y1="199.97" x2="643.5" y2="194.09" stroke="#231f20" stroke-width="0.7" />
<line x1="641.9" y1="194.5" x2="645.3" y2="194.5" stroke="#231f20" stroke-width="0.7" />
<circle cx="641.9" cy="179.7" r="1.2" fill="#c8c8c8" stroke="#1a1a1a" stroke-width="0.7"/>
<circle cx="645.9" cy="178.1" r="1.2" fill="#c8c8c8" stroke="#1a1a1a" stroke-width="0.7"/>
<circle cx="641" cy="193" r="1.2" fill="#c8c8c8" stroke="#1a1a1a" stroke-width="0.7"/>
<circle cx="645.9" cy="192.5" r="1.2" fill="#c8c8c8" stroke="#1a1a1a" stroke-width="0.7"/>
<circle cx="643.6" cy="204.8" r="1.2" fill="#c8c8c8" stroke="#1a1a1a" stroke-width="0.7"/>
<circle cx="643.4" cy="214.2" r="1.2" fill="#c8c8c8" stroke="#1a1a1a" stroke-width="0.7"/>
<circle cx="643.4" cy="216.6" r="1.2" fill="#c8c8c8" stroke="#1a1a1a" stroke-width="0.7"/>
<circle cx="643.4" cy="219" r="1.2" fill="#c8c8c8" stroke="#1a1a1a" stroke-width="0.7"/>
<circle cx="643.4" cy="221.3" r="1.2" fill="#c8c8c8" stroke="#1a1a1a" stroke-width="0.7"/>
<circle cx="620" cy="238" r="1.2" fill="#c8c8c8" stroke="#1a1a1a" stroke-width="0.7"/>
<circle cx="622.5" cy="237.2" r="1.2" fill="#c8c8c8" stroke="#1a1a1a" stroke-width="0.7"/>
<circle cx="625" cy="236.5" r="1.2" fill="#c8c8c8" stroke="#1a1a1a" stroke-width="0.7"/>
<circle cx="627.5" cy="236.8" r="1.2" fill="#c8c8c8" stroke="#1a1a1a" stroke-width="0.7"/>
<circle cx="629.5" cy="235" r="1.2" fill="#c8c8c8" stroke="#1a1a1a" stroke-width="0.7"/>
<circle cx="631" cy="237.5" r="1.2" fill="#c8c8c8" stroke="#1a1a1a" stroke-width="0.7"/>
<circle cx="623.5" cy="238.3" r="1.2" fill="#c8c8c8" stroke="#1a1a1a" stroke-width="0.7"/>
<circle cx="626.5" cy="238.4" r="1.2" fill="#c8c8c8" stroke="#1a1a1a" stroke-width="0.7"/>
<text x="633.4" y="174.4" font-size="6.3" text-anchor="middle" stroke="#231f20" stroke-width="0.14">&lt;0.001</text>
<text x="636" y="252.8" font-size="7.5" text-anchor="middle" stroke="#231f20" stroke-width="0.14">16 weeks after 1° BMT</text>
<text x="588.5" y="196.3" font-size="7.45" text-anchor="middle" stroke="#231f20" stroke-width="0.14" transform="rotate(-90 588.5 196.3)">Donor chimerism in HSCs (%)</text>
<text x="1.3" y="286.5" font-size="15" font-weight="bold" fill="#231815">g</text>
<circle cx="57.7" cy="291.9" r="2.75" fill="#80acd6"/>
<circle cx="57.7" cy="302.75" r="2.75" fill="#e57c70"/>
<text x="62.9" y="294.7" font-size="7.55" stroke="#231f20" stroke-width="0.14">BMPR2<tspan font-size="4.68" dy="-3.77">−</tspan><tspan dy="3.77"> (non-IR)</tspan></text>
<text x="62.9" y="305.55" font-size="7.55" stroke="#231f20" stroke-width="0.14">BMPR2<tspan font-size="6.95" dy="-3.77">+</tspan><tspan dy="3.77"> (non-IR)</tspan></text>
<text x="83.4" y="315.5" font-size="9.0" text-anchor="middle" stroke="#231f20" stroke-width="0.14">PB</text>
<line x1="48.5" y1="322.4" x2="48.5" y2="394.5" stroke="#231f20" stroke-width="0.75" />
<line x1="45.7" y1="322.5" x2="48.5" y2="322.5" stroke="#231f20" stroke-width="0.75" />
<text x="43.7" y="325.1" font-size="7.5" text-anchor="end" stroke="#231f20" stroke-width="0.14">100</text>
<line x1="45.7" y1="346.5" x2="48.5" y2="346.5" stroke="#231f20" stroke-width="0.75" />
<text x="43.7" y="348.9" font-size="7.5" text-anchor="end" stroke="#231f20" stroke-width="0.14">10</text>
<line x1="45.7" y1="370.5" x2="48.5" y2="370.5" stroke="#231f20" stroke-width="0.75" />
<text x="43.7" y="372.7" font-size="7.5" text-anchor="end" stroke="#231f20" stroke-width="0.14">1</text>
<line x1="45.7" y1="394.5" x2="48.5" y2="394.5" stroke="#231f20" stroke-width="0.75" />
<text x="43.7" y="396.5" font-size="7.5" text-anchor="end" stroke="#231f20" stroke-width="0.14">0.1</text>
<line x1="48.15" y1="394.5" x2="120.9" y2="394.5" stroke="#231f20" stroke-width="0.75" />
<line x1="59.5" y1="394.15" x2="59.5" y2="396.25" stroke="#231f20" stroke-width="0.75" />
<text x="59.6" y="405.75" font-size="7.5" text-anchor="middle" stroke="#231f20" stroke-width="0.14">4</text>
<line x1="76.5" y1="394.15" x2="76.5" y2="396.25" stroke="#231f20" stroke-width="0.75" />
<text x="76.3" y="405.75" font-size="7.5" text-anchor="middle" stroke="#231f20" stroke-width="0.14">8</text>
<line x1="92.5" y1="394.15" x2="92.5" y2="396.25" stroke="#231f20" stroke-width="0.75" />
<text x="92.5" y="405.75" font-size="7.5" text-anchor="middle" stroke="#231f20" stroke-width="0.14">12</text>
<line x1="109.5" y1="394.15" x2="109.5" y2="396.25" stroke="#231f20" stroke-width="0.75" />
<text x="109.2" y="405.75" font-size="7.5" text-anchor="middle" stroke="#231f20" stroke-width="0.14">16</text>
<text x="83" y="413.4" font-size="7.5" text-anchor="middle" stroke="#231f20" stroke-width="0.14">Weeks after 2° BMT</text>
<text x="25.7" y="359.4" font-size="7.2" text-anchor="middle" stroke="#231f20" stroke-width="0.14" transform="rotate(-90 25.7 359.4)">Donor chimerism (%)</text>
<path d="M59.6,328.7 L76.3,329.1 L92.5,328.4 L109.2,328.3" fill="none" stroke="#e57c70" stroke-width="1.25" />
<circle cx="59.6" cy="328.7" r="1.95" fill="#e57c70"/>
<circle cx="76.3" cy="329.1" r="1.95" fill="#e57c70"/>
<circle cx="92.5" cy="328.4" r="1.95" fill="#e57c70"/>
<circle cx="109.2" cy="328.3" r="1.95" fill="#e57c70"/>
<path d="M59.6,359.3 L76.3,367.4 L92.5,377.2 L109.2,375.8" fill="none" stroke="#80acd6" stroke-width="1.25" />
<line x1="59.5" y1="356.4" x2="59.5" y2="362.6" stroke="#111" stroke-width="0.7" />
<line x1="57.9" y1="356.5" x2="61.3" y2="356.5" stroke="#111" stroke-width="0.7" />
<line x1="57.9" y1="362.5" x2="61.3" y2="362.5" stroke="#111" stroke-width="0.7" />
<line x1="76.5" y1="366" x2="76.5" y2="370" stroke="#111" stroke-width="0.7" />
<line x1="74.6" y1="366.5" x2="78" y2="366.5" stroke="#111" stroke-width="0.7" />
<line x1="74.6" y1="370.5" x2="78" y2="370.5" stroke="#111" stroke-width="0.7" />
<line x1="92.5" y1="373.3" x2="92.5" y2="383.5" stroke="#111" stroke-width="0.7" />
<line x1="90.8" y1="373.5" x2="94.2" y2="373.5" stroke="#111" stroke-width="0.7" />
<line x1="90.8" y1="383.5" x2="94.2" y2="383.5" stroke="#111" stroke-width="0.7" />
<line x1="109.5" y1="372.4" x2="109.5" y2="380.6" stroke="#111" stroke-width="0.7" />
<line x1="107.5" y1="372.5" x2="110.9" y2="372.5" stroke="#111" stroke-width="0.7" />
<line x1="107.5" y1="380.5" x2="110.9" y2="380.5" stroke="#111" stroke-width="0.7" />
<circle cx="59.6" cy="359.3" r="1.95" fill="#80acd6"/>
<circle cx="76.3" cy="367.4" r="1.95" fill="#80acd6"/>
<circle cx="92.5" cy="377.2" r="1.95" fill="#80acd6"/>
<circle cx="109.2" cy="375.8" r="1.95" fill="#80acd6"/>
<text x="60.1" y="326.6" font-size="6.3" text-anchor="middle" stroke="#231f20" stroke-width="0.14">&lt;0.001</text>
<text x="75.9" y="336.6" font-size="6.3" text-anchor="middle" stroke="#231f20" stroke-width="0.14">&lt;0.001</text>
<text x="91.4" y="325.5" font-size="6.3" text-anchor="middle" stroke="#231f20" stroke-width="0.14">&lt;0.001</text>
<text x="108.2" y="335.6" font-size="6.3" text-anchor="middle" stroke="#231f20" stroke-width="0.14">&lt;0.001</text>
<text x="142.3" y="290" font-size="15" font-weight="bold" fill="#231815">h</text>
<rect x="172.4" y="290" width="5.6" height="5" fill="#83aad1" />
<rect x="172.4" y="298.5" width="5.6" height="5" fill="#e7847a" />
<text x="180.4" y="295" font-size="7.55" stroke="#231f20" stroke-width="0.14">BMPR2<tspan font-size="4.68" dy="-3.77">−</tspan><tspan dy="3.77"> (non-IR)</tspan></text>
<text x="180.4" y="303.5" font-size="7.55" stroke="#231f20" stroke-width="0.14">BMPR2<tspan font-size="6.95" dy="-3.77">+</tspan><tspan dy="3.77"> (non-IR)</tspan></text>
<text x="199.5" y="315.4" font-size="9.0" text-anchor="middle" stroke="#231f20" stroke-width="0.14">BM</text>
<line x1="173.5" y1="321.85" x2="173.5" y2="393.75" stroke="#231f20" stroke-width="0.75" />
<line x1="170.5" y1="322.5" x2="173.4" y2="322.5" stroke="#231f20" stroke-width="0.75" />
<text x="168.5" y="324.55" font-size="7.2" text-anchor="end" stroke="#231f20" stroke-width="0.14">80</text>
<line x1="170.5" y1="340.5" x2="173.4" y2="340.5" stroke="#231f20" stroke-width="0.75" />
<text x="168.5" y="342.35" font-size="7.2" text-anchor="end" stroke="#231f20" stroke-width="0.14">60</text>
<line x1="170.5" y1="357.5" x2="173.4" y2="357.5" stroke="#231f20" stroke-width="0.75" />
<text x="168.5" y="360.15" font-size="7.2" text-anchor="end" stroke="#231f20" stroke-width="0.14">40</text>
<line x1="170.5" y1="375.5" x2="173.4" y2="375.5" stroke="#231f20" stroke-width="0.75" />
<text x="168.5" y="377.95" font-size="7.2" text-anchor="end" stroke="#231f20" stroke-width="0.14">20</text>
<line x1="170.5" y1="393.5" x2="173.4" y2="393.5" stroke="#231f20" stroke-width="0.75" />
<text x="168.5" y="395.75" font-size="7.2" text-anchor="end" stroke="#231f20" stroke-width="0.14">0</text>
<line x1="173.05" y1="393.5" x2="227" y2="393.5" stroke="#231f20" stroke-width="0.75" />
<rect x="205.2" y="348.28" width="14.9" height="45.12" fill="#e7847a" />
<line x1="212.5" y1="348.28" x2="212.5" y2="346.23" stroke="#231f20" stroke-width="0.7" />
<line x1="210.9" y1="346.5" x2="214.3" y2="346.5" stroke="#231f20" stroke-width="0.7" />
<circle cx="211.9" cy="335.7" r="1.2" fill="#c8c8c8" stroke="#1a1a1a" stroke-width="0.7"/>
<circle cx="211.9" cy="340.3" r="1.2" fill="#c8c8c8" stroke="#1a1a1a" stroke-width="0.7"/>
<circle cx="208.8" cy="345" r="1.2" fill="#c8c8c8" stroke="#1a1a1a" stroke-width="0.7"/>
<circle cx="211.9" cy="345.3" r="1.2" fill="#c8c8c8" stroke="#1a1a1a" stroke-width="0.7"/>
<circle cx="215.4" cy="345.6" r="1.2" fill="#c8c8c8" stroke="#1a1a1a" stroke-width="0.7"/>
<circle cx="209.5" cy="353.5" r="1.2" fill="#c8c8c8" stroke="#1a1a1a" stroke-width="0.7"/>
<circle cx="214.2" cy="353.5" r="1.2" fill="#c8c8c8" stroke="#1a1a1a" stroke-width="0.7"/>
<circle cx="211.9" cy="358.6" r="1.2" fill="#c8c8c8" stroke="#1a1a1a" stroke-width="0.7"/>
<circle cx="181.5" cy="392.5" r="1.2" fill="#c8c8c8" stroke="#1a1a1a" stroke-width="0.7"/>
<circle cx="184.5" cy="390.5" r="1.2" fill="#c8c8c8" stroke="#1a1a1a" stroke-width="0.7"/>
<circle cx="187.5" cy="390.8" r="1.2" fill="#c8c8c8" stroke="#1a1a1a" stroke-width="0.7"/>
<circle cx="190.5" cy="391" r="1.2" fill="#c8c8c8" stroke="#1a1a1a" stroke-width="0.7"/>
<circle cx="183" cy="393" r="1.2" fill="#c8c8c8" stroke="#1a1a1a" stroke-width="0.7"/>
<circle cx="186" cy="393.2" r="1.2" fill="#c8c8c8" stroke="#1a1a1a" stroke-width="0.7"/>
<circle cx="189.5" cy="393.2" r="1.2" fill="#c8c8c8" stroke="#1a1a1a" stroke-width="0.7"/>
<circle cx="193" cy="393" r="1.2" fill="#c8c8c8" stroke="#1a1a1a" stroke-width="0.7"/>
<text x="201" y="330.7" font-size="6.3" text-anchor="middle" stroke="#231f20" stroke-width="0.14">&lt;0.001</text>
<text x="198" y="405.6" font-size="7.5" text-anchor="middle" stroke="#231f20" stroke-width="0.14">16 weeks</text>
<text x="198" y="413.3" font-size="7.5" text-anchor="middle" stroke="#231f20" stroke-width="0.14">after 2° BMT</text>
<text x="153.4" y="348" font-size="7.5" text-anchor="middle" stroke="#231f20" stroke-width="0.14" transform="rotate(-90 153.4 348)">Donor chimerism in HSCs (%)</text>
<text x="276.5" y="290" font-size="15" font-weight="bold" fill="#231815">i</text>
<circle cx="329.2" cy="290.7" r="2.75" fill="#80acd6"/>
<circle cx="329.2" cy="301.8" r="2.75" fill="#e57c70"/>
<text x="334.9" y="293.1" font-size="7.55" stroke="#231f20" stroke-width="0.14">BMPR2<tspan font-size="4.68" dy="-3.77">−</tspan><tspan dy="3.77"> (IR)</tspan></text>
<text x="334.9" y="304.2" font-size="7.55" stroke="#231f20" stroke-width="0.14">BMPR2<tspan font-size="6.95" dy="-3.77">+</tspan><tspan dy="3.77"> (IR)</tspan></text>
<text x="346.1" y="315.6" font-size="9.0" text-anchor="middle" stroke="#231f20" stroke-width="0.14">PB</text>
<line x1="309.5" y1="320.95" x2="309.5" y2="392.75" stroke="#231f20" stroke-width="0.75" />
<line x1="306.4" y1="321.5" x2="309.2" y2="321.5" stroke="#231f20" stroke-width="0.75" />
<text x="304.4" y="323.65" font-size="7.5" text-anchor="end" stroke="#231f20" stroke-width="0.14">100</text>
<line x1="306.4" y1="345.5" x2="309.2" y2="345.5" stroke="#231f20" stroke-width="0.75" />
<text x="304.4" y="347.35" font-size="7.5" text-anchor="end" stroke="#231f20" stroke-width="0.14">10</text>
<line x1="306.4" y1="368.5" x2="309.2" y2="368.5" stroke="#231f20" stroke-width="0.75" />
<text x="304.4" y="371.05" font-size="7.5" text-anchor="end" stroke="#231f20" stroke-width="0.14">1</text>
<line x1="306.4" y1="392.5" x2="309.2" y2="392.5" stroke="#231f20" stroke-width="0.75" />
<text x="304.4" y="394.75" font-size="7.5" text-anchor="end" stroke="#231f20" stroke-width="0.14">0.1</text>
<line x1="308.85" y1="392.5" x2="381.3" y2="392.5" stroke="#231f20" stroke-width="0.75" />
<line x1="320.5" y1="392.4" x2="320.5" y2="394.5" stroke="#231f20" stroke-width="0.75" />
<text x="320.2" y="404" font-size="7.5" text-anchor="middle" stroke="#231f20" stroke-width="0.14">4</text>
<line x1="336.5" y1="392.4" x2="336.5" y2="394.5" stroke="#231f20" stroke-width="0.75" />
<text x="336.6" y="404" font-size="7.5" text-anchor="middle" stroke="#231f20" stroke-width="0.14">8</text>
<line x1="353.5" y1="392.4" x2="353.5" y2="394.5" stroke="#231f20" stroke-width="0.75" />
<text x="353.3" y="404" font-size="7.5" text-anchor="middle" stroke="#231f20" stroke-width="0.14">12</text>
<line x1="369.5" y1="392.4" x2="369.5" y2="394.5" stroke="#231f20" stroke-width="0.75" />
<text x="369.7" y="404" font-size="7.5" text-anchor="middle" stroke="#231f20" stroke-width="0.14">16</text>
<text x="345.3" y="413.5" font-size="7.5" text-anchor="middle" stroke="#231f20" stroke-width="0.14">Weeks after 1° BMT</text>
<text x="289" y="359.4" font-size="7.3" text-anchor="middle" stroke="#231f20" stroke-width="0.14" transform="rotate(-90 289 359.4)">Donor chimerism (%)</text>
<path d="M320.2,350.9 L336.6,337.6 L353.3,334 L369.7,330.5" fill="none" stroke="#e57c70" stroke-width="1.25" />
<line x1="320.5" y1="348.3" x2="320.5" y2="352.3" stroke="#111" stroke-width="0.7" />
<line x1="318.5" y1="348.5" x2="321.9" y2="348.5" stroke="#111" stroke-width="0.7" />
<line x1="318.5" y1="352.5" x2="321.9" y2="352.5" stroke="#111" stroke-width="0.7" />
<line x1="336.5" y1="336.6" x2="336.5" y2="338.6" stroke="#111" stroke-width="0.7" />
<line x1="334.9" y1="336.5" x2="338.3" y2="336.5" stroke="#111" stroke-width="0.7" />
<line x1="334.9" y1="338.5" x2="338.3" y2="338.5" stroke="#111" stroke-width="0.7" />
<line x1="353.5" y1="332" x2="353.5" y2="336" stroke="#111" stroke-width="0.7" />
<line x1="351.6" y1="332.5" x2="355" y2="332.5" stroke="#111" stroke-width="0.7" />
<line x1="351.6" y1="336.5" x2="355" y2="336.5" stroke="#111" stroke-width="0.7" />
<line x1="369.5" y1="328.6" x2="369.5" y2="332.6" stroke="#111" stroke-width="0.7" />
<line x1="368" y1="328.5" x2="371.4" y2="328.5" stroke="#111" stroke-width="0.7" />
<line x1="368" y1="332.5" x2="371.4" y2="332.5" stroke="#111" stroke-width="0.7" />
<circle cx="320.2" cy="350.9" r="1.95" fill="#e57c70"/>
<circle cx="336.6" cy="337.6" r="1.95" fill="#e57c70"/>
<circle cx="353.3" cy="334" r="1.95" fill="#e57c70"/>
<circle cx="369.7" cy="330.5" r="1.95" fill="#e57c70"/>
<path d="M320.2,357 L336.6,359.4 L353.3,362.3 L369.7,360.6" fill="none" stroke="#80acd6" stroke-width="1.25" />
<line x1="320.5" y1="353.5" x2="320.5" y2="361.3" stroke="#111" stroke-width="0.7" />
<line x1="318.5" y1="353.5" x2="321.9" y2="353.5" stroke="#111" stroke-width="0.7" />
<line x1="318.5" y1="361.5" x2="321.9" y2="361.5" stroke="#111" stroke-width="0.7" />
<line x1="336.5" y1="355.4" x2="336.5" y2="364.2" stroke="#111" stroke-width="0.7" />
<line x1="334.9" y1="355.5" x2="338.3" y2="355.5" stroke="#111" stroke-width="0.7" />
<line x1="334.9" y1="364.5" x2="338.3" y2="364.5" stroke="#111" stroke-width="0.7" />
<line x1="353.5" y1="358.2" x2="353.5" y2="367.2" stroke="#111" stroke-width="0.7" />
<line x1="351.6" y1="358.5" x2="355" y2="358.5" stroke="#111" stroke-width="0.7" />
<line x1="351.6" y1="367.5" x2="355" y2="367.5" stroke="#111" stroke-width="0.7" />
<line x1="369.5" y1="356.3" x2="369.5" y2="365.8" stroke="#111" stroke-width="0.7" />
<line x1="368" y1="356.5" x2="371.4" y2="356.5" stroke="#111" stroke-width="0.7" />
<line x1="368" y1="365.5" x2="371.4" y2="365.5" stroke="#111" stroke-width="0.7" />
<circle cx="320.2" cy="357" r="1.95" fill="#80acd6"/>
<circle cx="336.6" cy="359.4" r="1.95" fill="#80acd6"/>
<circle cx="353.3" cy="362.3" r="1.95" fill="#80acd6"/>
<circle cx="369.7" cy="360.6" r="1.95" fill="#80acd6"/>
<text x="319.4" y="344.5" font-size="6.3" text-anchor="middle" stroke="#231f20" stroke-width="0.14">0.215</text>
<text x="340.8" y="346.4" font-size="6.3" text-anchor="middle" stroke="#231f20" stroke-width="0.14">&lt;0.001</text>
<text x="353.3" y="329.3" font-size="6.3" text-anchor="middle" stroke="#231f20" stroke-width="0.14">&lt;0.001</text>
<text x="368.6" y="339.3" font-size="6.3" text-anchor="middle" stroke="#231f20" stroke-width="0.14">&lt;0.001</text>
<text x="400.2" y="286.8" font-size="15" font-weight="bold" fill="#231815">j</text>
<circle cx="481.9" cy="290.7" r="2.75" fill="#80acd6"/>
<circle cx="481.9" cy="301.9" r="2.75" fill="#e57c70"/>
<text x="487.9" y="293.1" font-size="7.55" stroke="#231f20" stroke-width="0.14">BMPR2<tspan font-size="4.68" dy="-3.77">−</tspan><tspan dy="3.77"> (IR)</tspan></text>
<text x="487.9" y="304.3" font-size="7.55" stroke="#231f20" stroke-width="0.14">BMPR2<tspan font-size="6.95" dy="-3.77">+</tspan><tspan dy="3.77"> (IR)</tspan></text>
<text x="478.3" y="315.6" font-size="9.0" text-anchor="middle" stroke="#231f20" stroke-width="0.14">PB</text>
<line x1="429.5" y1="322.2" x2="429.5" y2="333.9" stroke="#231f20" stroke-width="0.75" />
<line x1="429.5" y1="346.6" x2="429.5" y2="393.35" stroke="#231f20" stroke-width="0.75" />
<line x1="426.3" y1="322.5" x2="429.1" y2="322.5" stroke="#231f20" stroke-width="0.75" />
<text x="424.3" y="325" font-size="7.5" text-anchor="end" stroke="#231f20" stroke-width="0.14">40</text>
<line x1="426.3" y1="333.5" x2="429.1" y2="333.5" stroke="#231f20" stroke-width="0.75" />
<text x="424.3" y="336.1" font-size="7.5" text-anchor="end" stroke="#231f20" stroke-width="0.14">30</text>
<line x1="426.3" y1="346.5" x2="429.1" y2="346.5" stroke="#231f20" stroke-width="0.75" />
<text x="424.3" y="349.4" font-size="7.5" text-anchor="end" stroke="#231f20" stroke-width="0.14">20</text>
<line x1="426.3" y1="358.5" x2="429.1" y2="358.5" stroke="#231f20" stroke-width="0.75" />
<text x="424.3" y="361" font-size="7.5" text-anchor="end" stroke="#231f20" stroke-width="0.14">15</text>
<line x1="426.3" y1="369.5" x2="429.1" y2="369.5" stroke="#231f20" stroke-width="0.75" />
<text x="424.3" y="372.4" font-size="7.5" text-anchor="end" stroke="#231f20" stroke-width="0.14">10</text>
<line x1="426.3" y1="381.5" x2="429.1" y2="381.5" stroke="#231f20" stroke-width="0.75" />
<text x="424.3" y="384" font-size="7.5" text-anchor="end" stroke="#231f20" stroke-width="0.14">5</text>
<line x1="426.3" y1="393.5" x2="429.1" y2="393.5" stroke="#231f20" stroke-width="0.75" />
<text x="424.3" y="395.5" font-size="7.5" text-anchor="end" stroke="#231f20" stroke-width="0.14">0</text>
<line x1="425.8" y1="327.6" x2="434.1" y2="338.4" stroke="#231f20" stroke-width="0.8" />
<line x1="425.4" y1="342.3" x2="434.1" y2="351" stroke="#231f20" stroke-width="0.8" />
<line x1="428.75" y1="393.5" x2="536" y2="393.5" stroke="#231f20" stroke-width="0.75" />
<rect x="435.4" y="388.74" width="10.7" height="4.26" fill="#83aad1" />
<rect x="448.3" y="377.79" width="11.6" height="15.21" fill="#e7847a" />
<rect x="470.2" y="391.16" width="10.8" height="1.84" fill="#83aad1" />
<rect x="483.1" y="365.34" width="11.8" height="27.66" fill="#e7847a" />
<rect x="504.9" y="384.24" width="11.7" height="8.76" fill="#83aad1" />
<rect x="519" y="360.96" width="11.1" height="32.04" fill="#e7847a" />
<line x1="440.5" y1="388.74" x2="440.5" y2="387.47" stroke="#231f20" stroke-width="0.7" />
<line x1="439.2" y1="387.5" x2="442.2" y2="387.5" stroke="#231f20" stroke-width="0.7" />
<line x1="454.5" y1="377.79" x2="454.5" y2="375.48" stroke="#231f20" stroke-width="0.7" />
<line x1="452.6" y1="375.5" x2="455.6" y2="375.5" stroke="#231f20" stroke-width="0.7" />
<line x1="475.5" y1="391.16" x2="475.5" y2="390.69" stroke="#231f20" stroke-width="0.7" />
<line x1="474.1" y1="390.5" x2="477.1" y2="390.5" stroke="#231f20" stroke-width="0.7" />
<line x1="489.5" y1="365.34" x2="489.5" y2="361.88" stroke="#231f20" stroke-width="0.7" />
<line x1="487.5" y1="361.5" x2="490.5" y2="361.5" stroke="#231f20" stroke-width="0.7" />
<line x1="510.5" y1="384.24" x2="510.5" y2="382.17" stroke="#231f20" stroke-width="0.7" />
<line x1="509.3" y1="382.5" x2="512.3" y2="382.5" stroke="#231f20" stroke-width="0.7" />
<line x1="524.5" y1="360.96" x2="524.5" y2="353.81" stroke="#231f20" stroke-width="0.7" />
<line x1="523.1" y1="353.5" x2="526.1" y2="353.5" stroke="#231f20" stroke-width="0.7" />
<circle cx="436.8" cy="387.01" r="1.2" fill="#c8c8c8" stroke="#1a1a1a" stroke-width="0.7"/>
<circle cx="439.6" cy="387.7" r="1.2" fill="#c8c8c8" stroke="#1a1a1a" stroke-width="0.7"/>
<circle cx="442.4" cy="387.24" r="1.2" fill="#c8c8c8" stroke="#1a1a1a" stroke-width="0.7"/>
<circle cx="445" cy="386.32" r="1.2" fill="#c8c8c8" stroke="#1a1a1a" stroke-width="0.7"/>
<circle cx="438" cy="390.93" r="1.2" fill="#c8c8c8" stroke="#1a1a1a" stroke-width="0.7"/>
<circle cx="441" cy="391.85" r="1.2" fill="#c8c8c8" stroke="#1a1a1a" stroke-width="0.7"/>
<circle cx="444" cy="391.16" r="1.2" fill="#c8c8c8" stroke="#1a1a1a" stroke-width="0.7"/>
<circle cx="453.8" cy="358.8" r="1.2" fill="#c8c8c8" stroke="#1a1a1a" stroke-width="0.7"/>
<circle cx="452.5" cy="375.02" r="1.2" fill="#c8c8c8" stroke="#1a1a1a" stroke-width="0.7"/>
<circle cx="455.5" cy="373.87" r="1.2" fill="#c8c8c8" stroke="#1a1a1a" stroke-width="0.7"/>
<circle cx="450.3" cy="382.4" r="1.2" fill="#c8c8c8" stroke="#1a1a1a" stroke-width="0.7"/>
<circle cx="452.8" cy="382.4" r="1.2" fill="#c8c8c8" stroke="#1a1a1a" stroke-width="0.7"/>
<circle cx="455.3" cy="382.4" r="1.2" fill="#c8c8c8" stroke="#1a1a1a" stroke-width="0.7"/>
<circle cx="457.8" cy="382.4" r="1.2" fill="#c8c8c8" stroke="#1a1a1a" stroke-width="0.7"/>
<circle cx="471.5" cy="391.62" r="1.2" fill="#c8c8c8" stroke="#1a1a1a" stroke-width="0.7"/>
<circle cx="474.5" cy="391.39" r="1.2" fill="#c8c8c8" stroke="#1a1a1a" stroke-width="0.7"/>
<circle cx="477.5" cy="391.16" r="1.2" fill="#c8c8c8" stroke="#1a1a1a" stroke-width="0.7"/>
<circle cx="480" cy="391.85" r="1.2" fill="#c8c8c8" stroke="#1a1a1a" stroke-width="0.7"/>
<circle cx="473" cy="392.54" r="1.2" fill="#c8c8c8" stroke="#1a1a1a" stroke-width="0.7"/>
<circle cx="476.5" cy="392.31" r="1.2" fill="#c8c8c8" stroke="#1a1a1a" stroke-width="0.7"/>
<circle cx="479.5" cy="392.54" r="1.2" fill="#c8c8c8" stroke="#1a1a1a" stroke-width="0.7"/>
<circle cx="489" cy="356.5" r="1.2" fill="#c8c8c8" stroke="#1a1a1a" stroke-width="0.7"/>
<circle cx="485.6" cy="370" r="1.2" fill="#c8c8c8" stroke="#1a1a1a" stroke-width="0.7"/>
<circle cx="488.3" cy="370.5" r="1.2" fill="#c8c8c8" stroke="#1a1a1a" stroke-width="0.7"/>
<circle cx="491" cy="369.5" r="1.2" fill="#c8c8c8" stroke="#1a1a1a" stroke-width="0.7"/>
<circle cx="493.4" cy="370.8" r="1.2" fill="#c8c8c8" stroke="#1a1a1a" stroke-width="0.7"/>
<circle cx="486.5" cy="372.6" r="1.2" fill="#c8c8c8" stroke="#1a1a1a" stroke-width="0.7"/>
<circle cx="490.2" cy="372.8" r="1.2" fill="#c8c8c8" stroke="#1a1a1a" stroke-width="0.7"/>
<circle cx="510.9" cy="374.5" r="1.2" fill="#c8c8c8" stroke="#1a1a1a" stroke-width="0.7"/>
<circle cx="507" cy="383.32" r="1.2" fill="#c8c8c8" stroke="#1a1a1a" stroke-width="0.7"/>
<circle cx="510" cy="383.09" r="1.2" fill="#c8c8c8" stroke="#1a1a1a" stroke-width="0.7"/>
<circle cx="513" cy="383.32" r="1.2" fill="#c8c8c8" stroke="#1a1a1a" stroke-width="0.7"/>
<circle cx="508" cy="387.01" r="1.2" fill="#c8c8c8" stroke="#1a1a1a" stroke-width="0.7"/>
<circle cx="512.5" cy="387.93" r="1.2" fill="#c8c8c8" stroke="#1a1a1a" stroke-width="0.7"/>
<circle cx="509.5" cy="390.23" r="1.2" fill="#c8c8c8" stroke="#1a1a1a" stroke-width="0.7"/>
<circle cx="510.8" cy="392.31" r="1.2" fill="#c8c8c8" stroke="#1a1a1a" stroke-width="0.7"/>
<circle cx="524.6" cy="329.9" r="1.2" fill="#c8c8c8" stroke="#1a1a1a" stroke-width="0.7"/>
<circle cx="522" cy="357.73" r="1.2" fill="#c8c8c8" stroke="#1a1a1a" stroke-width="0.7"/>
<circle cx="525.5" cy="355.43" r="1.2" fill="#c8c8c8" stroke="#1a1a1a" stroke-width="0.7"/>
<circle cx="527.5" cy="357.96" r="1.2" fill="#c8c8c8" stroke="#1a1a1a" stroke-width="0.7"/>
<circle cx="522" cy="368.8" r="1.2" fill="#c8c8c8" stroke="#1a1a1a" stroke-width="0.7"/>
<circle cx="527" cy="368.57" r="1.2" fill="#c8c8c8" stroke="#1a1a1a" stroke-width="0.7"/>
<circle cx="524.6" cy="374.56" r="1.2" fill="#c8c8c8" stroke="#1a1a1a" stroke-width="0.7"/>
<circle cx="524.6" cy="382.6" r="1.2" fill="#c8c8c8" stroke="#1a1a1a" stroke-width="0.7"/>
<text x="446.2" y="347.8" font-size="6.3" text-anchor="middle" stroke="#231f20" stroke-width="0.14">0.003</text>
<line x1="438.7" y1="349.5" x2="453.7" y2="349.5" stroke="#231f20" stroke-width="0.5" />
<text x="482.1" y="343.7" font-size="6.3" text-anchor="middle" stroke="#231f20" stroke-width="0.14">&lt;0.001</text>
<line x1="473.6" y1="344.5" x2="490.6" y2="344.5" stroke="#231f20" stroke-width="0.5" />
<text x="519.5" y="322.3" font-size="6.3" text-anchor="middle" stroke="#231f20" stroke-width="0.14">0.007</text>
<line x1="512" y1="323.5" x2="527" y2="323.5" stroke="#231f20" stroke-width="0.5" />
<text x="446.5" y="402.4" font-size="7.6" text-anchor="middle" stroke="#231f20" stroke-width="0.14">T</text>
<text x="481.9" y="402.4" font-size="7.6" text-anchor="middle" stroke="#231f20" stroke-width="0.14">B</text>
<text x="516.5" y="402.4" font-size="7.6" text-anchor="middle" stroke="#231f20" stroke-width="0.14">Myeloid</text>
<text x="484" y="413.2" font-size="7.55" text-anchor="middle" stroke="#231f20" stroke-width="0.14">16 weeks after 1° BMT</text>
<text x="409" y="363" font-size="7.25" text-anchor="middle" stroke="#231f20" stroke-width="0.14" transform="rotate(-90 409 363)">Donor chimerism (%)</text>
<text x="569.2" y="290" font-size="15" font-weight="bold" fill="#231815">k</text>
<rect x="625" y="287.9" width="5.6" height="5" fill="#83aad1" />
<rect x="625" y="295.6" width="5.6" height="5" fill="#e7847a" />
<text x="632.6" y="292.9" font-size="7.55" stroke="#231f20" stroke-width="0.14">BMPR2<tspan font-size="4.68" dy="-3.77">−</tspan><tspan dy="3.77"> (IR)</tspan></text>
<text x="632.6" y="300.6" font-size="7.55" stroke="#231f20" stroke-width="0.14">BMPR2<tspan font-size="6.95" dy="-3.77">+</tspan><tspan dy="3.77"> (IR)</tspan></text>
<text x="633.3" y="312.8" font-size="9.0" text-anchor="middle" stroke="#231f20" stroke-width="0.14">BM</text>
<line x1="608.5" y1="319.45" x2="608.5" y2="391.65" stroke="#231f20" stroke-width="0.75" />
<line x1="605.8" y1="319.5" x2="608.1" y2="319.5" stroke="#231f20" stroke-width="0.75" />
<text x="603.8" y="322.15" font-size="7.2" text-anchor="end" stroke="#231f20" stroke-width="0.14">50</text>
<line x1="605.8" y1="334.5" x2="608.1" y2="334.5" stroke="#231f20" stroke-width="0.75" />
<text x="603.8" y="336.45" font-size="7.2" text-anchor="end" stroke="#231f20" stroke-width="0.14">40</text>
<line x1="605.8" y1="348.5" x2="608.1" y2="348.5" stroke="#231f20" stroke-width="0.75" />
<text x="603.8" y="350.75" font-size="7.2" text-anchor="end" stroke="#231f20" stroke-width="0.14">30</text>
<line x1="605.8" y1="362.5" x2="608.1" y2="362.5" stroke="#231f20" stroke-width="0.75" />
<text x="603.8" y="365.05" font-size="7.2" text-anchor="end" stroke="#231f20" stroke-width="0.14">20</text>
<line x1="605.8" y1="377.5" x2="608.1" y2="377.5" stroke="#231f20" stroke-width="0.75" />
<text x="603.8" y="379.35" font-size="7.2" text-anchor="end" stroke="#231f20" stroke-width="0.14">10</text>
<line x1="605.8" y1="391.5" x2="608.1" y2="391.5" stroke="#231f20" stroke-width="0.75" />
<text x="603.8" y="393.65" font-size="7.2" text-anchor="end" stroke="#231f20" stroke-width="0.14">0</text>
<line x1="607.75" y1="391.5" x2="662.8" y2="391.5" stroke="#231f20" stroke-width="0.75" />
<rect x="637.3" y="352.26" width="14.6" height="39.04" fill="#e7847a" />
<line x1="644.5" y1="352.26" x2="644.5" y2="346.25" stroke="#231f20" stroke-width="0.7" />
<line x1="642.9" y1="346.5" x2="646.3" y2="346.5" stroke="#231f20" stroke-width="0.7" />
<circle cx="644.5" cy="323.4" r="1.2" fill="#c8c8c8" stroke="#1a1a1a" stroke-width="0.7"/>
<circle cx="644.5" cy="335.7" r="1.2" fill="#c8c8c8" stroke="#1a1a1a" stroke-width="0.7"/>
<circle cx="641.8" cy="351.1" r="1.2" fill="#c8c8c8" stroke="#1a1a1a" stroke-width="0.7"/>
<circle cx="645.6" cy="351.1" r="1.2" fill="#c8c8c8" stroke="#1a1a1a" stroke-width="0.7"/>
<circle cx="644.5" cy="357.7" r="1.2" fill="#c8c8c8" stroke="#1a1a1a" stroke-width="0.7"/>
<circle cx="642.6" cy="363.4" r="1.2" fill="#c8c8c8" stroke="#1a1a1a" stroke-width="0.7"/>
<circle cx="647.3" cy="364.1" r="1.2" fill="#c8c8c8" stroke="#1a1a1a" stroke-width="0.7"/>
<circle cx="644.5" cy="370.1" r="1.2" fill="#c8c8c8" stroke="#1a1a1a" stroke-width="0.7"/>
<circle cx="620.6" cy="391" r="1.2" fill="#c8c8c8" stroke="#1a1a1a" stroke-width="0.7"/>
<circle cx="623.4" cy="391" r="1.2" fill="#c8c8c8" stroke="#1a1a1a" stroke-width="0.7"/>
<circle cx="626.2" cy="391" r="1.2" fill="#c8c8c8" stroke="#1a1a1a" stroke-width="0.7"/>
<circle cx="629" cy="391" r="1.2" fill="#c8c8c8" stroke="#1a1a1a" stroke-width="0.7"/>
<circle cx="631.9" cy="391" r="1.2" fill="#c8c8c8" stroke="#1a1a1a" stroke-width="0.7"/>
<text x="635.1" y="320.6" font-size="6.3" text-anchor="middle" stroke="#231f20" stroke-width="0.14">&lt;0.001</text>
<text x="634.5" y="402.8" font-size="7.5" text-anchor="middle" stroke="#231f20" stroke-width="0.14">16 weeks</text>
<text x="634.3" y="411.5" font-size="7.5" text-anchor="middle" stroke="#231f20" stroke-width="0.14">after 1° BMT</text>
<text x="589.3" y="351.5" font-size="7.6" text-anchor="middle" stroke="#231f20" stroke-width="0.14" transform="rotate(-90 589.3 351.5)">Donor chimerism in HSCs (%)</text>
<text x="1.4" y="438.7" font-size="15" font-weight="bold" fill="#231815">l</text>
<circle cx="70.4" cy="446.3" r="2.75" fill="#80acd6"/>
<circle cx="70.4" cy="455.7" r="2.75" fill="#e57c70"/>
<text x="75.6" y="449.5" font-size="7.55" stroke="#231f20" stroke-width="0.14">BMPR2<tspan font-size="4.68" dy="-3.77">−</tspan><tspan dy="3.77"> (IR)</tspan></text>
<text x="75.6" y="458.9" font-size="7.55" stroke="#231f20" stroke-width="0.14">BMPR2<tspan font-size="6.95" dy="-3.77">+</tspan><tspan dy="3.77"> (IR)</tspan></text>
<text x="83.5" y="469.4" font-size="9.0" text-anchor="middle" stroke="#231f20" stroke-width="0.14">PB</text>
<line x1="46.5" y1="475.05" x2="46.5" y2="547.54" stroke="#231f20" stroke-width="0.75" />
<line x1="44" y1="475.5" x2="46.8" y2="475.5" stroke="#231f20" stroke-width="0.75" />
<text x="42" y="477.75" font-size="7.5" text-anchor="end" stroke="#231f20" stroke-width="0.14">100</text>
<line x1="44" y1="499.5" x2="46.8" y2="499.5" stroke="#231f20" stroke-width="0.75" />
<text x="42" y="501.68" font-size="7.5" text-anchor="end" stroke="#231f20" stroke-width="0.14">10</text>
<line x1="44" y1="523.5" x2="46.8" y2="523.5" stroke="#231f20" stroke-width="0.75" />
<text x="42" y="525.61" font-size="7.5" text-anchor="end" stroke="#231f20" stroke-width="0.14">1</text>
<line x1="44" y1="547.5" x2="46.8" y2="547.5" stroke="#231f20" stroke-width="0.75" />
<text x="42" y="549.54" font-size="7.5" text-anchor="end" stroke="#231f20" stroke-width="0.14">0.1</text>
<line x1="46.45" y1="547.5" x2="118.8" y2="547.5" stroke="#231f20" stroke-width="0.75" />
<line x1="58.5" y1="547.19" x2="58.5" y2="549.29" stroke="#231f20" stroke-width="0.75" />
<text x="58" y="558.79" font-size="7.5" text-anchor="middle" stroke="#231f20" stroke-width="0.14">4</text>
<line x1="74.5" y1="547.19" x2="74.5" y2="549.29" stroke="#231f20" stroke-width="0.75" />
<text x="74.5" y="558.79" font-size="7.5" text-anchor="middle" stroke="#231f20" stroke-width="0.14">8</text>
<line x1="90.5" y1="547.19" x2="90.5" y2="549.29" stroke="#231f20" stroke-width="0.75" />
<text x="90.9" y="558.79" font-size="7.5" text-anchor="middle" stroke="#231f20" stroke-width="0.14">12</text>
<line x1="107.5" y1="547.19" x2="107.5" y2="549.29" stroke="#231f20" stroke-width="0.75" />
<text x="107.6" y="558.79" font-size="7.5" text-anchor="middle" stroke="#231f20" stroke-width="0.14">16</text>
<text x="80.5" y="568.3" font-size="7.5" text-anchor="middle" stroke="#231f20" stroke-width="0.14">Weeks after 2° BMT</text>
<text x="24.6" y="509.6" font-size="7.4" text-anchor="middle" stroke="#231f20" stroke-width="0.14" transform="rotate(-90 24.6 509.6)">Donor chimerism (%)</text>
<path d="M58,485 L74.5,486.1 L90.9,484.2 L107.6,484.2" fill="none" stroke="#e57c70" stroke-width="1.25" />
<line x1="58.5" y1="484.2" x2="58.5" y2="485.6" stroke="#111" stroke-width="0.7" />
<line x1="56.3" y1="484.5" x2="59.7" y2="484.5" stroke="#111" stroke-width="0.7" />
<line x1="56.3" y1="485.5" x2="59.7" y2="485.5" stroke="#111" stroke-width="0.7" />
<line x1="74.5" y1="484.4" x2="74.5" y2="488.2" stroke="#111" stroke-width="0.7" />
<line x1="72.8" y1="484.5" x2="76.2" y2="484.5" stroke="#111" stroke-width="0.7" />
<line x1="72.8" y1="488.5" x2="76.2" y2="488.5" stroke="#111" stroke-width="0.7" />
<line x1="90.5" y1="482.2" x2="90.5" y2="486.3" stroke="#111" stroke-width="0.7" />
<line x1="89.2" y1="482.5" x2="92.6" y2="482.5" stroke="#111" stroke-width="0.7" />
<line x1="89.2" y1="486.5" x2="92.6" y2="486.5" stroke="#111" stroke-width="0.7" />
<line x1="107.5" y1="482.3" x2="107.5" y2="486.3" stroke="#111" stroke-width="0.7" />
<line x1="105.9" y1="482.5" x2="109.3" y2="482.5" stroke="#111" stroke-width="0.7" />
<line x1="105.9" y1="486.5" x2="109.3" y2="486.5" stroke="#111" stroke-width="0.7" />
<circle cx="58" cy="485" r="1.95" fill="#e57c70"/>
<circle cx="74.5" cy="486.1" r="1.95" fill="#e57c70"/>
<circle cx="90.9" cy="484.2" r="1.95" fill="#e57c70"/>
<circle cx="107.6" cy="484.2" r="1.95" fill="#e57c70"/>
<path d="M58,499.7 L74.5,510.8 L90.9,517.8 L107.6,528.6" fill="none" stroke="#80acd6" stroke-width="1.25" />
<line x1="58.5" y1="499.2" x2="58.5" y2="500.2" stroke="#111" stroke-width="0.7" />
<line x1="56.3" y1="499.5" x2="59.7" y2="499.5" stroke="#111" stroke-width="0.7" />
<line x1="56.3" y1="500.5" x2="59.7" y2="500.5" stroke="#111" stroke-width="0.7" />
<line x1="74.5" y1="508" x2="74.5" y2="515" stroke="#111" stroke-width="0.7" />
<line x1="72.8" y1="508.5" x2="76.2" y2="508.5" stroke="#111" stroke-width="0.7" />
<line x1="72.8" y1="515.5" x2="76.2" y2="515.5" stroke="#111" stroke-width="0.7" />
<line x1="90.5" y1="515" x2="90.5" y2="521.6" stroke="#111" stroke-width="0.7" />
<line x1="89.2" y1="515.5" x2="92.6" y2="515.5" stroke="#111" stroke-width="0.7" />
<line x1="89.2" y1="521.5" x2="92.6" y2="521.5" stroke="#111" stroke-width="0.7" />
<line x1="107.5" y1="526.3" x2="107.5" y2="531.5" stroke="#111" stroke-width="0.7" />
<line x1="105.9" y1="526.5" x2="109.3" y2="526.5" stroke="#111" stroke-width="0.7" />
<line x1="105.9" y1="531.5" x2="109.3" y2="531.5" stroke="#111" stroke-width="0.7" />
<circle cx="58" cy="499.7" r="1.95" fill="#80acd6"/>
<circle cx="74.5" cy="510.8" r="1.95" fill="#80acd6"/>
<circle cx="90.9" cy="517.8" r="1.95" fill="#80acd6"/>
<circle cx="107.6" cy="528.6" r="1.95" fill="#80acd6"/>
<text x="57.5" y="482.2" font-size="6.3" text-anchor="middle" stroke="#231f20" stroke-width="0.14">&lt;0.001</text>
<text x="74.7" y="493.4" font-size="6.3" text-anchor="middle" stroke="#231f20" stroke-width="0.14">&lt;0.001</text>
<text x="90.4" y="479.7" font-size="6.3" text-anchor="middle" stroke="#231f20" stroke-width="0.14">&lt;0.001</text>
<text x="107.4" y="492.6" font-size="6.3" text-anchor="middle" stroke="#231f20" stroke-width="0.14">&lt;0.001</text>
<text x="133.3" y="437.7" font-size="15" font-weight="bold" fill="#231815">m</text>
<rect x="172.5" y="443.6" width="5.6" height="5" fill="#83aad1" />
<rect x="172.5" y="452.5" width="5.6" height="5" fill="#e7847a" />
<text x="180.1" y="448.6" font-size="7.55" stroke="#231f20" stroke-width="0.14">BMPR2<tspan font-size="4.68" dy="-3.77">−</tspan><tspan dy="3.77"> (IR)</tspan></text>
<text x="180.1" y="457.5" font-size="7.55" stroke="#231f20" stroke-width="0.14">BMPR2<tspan font-size="6.95" dy="-3.77">+</tspan><tspan dy="3.77"> (IR)</tspan></text>
<text x="190.9" y="468.8" font-size="9.0" text-anchor="middle" stroke="#231f20" stroke-width="0.14">BM</text>
<line x1="161.5" y1="474.94" x2="161.5" y2="547.55" stroke="#231f20" stroke-width="0.75" />
<line x1="159.1" y1="475.5" x2="161.5" y2="475.5" stroke="#231f20" stroke-width="0.75" />
<text x="157.1" y="477.64" font-size="7.0" text-anchor="end" stroke="#231f20" stroke-width="0.14">30</text>
<line x1="159.1" y1="499.5" x2="161.5" y2="499.5" stroke="#231f20" stroke-width="0.75" />
<text x="157.1" y="501.61" font-size="7.0" text-anchor="end" stroke="#231f20" stroke-width="0.14">20</text>
<line x1="159.1" y1="523.5" x2="161.5" y2="523.5" stroke="#231f20" stroke-width="0.75" />
<text x="157.1" y="525.58" font-size="7.0" text-anchor="end" stroke="#231f20" stroke-width="0.14">10</text>
<line x1="159.1" y1="547.5" x2="161.5" y2="547.5" stroke="#231f20" stroke-width="0.75" />
<text x="157.1" y="549.55" font-size="7.0" text-anchor="end" stroke="#231f20" stroke-width="0.14">0</text>
<line x1="161.15" y1="547.5" x2="215.3" y2="547.5" stroke="#231f20" stroke-width="0.75" />
<rect x="193.5" y="524.7" width="14.4" height="22.5" fill="#e7847a" />
<line x1="200.5" y1="524.7" x2="200.5" y2="517.4" stroke="#231f20" stroke-width="0.7" />
<line x1="198.7" y1="517.5" x2="202.7" y2="517.5" stroke="#231f20" stroke-width="0.7" />
<circle cx="200.8" cy="488.7" r="1.2" fill="#c8c8c8" stroke="#1a1a1a" stroke-width="0.7"/>
<circle cx="200.8" cy="505.2" r="1.2" fill="#c8c8c8" stroke="#1a1a1a" stroke-width="0.7"/>
<circle cx="200.8" cy="508.5" r="1.2" fill="#c8c8c8" stroke="#1a1a1a" stroke-width="0.7"/>
<circle cx="200.8" cy="535.1" r="1.2" fill="#c8c8c8" stroke="#1a1a1a" stroke-width="0.7"/>
<circle cx="196.6" cy="538.2" r="1.2" fill="#c8c8c8" stroke="#1a1a1a" stroke-width="0.7"/>
<circle cx="200.8" cy="538.8" r="1.2" fill="#c8c8c8" stroke="#1a1a1a" stroke-width="0.7"/>
<circle cx="204.1" cy="538.2" r="1.2" fill="#c8c8c8" stroke="#1a1a1a" stroke-width="0.7"/>
<circle cx="200.8" cy="541" r="1.2" fill="#c8c8c8" stroke="#1a1a1a" stroke-width="0.7"/>
<circle cx="169.3" cy="546.9" r="1.2" fill="#c8c8c8" stroke="#1a1a1a" stroke-width="0.7"/>
<circle cx="172.2" cy="546.9" r="1.2" fill="#c8c8c8" stroke="#1a1a1a" stroke-width="0.7"/>
<circle cx="175.1" cy="546.9" r="1.2" fill="#c8c8c8" stroke="#1a1a1a" stroke-width="0.7"/>
<circle cx="178" cy="546.9" r="1.2" fill="#c8c8c8" stroke="#1a1a1a" stroke-width="0.7"/>
<circle cx="181.2" cy="546.9" r="1.2" fill="#c8c8c8" stroke="#1a1a1a" stroke-width="0.7"/>
<text x="192" y="486" font-size="6.3" text-anchor="middle" stroke="#231f20" stroke-width="0.14">&lt;0.001</text>
<text x="189.3" y="558.5" font-size="7.5" text-anchor="middle" stroke="#231f20" stroke-width="0.14">16 weeks</text>
<text x="189.3" y="567.3" font-size="7.5" text-anchor="middle" stroke="#231f20" stroke-width="0.14">after 2° BMT</text>
<text x="145" y="508.6" font-size="8.0" text-anchor="middle" stroke="#231f20" stroke-width="0.14" transform="rotate(-90 145 508.6)">Donor chimerism in HSCs (%)</text>
<text x="233.3" y="435.8" font-size="15" font-weight="bold" fill="#231815">n</text>
<text x="311.8" y="455.8" font-size="7.4" text-anchor="middle" stroke="#231f20" stroke-width="0.14">WGCNA Module 2</text>
<text x="311.8" y="462.8" font-size="7.4" text-anchor="middle" stroke="#231f20" stroke-width="0.14">(stemness maintenance)</text>
<text x="248.2" y="469.5" font-size="3.4" text-anchor="end" fill="#555" stroke="#555" stroke-width="0.14">0.6</text>
<line x1="248.6" y1="468.5" x2="249.8" y2="468.5" stroke="#666" stroke-width="0.3" />
<text x="248.2" y="477.6" font-size="3.4" text-anchor="end" fill="#555" stroke="#555" stroke-width="0.14">0.5</text>
<line x1="248.6" y1="476.5" x2="249.8" y2="476.5" stroke="#666" stroke-width="0.3" />
<text x="248.2" y="485.6" font-size="3.4" text-anchor="end" fill="#555" stroke="#555" stroke-width="0.14">0.4</text>
<line x1="248.6" y1="484.5" x2="249.8" y2="484.5" stroke="#666" stroke-width="0.3" />
<text x="248.2" y="493.7" font-size="3.4" text-anchor="end" fill="#555" stroke="#555" stroke-width="0.14">0.3</text>
<line x1="248.6" y1="492.5" x2="249.8" y2="492.5" stroke="#666" stroke-width="0.3" />
<text x="248.2" y="501.7" font-size="3.4" text-anchor="end" fill="#555" stroke="#555" stroke-width="0.14">0.2</text>
<line x1="248.6" y1="500.5" x2="249.8" y2="500.5" stroke="#666" stroke-width="0.3" />
<text x="248.2" y="509.7" font-size="3.4" text-anchor="end" fill="#555" stroke="#555" stroke-width="0.14">0.1</text>
<line x1="248.6" y1="508.5" x2="249.8" y2="508.5" stroke="#666" stroke-width="0.3" />
<text x="248.2" y="517.7" font-size="3.4" text-anchor="end" fill="#555" stroke="#555" stroke-width="0.14">0.0</text>
<line x1="248.6" y1="516.5" x2="249.8" y2="516.5" stroke="#666" stroke-width="0.3" />
<rect x="250.1" y="520.7" width="6" height="17.3" fill="#141414" />
<rect x="256.1" y="520.7" width="1.5" height="17.3" fill="#707070" />
<rect x="257.6" y="520.7" width="6.3" height="17.3" fill="#202020" />
<rect x="263.9" y="520.7" width="1.5" height="17.3" fill="#707070" />
<rect x="265.4" y="520.7" width="1.45" height="17.3" fill="#141414" />
<rect x="266.8" y="520.7" width="1.45" height="17.3" fill="#141414" />
<rect x="268.2" y="520.7" width="1.45" height="17.3" fill="#3a3a3a" />
<rect x="269.6" y="520.7" width="1.45" height="17.3" fill="#141414" />
<rect x="271" y="520.7" width="1.45" height="17.3" fill="#141414" />
<rect x="272.4" y="520.7" width="1.45" height="17.3" fill="#252525" />
<rect x="273.8" y="520.7" width="1.45" height="17.3" fill="#141414" />
<rect x="275.2" y="520.7" width="1.45" height="17.3" fill="#3a3a3a" />
<rect x="276.6" y="520.7" width="2.2" height="17.3" fill="#707070" />
<rect x="278.8" y="520.7" width="3.7" height="17.3" fill="#222" />
<rect x="282.5" y="520.7" width="2.3" height="17.3" fill="#707070" />
<rect x="284.8" y="520.7" width="8.9" height="17.3" fill="#1c1c1c" />
<rect x="293.7" y="520.7" width="3.8" height="17.3" fill="#e0e0e0" />
<rect x="297.5" y="520.7" width="6.7" height="17.3" fill="#2e2e2e" />
<rect x="304.2" y="520.7" width="2.5" height="17.3" fill="#707070" />
<rect x="328" y="520.7" width="0.7" height="17.3" fill="#707070" />
<rect x="345.5" y="520.7" width="1.34" height="17.3" fill="#707070" />
<rect x="346.79" y="520.7" width="1.34" height="17.3" fill="#3a3a3a" />
<rect x="348.07" y="520.7" width="1.34" height="17.3" fill="#222" />
<rect x="349.36" y="520.7" width="1.34" height="17.3" fill="#111" />
<rect x="350.64" y="520.7" width="1.34" height="17.3" fill="#222" />
<rect x="351.93" y="520.7" width="1.34" height="17.3" fill="#3a3a3a" />
<rect x="353.21" y="520.7" width="1.34" height="17.3" fill="#707070" />
<rect x="356.6" y="520.7" width="1" height="17.3" fill="#3a3a3a" />
<rect x="358.8" y="520.7" width="1" height="17.3" fill="#707070" />
<rect x="360.8" y="520.7" width="0.7" height="17.3" fill="#a8a8a8" />
<rect x="362.2" y="520.7" width="1" height="17.3" fill="#3a3a3a" />
<rect x="364.8" y="520.7" width="1.2" height="17.3" fill="#222" />
<rect x="366.6" y="520.7" width="1.2" height="17.3" fill="#3a3a3a" />
<rect x="250.2" y="538.5" width="1.8" height="3.7" fill="#d81818" />
<rect x="252" y="538.5" width="9" height="3.7" fill="#e84646" />
<rect x="261" y="538.5" width="23.8" height="3.7" fill="#ef5656" />
<rect x="284.8" y="538.5" width="6.7" height="3.7" fill="#f27474" />
<rect x="291.5" y="538.5" width="9.7" height="3.7" fill="#f49292" />
<rect x="301.2" y="538.5" width="42.1" height="3.7" fill="#f9bde2" />
<rect x="343.3" y="538.5" width="16.4" height="3.7" fill="#d2d0f7" />
<rect x="359.7" y="538.5" width="6" height="3.7" fill="#6a5ee8" />
<rect x="365.7" y="538.5" width="1.8" height="3.7" fill="#2414c8" />
<line x1="249.8" y1="516.5" x2="373.4" y2="516.5" stroke="#555" stroke-width="0.7" />
<line x1="249.8" y1="520.5" x2="373.4" y2="520.5" stroke="#999" stroke-width="0.45" />
<line x1="249.8" y1="538.5" x2="373.4" y2="538.5" stroke="#999" stroke-width="0.45" />
<rect x="249.8" y="466.7" width="123.6" height="75.6" fill="none" stroke="#777" stroke-width="0.6"/>
<path d="M250.1,516.3 C250.33,515.08 250.95,511.92 251.5,509 C252.05,506.08 252.83,501.63 253.4,498.8 C253.97,495.97 254.38,493.88 254.9,492 C255.42,490.12 256,488.73 256.5,487.5 C257,486.27 257.17,485.95 257.9,484.6 C258.63,483.25 259.78,481.02 260.9,479.4 C262.02,477.78 263.1,476.27 264.6,474.9 C266.1,473.53 268.15,472.18 269.9,471.2 C271.65,470.22 273.58,469.27 275.1,469 C276.62,468.73 277.63,469.37 279,469.6 C280.37,469.83 281.8,470.1 283.3,470.4 C284.8,470.7 286.52,471.02 288,471.4 C289.48,471.78 290.53,472.02 292.2,472.7 C293.87,473.38 296,474.38 298,475.5 C300,476.62 301.87,477.88 304.2,479.4 C306.53,480.92 309.37,482.73 312,484.6 C314.63,486.47 317.52,488.73 320,490.6 C322.48,492.47 324.4,493.98 326.9,495.8 C329.4,497.62 331.77,499.25 335,501.5 C338.23,503.75 343.47,507.45 346.3,509.3 C349.13,511.15 350.02,511.58 352,512.6 C353.98,513.62 356.53,514.6 358.2,515.4 C359.87,516.2 360.95,516.97 362,517.4 C363.05,517.83 363.67,518 364.5,518 C365.33,518 366.38,517.7 367,517.4 C367.62,517.1 368,516.4 368.2,516.2" fill="none" stroke="#00f000" stroke-width="2.1" stroke-linejoin="round" stroke-linecap="round"/>
<text x="250.4" y="552.6" font-size="7.75" fill="#f01e1e" stroke="#f01e1e" stroke-width="0.14"><tspan font-style="italic">Bmpr2</tspan><tspan font-size="6.8" dy="-3.4">+</tspan><tspan dy="3.4"> (positively correlated)</tspan></text>
<text x="450.2" y="455.8" font-size="7.4" text-anchor="middle" stroke="#231f20" stroke-width="0.14">Low output</text>
<text x="450.2" y="462.8" font-size="7.4" text-anchor="middle" stroke="#231f20" stroke-width="0.14">(Rodriguez et al.)</text>
<text x="385.9" y="473.4" font-size="3.4" text-anchor="end" fill="#555" stroke="#555" stroke-width="0.14">0.6</text>
<line x1="386.3" y1="472.5" x2="387.5" y2="472.5" stroke="#666" stroke-width="0.3" />
<text x="385.9" y="480.9" font-size="3.4" text-anchor="end" fill="#555" stroke="#555" stroke-width="0.14">0.5</text>
<line x1="386.3" y1="479.5" x2="387.5" y2="479.5" stroke="#666" stroke-width="0.3" />
<text x="385.9" y="488.4" font-size="3.4" text-anchor="end" fill="#555" stroke="#555" stroke-width="0.14">0.4</text>
<line x1="386.3" y1="487.5" x2="387.5" y2="487.5" stroke="#666" stroke-width="0.3" />
<text x="385.9" y="495.8" font-size="3.4" text-anchor="end" fill="#555" stroke="#555" stroke-width="0.14">0.3</text>
<line x1="386.3" y1="494.5" x2="387.5" y2="494.5" stroke="#666" stroke-width="0.3" />
<text x="385.9" y="503.3" font-size="3.4" text-anchor="end" fill="#555" stroke="#555" stroke-width="0.14">0.2</text>
<line x1="386.3" y1="502.5" x2="387.5" y2="502.5" stroke="#666" stroke-width="0.3" />
<text x="385.9" y="510.8" font-size="3.4" text-anchor="end" fill="#555" stroke="#555" stroke-width="0.14">0.1</text>
<line x1="386.3" y1="509.5" x2="387.5" y2="509.5" stroke="#666" stroke-width="0.3" />
<text x="385.9" y="518.2" font-size="3.4" text-anchor="end" fill="#555" stroke="#555" stroke-width="0.14">0.0</text>
<line x1="386.3" y1="517.5" x2="387.5" y2="517.5" stroke="#666" stroke-width="0.3" />
<rect x="387.8" y="520.7" width="2.7" height="17.3" fill="#141414" />
<rect x="390.45" y="520.7" width="2.7" height="17.3" fill="#141414" />
<rect x="393.1" y="520.7" width="2.7" height="17.3" fill="#1c1c1c" />
<rect x="395.75" y="520.7" width="2.7" height="17.3" fill="#141414" />
<rect x="398.4" y="520.7" width="2.7" height="17.3" fill="#141414" />
<rect x="401.05" y="520.7" width="2.7" height="17.3" fill="#141414" />
<rect x="403.7" y="520.7" width="2.7" height="17.3" fill="#222" />
<rect x="406.35" y="520.7" width="2.7" height="17.3" fill="#141414" />
<rect x="409" y="520.7" width="2.7" height="17.3" fill="#141414" />
<rect x="411.65" y="520.7" width="2.7" height="17.3" fill="#141414" />
<rect x="414.3" y="520.7" width="1" height="17.3" fill="#707070" />
<rect x="415.3" y="520.7" width="1" height="17.3" fill="#3a3a3a" />
<rect x="416.3" y="520.7" width="1" height="17.3" fill="#a8a8a8" />
<rect x="417.3" y="520.7" width="1.2" height="17.3" fill="#222" />
<rect x="418.5" y="520.7" width="1" height="17.3" fill="#a8a8a8" />
<rect x="419.5" y="520.7" width="1" height="17.3" fill="#3a3a3a" />
<rect x="420.5" y="520.7" width="1" height="17.3" fill="#e0e0e0" />
<rect x="421.5" y="520.7" width="1" height="17.3" fill="#3a3a3a" />
<rect x="423.3" y="520.7" width="6" height="17.3" fill="#202020" />
<rect x="425.5" y="520.7" width="0.8" height="17.3" fill="#707070" />
<rect x="436" y="520.7" width="0.8" height="17.3" fill="#707070" />
<rect x="437.6" y="520.7" width="0.8" height="17.3" fill="#3a3a3a" />
<rect x="438.9" y="520.7" width="0.8" height="17.3" fill="#707070" />
<rect x="440.4" y="520.7" width="3.8" height="17.3" fill="#1e1e1e" />
<rect x="486" y="520.7" width="1.5" height="17.3" fill="#333" />
<rect x="487.5" y="520.7" width="1" height="17.3" fill="#707070" />
<rect x="488.5" y="520.7" width="2" height="17.3" fill="#2a2a2a" />
<rect x="494.3" y="520.7" width="1.2" height="17.3" fill="#707070" />
<rect x="495.5" y="520.7" width="1.7" height="17.3" fill="#a8a8a8" />
<rect x="499.5" y="520.7" width="1.5" height="17.3" fill="#333" />
<rect x="501" y="520.7" width="1" height="17.3" fill="#707070" />
<rect x="502" y="520.7" width="2.7" height="17.3" fill="#252525" />
<rect x="387.8" y="538.5" width="1.1" height="3.7" fill="#d81818" />
<rect x="388.9" y="538.5" width="9.8" height="3.7" fill="#e84646" />
<rect x="398.7" y="538.5" width="23.8" height="3.7" fill="#ef5656" />
<rect x="422.5" y="538.5" width="6.8" height="3.7" fill="#f27474" />
<rect x="429.3" y="538.5" width="9.7" height="3.7" fill="#f49292" />
<rect x="439" y="538.5" width="41.8" height="3.7" fill="#f9bde2" />
<rect x="480.8" y="538.5" width="16.7" height="3.7" fill="#d2d0f7" />
<rect x="497.5" y="538.5" width="5" height="3.7" fill="#6a5ee8" />
<rect x="502.5" y="538.5" width="2.2" height="3.7" fill="#2414c8" />
<line x1="387.5" y1="516.5" x2="510.7" y2="516.5" stroke="#555" stroke-width="0.7" />
<line x1="387.5" y1="520.5" x2="510.7" y2="520.5" stroke="#999" stroke-width="0.45" />
<line x1="387.5" y1="538.5" x2="510.7" y2="538.5" stroke="#999" stroke-width="0.45" />
<rect x="387.5" y="466.4" width="123.2" height="75.9" fill="none" stroke="#777" stroke-width="0.6"/>
<path d="M387.8,516.7 C388,515.25 388.57,510.45 389,508 C389.43,505.55 389.67,505.02 390.4,502 C391.13,498.98 392.55,492.9 393.4,489.9 C394.25,486.9 394.75,485.75 395.5,484 C396.25,482.25 396.75,480.92 397.9,479.4 C399.05,477.88 400.9,476.15 402.4,474.9 C403.9,473.65 405.47,472.72 406.9,471.9 C408.33,471.08 409.52,470.48 411,470 C412.48,469.52 414,468.98 415.8,469 C417.6,469.02 419.55,469.37 421.8,470.1 C424.05,470.83 426.82,472.18 429.3,473.4 C431.78,474.62 434.15,475.97 436.7,477.4 C439.25,478.83 442.05,480.47 444.6,482 C447.15,483.53 449.45,485.02 452,486.6 C454.55,488.18 457.4,489.93 459.9,491.5 C462.4,493.07 464.5,494.42 467,496 C469.5,497.58 471.6,498.92 474.9,501 C478.2,503.08 483.33,506.33 486.8,508.5 C490.27,510.67 493.33,512.62 495.7,514 C498.07,515.38 499.38,516.27 501,516.8 C502.62,517.33 504.67,517.13 505.4,517.2" fill="none" stroke="#00f000" stroke-width="2.1" stroke-linejoin="round" stroke-linecap="round"/>
<text x="510.9" y="552.6" font-size="7.75" text-anchor="end" fill="#1c1cd0" stroke="#1c1cd0" stroke-width="0.14"><tspan font-style="italic">Bmpr2</tspan><tspan font-size="5" dy="-2.9">−</tspan><tspan dy="2.9"> (negatively correlated)</tspan></text>
<text x="240.4" y="504.8" font-size="7.7" text-anchor="middle" stroke="#231f20" stroke-width="0.14" transform="rotate(-90 240.4 504.8)">Enrichment score (ES)</text>
<text x="517.6" y="438.6" font-size="15" font-weight="bold" fill="#231815">o</text>
<rect x="644.1" y="440.2" width="5.9" height="5.8" fill="#9a42aa" stroke="#333" stroke-width="0.4"/>
<rect x="644.1" y="448.2" width="5.9" height="5.8" fill="#ff8a00" stroke="#333" stroke-width="0.4"/>
<text x="653.3" y="445.5" font-size="7.3" stroke="#231f20" stroke-width="0.14"><tspan font-style="italic">Bmpr2</tspan><tspan font-size="6.6" dy="-3.4">−</tspan></text>
<text x="653.3" y="453.5" font-size="7.3" stroke="#231f20" stroke-width="0.14"><tspan font-style="italic">Bmpr2</tspan><tspan font-size="6.6" dy="-3.2">+</tspan></text>
<line x1="542.5" y1="460.4" x2="542.5" y2="542.2" stroke="#231f20" stroke-width="0.75" />
<line x1="540.3" y1="481.5" x2="542.5" y2="481.5" stroke="#231f20" stroke-width="0.75" />
<text x="539.3" y="483.4" font-size="7.5" text-anchor="end" stroke="#231f20" stroke-width="0.14">10</text>
<line x1="540.3" y1="509.5" x2="542.5" y2="509.5" stroke="#231f20" stroke-width="0.75" />
<text x="539.3" y="511.9" font-size="7.5" text-anchor="end" stroke="#231f20" stroke-width="0.14">5</text>
<line x1="540.3" y1="538.5" x2="542.5" y2="538.5" stroke="#231f20" stroke-width="0.75" />
<text x="539.3" y="540.4" font-size="7.5" text-anchor="end" stroke="#231f20" stroke-width="0.14">0</text>
<line x1="542.5" y1="542.5" x2="568.2" y2="542.5" stroke="#231f20" stroke-width="0.75" />
<line x1="572.3" y1="542.5" x2="597.3" y2="542.5" stroke="#231f20" stroke-width="0.75" />
<line x1="601.3" y1="542.5" x2="626.2" y2="542.5" stroke="#231f20" stroke-width="0.75" />
<line x1="629.5" y1="542.5" x2="655.5" y2="542.5" stroke="#231f20" stroke-width="0.75" />
<line x1="659" y1="542.5" x2="684.8" y2="542.5" stroke="#231f20" stroke-width="0.75" />
<text x="555.7" y="551.7" font-size="7.6" text-anchor="middle" font-style="italic" stroke="#231f20" stroke-width="0.14">Hlf</text>
<text x="585.4" y="551.7" font-size="7.6" text-anchor="middle" font-style="italic" stroke="#231f20" stroke-width="0.14">Mllt3</text>
<text x="614.6" y="551.7" font-size="7.6" text-anchor="middle" font-style="italic" stroke="#231f20" stroke-width="0.14">Runx1</text>
<text x="643.1" y="551.7" font-size="7.6" text-anchor="middle" font-style="italic" stroke="#231f20" stroke-width="0.14">Gata2</text>
<text x="672.4" y="551.7" font-size="7.6" text-anchor="middle" font-style="italic" stroke="#231f20" stroke-width="0.14">Meis1</text>
<path d="M549.45,469 L549.44,470.73 L549.43,472.46 L549.4,474.19 L549.36,475.92 L549.32,477.65 L549.27,479.38 L549.23,481.11 L549.19,482.84 L549.15,484.57 L549.12,486.3 L549.11,488.03 L549.1,489.76 L548.97,491.49 L548.69,493.22 L548.51,494.95 L548.42,496.68 L548.1,498.41 L547.65,500.14 L547.2,501.87 L546.88,503.6 L546.79,505.33 L546.59,507.06 L546.16,508.79 L545.64,510.52 L545.18,512.25 L544.92,513.98 L544.88,515.71 L544.75,517.44 L544.54,519.17 L544.33,520.9 L544.16,522.63 L544.1,524.36 L544.15,526.09 L544.29,527.82 L544.45,529.55 L544.57,531.28 L544.6,533.01 L544.72,534.74 L544.91,536.47 L545,538.2 L554.2,538.2 L554.29,536.47 L554.48,534.74 L554.6,533.01 L554.63,531.28 L554.75,529.55 L554.91,527.82 L555.05,526.09 L555.1,524.36 L555.04,522.63 L554.87,520.9 L554.66,519.17 L554.45,517.44 L554.32,515.71 L554.28,513.98 L554.02,512.25 L553.56,510.52 L553.04,508.79 L552.61,507.06 L552.41,505.33 L552.32,503.6 L552,501.87 L551.55,500.14 L551.1,498.41 L550.78,496.68 L550.69,494.95 L550.51,493.22 L550.23,491.49 L550.1,489.76 L550.09,488.03 L550.08,486.3 L550.05,484.57 L550.01,482.84 L549.97,481.11 L549.93,479.38 L549.88,477.65 L549.84,475.92 L549.8,474.19 L549.77,472.46 L549.76,470.73 L549.75,469 Z" fill="url(#gp)" stroke="#2a2a2a" stroke-width="0.45" stroke-linejoin="round"/>
<rect x="548.8" y="516.5" width="1.6" height="16.7" fill="#d9d9d9" stroke="#555" stroke-width="0.3" opacity="0.85"/>
<path d="M561.25,463.3 L561.24,465.17 L561.21,467.05 L561.17,468.92 L561.11,470.79 L561.05,472.66 L560.98,474.54 L560.9,476.41 L560.84,478.28 L560.78,480.15 L560.74,482.03 L560.71,483.9 L560.7,485.77 L560.62,487.64 L560.4,489.52 L560.1,491.39 L559.8,493.26 L559.58,495.13 L559.5,497.01 L559.38,498.88 L559.05,500.75 L558.63,502.62 L558.28,504.5 L558.11,506.37 L558.07,508.24 L557.95,510.11 L557.79,511.99 L557.65,513.86 L557.6,515.73 L557.6,517.6 L557.6,519.48 L557.6,521.35 L557.6,523.22 L557.6,525.09 L557.6,526.97 L557.6,528.84 L557.6,530.71 L557.6,532.58 L557.6,534.46 L557.6,536.33 L557.6,538.2 L565.2,538.2 L565.2,536.33 L565.2,534.46 L565.2,532.58 L565.2,530.71 L565.2,528.84 L565.2,526.97 L565.2,525.09 L565.2,523.22 L565.2,521.35 L565.2,519.48 L565.2,517.6 L565.2,515.73 L565.15,513.86 L565.01,511.99 L564.85,510.11 L564.73,508.24 L564.69,506.37 L564.52,504.5 L564.17,502.62 L563.75,500.75 L563.42,498.88 L563.3,497.01 L563.22,495.13 L563,493.26 L562.7,491.39 L562.4,489.52 L562.18,487.64 L562.1,485.77 L562.09,483.9 L562.06,482.03 L562.02,480.15 L561.96,478.28 L561.9,476.41 L561.82,474.54 L561.75,472.66 L561.69,470.79 L561.63,468.92 L561.59,467.05 L561.56,465.17 L561.55,463.3 Z" fill="url(#go)" stroke="#2a2a2a" stroke-width="0.45" stroke-linejoin="round"/>
<rect x="560.6" y="510.5" width="1.6" height="23" fill="#d9d9d9" stroke="#555" stroke-width="0.3" opacity="0.85"/>
<path d="M578.65,498 L578.64,499 L578.61,500.01 L578.57,501.01 L578.51,502.02 L578.45,503.02 L578.38,504.03 L578.3,505.04 L578.24,506.04 L578.18,507.05 L578.14,508.05 L578.11,509.06 L578.1,510.06 L578.05,511.06 L577.91,512.07 L577.7,513.08 L577.45,514.08 L577.2,515.09 L576.99,516.09 L576.85,517.1 L576.8,518.1 L576.7,519.11 L576.42,520.11 L576,521.12 L575.5,522.12 L575,523.12 L574.58,524.13 L574.3,525.13 L574.2,526.14 L574.12,527.14 L573.9,528.15 L573.6,529.16 L573.3,530.16 L573.08,531.17 L573,532.17 L573.01,533.18 L573.05,534.18 L573.1,535.19 L573.15,536.19 L573.19,537.2 L573.2,538.2 L584.4,538.2 L584.41,537.2 L584.45,536.19 L584.5,535.19 L584.55,534.18 L584.59,533.18 L584.6,532.17 L584.52,531.17 L584.3,530.16 L584,529.16 L583.7,528.15 L583.48,527.14 L583.4,526.14 L583.3,525.13 L583.02,524.13 L582.6,523.12 L582.1,522.12 L581.6,521.12 L581.18,520.11 L580.9,519.11 L580.8,518.1 L580.75,517.1 L580.61,516.09 L580.4,515.09 L580.15,514.08 L579.9,513.08 L579.69,512.07 L579.55,511.06 L579.5,510.06 L579.49,509.06 L579.46,508.05 L579.42,507.05 L579.36,506.04 L579.3,505.04 L579.22,504.03 L579.15,503.02 L579.09,502.02 L579.03,501.01 L578.99,500.01 L578.96,499 L578.95,498 Z" fill="url(#gp)" stroke="#2a2a2a" stroke-width="0.45" stroke-linejoin="round"/>
<rect x="578" y="525" width="1.6" height="8.5" fill="#d9d9d9" stroke="#555" stroke-width="0.3" opacity="0.85"/>
<path d="M590.05,486.6 L590.04,487.89 L590.02,489.18 L589.98,490.47 L589.93,491.76 L589.87,493.05 L589.8,494.34 L589.73,495.63 L589.65,496.92 L589.58,498.21 L589.52,499.5 L589.47,500.79 L589.43,502.08 L589.41,503.37 L589.4,504.66 L589.34,505.95 L589.17,507.24 L588.91,508.53 L588.6,509.82 L588.29,511.11 L588.03,512.4 L587.86,513.69 L587.8,514.98 L587.72,516.27 L587.5,517.56 L587.2,518.85 L586.9,520.14 L586.68,521.43 L586.6,522.72 L586.6,524.01 L586.59,525.3 L586.59,526.59 L586.58,527.88 L586.56,529.17 L586.55,530.46 L586.54,531.75 L586.53,533.04 L586.51,534.33 L586.51,535.62 L586.5,536.91 L586.5,538.2 L593.9,538.2 L593.9,536.91 L593.89,535.62 L593.89,534.33 L593.88,533.04 L593.86,531.75 L593.85,530.46 L593.84,529.17 L593.83,527.88 L593.81,526.59 L593.81,525.3 L593.8,524.01 L593.8,522.72 L593.72,521.43 L593.5,520.14 L593.2,518.85 L592.9,517.56 L592.68,516.27 L592.6,514.98 L592.54,513.69 L592.37,512.4 L592.11,511.11 L591.8,509.82 L591.49,508.53 L591.23,507.24 L591.06,505.95 L591,504.66 L590.99,503.37 L590.97,502.08 L590.93,500.79 L590.88,499.5 L590.82,498.21 L590.75,496.92 L590.68,495.63 L590.6,494.34 L590.53,493.05 L590.47,491.76 L590.42,490.47 L590.38,489.18 L590.36,487.89 L590.35,486.6 Z" fill="url(#go)" stroke="#2a2a2a" stroke-width="0.45" stroke-linejoin="round"/>
<rect x="589.4" y="520" width="1.6" height="13.5" fill="#d9d9d9" stroke="#555" stroke-width="0.3" opacity="0.85"/>
<path d="M607.85,492 L607.84,493.15 L607.82,494.31 L607.78,495.47 L607.73,496.62 L607.67,497.77 L607.6,498.93 L607.52,500.09 L607.45,501.24 L607.38,502.39 L607.32,503.55 L607.27,504.71 L607.23,505.86 L607.21,507.01 L607.2,508.17 L607.14,509.33 L606.98,510.48 L606.74,511.63 L606.45,512.79 L606.16,513.95 L605.92,515.1 L605.76,516.25 L605.7,517.41 L605.62,518.57 L605.4,519.72 L605.1,520.88 L604.8,522.03 L604.58,523.19 L604.5,524.34 L604.5,525.5 L604.5,526.65 L604.5,527.81 L604.5,528.96 L604.5,530.12 L604.5,531.27 L604.5,532.43 L604.5,533.58 L604.5,534.74 L604.5,535.89 L604.5,537.05 L604.5,538.2 L611.5,538.2 L611.5,537.05 L611.5,535.89 L611.5,534.74 L611.5,533.58 L611.5,532.43 L611.5,531.27 L611.5,530.12 L611.5,528.96 L611.5,527.81 L611.5,526.65 L611.5,525.5 L611.5,524.34 L611.42,523.19 L611.2,522.03 L610.9,520.88 L610.6,519.72 L610.38,518.57 L610.3,517.41 L610.24,516.25 L610.08,515.1 L609.84,513.95 L609.55,512.79 L609.26,511.63 L609.02,510.48 L608.86,509.33 L608.8,508.17 L608.79,507.01 L608.77,505.86 L608.73,504.71 L608.68,503.55 L608.62,502.39 L608.55,501.24 L608.48,500.09 L608.4,498.93 L608.33,497.77 L608.27,496.62 L608.22,495.47 L608.18,494.31 L608.16,493.15 L608.15,492 Z" fill="url(#gp)" stroke="#2a2a2a" stroke-width="0.45" stroke-linejoin="round"/>
<rect x="607.2" y="522" width="1.6" height="11.5" fill="#d9d9d9" stroke="#555" stroke-width="0.3" opacity="0.85"/>
<path d="M619.25,497.2 L619.24,498.22 L619.22,499.25 L619.18,500.27 L619.14,501.3 L619.08,502.32 L619.02,503.35 L618.97,504.38 L618.91,505.4 L618.87,506.43 L618.83,507.45 L618.81,508.48 L618.8,509.5 L618.59,510.53 L618.1,511.55 L617.61,512.58 L617.4,513.6 L618.09,514.62 L618.33,515.65 L617.57,516.68 L616.34,517.7 L615.24,518.73 L614.8,519.75 L615.29,520.77 L616.32,521.8 L616.98,522.83 L616.74,523.85 L615.9,524.88 L615.06,525.9 L614.82,526.93 L615.54,527.95 L616.67,528.98 L617.2,530 L616.82,531.03 L615.9,532.05 L614.98,533.08 L614.6,534.1 L614.63,535.12 L614.7,536.15 L614.77,537.18 L614.8,538.2 L624,538.2 L624.03,537.18 L624.1,536.15 L624.17,535.12 L624.2,534.1 L623.82,533.08 L622.9,532.05 L621.98,531.03 L621.6,530 L622.13,528.98 L623.26,527.95 L623.98,526.93 L623.74,525.9 L622.9,524.88 L622.06,523.85 L621.82,522.83 L622.48,521.8 L623.51,520.77 L624,519.75 L623.56,518.73 L622.46,517.7 L621.23,516.68 L620.47,515.65 L620.71,514.62 L621.4,513.6 L621.19,512.58 L620.7,511.55 L620.21,510.53 L620,509.5 L619.99,508.48 L619.97,507.45 L619.93,506.43 L619.89,505.4 L619.83,504.38 L619.77,503.35 L619.72,502.32 L619.66,501.3 L619.62,500.27 L619.58,499.25 L619.56,498.22 L619.55,497.2 Z" fill="url(#go)" stroke="#2a2a2a" stroke-width="0.45" stroke-linejoin="round"/>
<rect x="618.6" y="516" width="1.6" height="17.5" fill="#d9d9d9" stroke="#555" stroke-width="0.3" opacity="0.85"/>
<path d="M636.85,492.2 L636.84,493.35 L636.82,494.5 L636.78,495.65 L636.74,496.8 L636.68,497.95 L636.62,499.1 L636.57,500.25 L636.51,501.4 L636.47,502.55 L636.43,503.7 L636.41,504.85 L636.4,506 L636.35,507.15 L636.21,508.3 L635.99,509.45 L635.71,510.6 L635.4,511.75 L635.09,512.9 L634.81,514.05 L634.59,515.2 L634.45,516.35 L634.4,517.5 L634.33,518.65 L634.14,519.8 L633.84,520.95 L633.5,522.1 L633.16,523.25 L632.86,524.4 L632.67,525.55 L632.6,526.7 L632.58,527.85 L632.52,529 L632.44,530.15 L632.32,531.3 L632.2,532.45 L632.08,533.6 L631.96,534.75 L631.88,535.9 L631.82,537.05 L631.8,538.2 L642.2,538.2 L642.18,537.05 L642.12,535.9 L642.04,534.75 L641.92,533.6 L641.8,532.45 L641.68,531.3 L641.56,530.15 L641.48,529 L641.42,527.85 L641.4,526.7 L641.33,525.55 L641.14,524.4 L640.84,523.25 L640.5,522.1 L640.16,520.95 L639.86,519.8 L639.67,518.65 L639.6,517.5 L639.55,516.35 L639.41,515.2 L639.19,514.05 L638.91,512.9 L638.6,511.75 L638.29,510.6 L638.01,509.45 L637.79,508.3 L637.65,507.15 L637.6,506 L637.59,504.85 L637.57,503.7 L637.53,502.55 L637.49,501.4 L637.43,500.25 L637.38,499.1 L637.32,497.95 L637.26,496.8 L637.22,495.65 L637.18,494.5 L637.16,493.35 L637.15,492.2 Z" fill="url(#gp)" stroke="#2a2a2a" stroke-width="0.45" stroke-linejoin="round"/>
<rect x="636.2" y="522" width="1.6" height="11.5" fill="#d9d9d9" stroke="#555" stroke-width="0.3" opacity="0.85"/>
<path d="M648.65,474.8 L648.64,476.38 L648.62,477.97 L648.58,479.56 L648.54,481.14 L648.48,482.73 L648.42,484.31 L648.37,485.9 L648.31,487.48 L648.27,489.06 L648.23,490.65 L648.21,492.24 L648.2,493.82 L648.13,495.41 L647.95,496.99 L647.7,498.58 L647.45,500.16 L647.27,501.75 L647.2,503.33 L647.09,504.92 L646.8,506.5 L646.4,508.09 L646,509.67 L645.71,511.26 L645.6,512.84 L645.51,514.43 L645.27,516.01 L644.98,517.6 L644.76,519.18 L644.7,520.76 L644.7,522.35 L644.71,523.94 L644.72,525.52 L644.73,527.11 L644.74,528.69 L644.76,530.28 L644.77,531.86 L644.78,533.45 L644.79,535.03 L644.8,536.62 L644.8,538.2 L652.8,538.2 L652.8,536.62 L652.81,535.03 L652.82,533.45 L652.83,531.86 L652.84,530.28 L652.86,528.69 L652.87,527.11 L652.88,525.52 L652.89,523.94 L652.9,522.35 L652.9,520.76 L652.84,519.18 L652.62,517.6 L652.33,516.01 L652.09,514.43 L652,512.84 L651.89,511.26 L651.6,509.67 L651.2,508.09 L650.8,506.5 L650.51,504.92 L650.4,503.33 L650.33,501.75 L650.15,500.16 L649.9,498.58 L649.65,496.99 L649.47,495.41 L649.4,493.82 L649.39,492.24 L649.37,490.65 L649.33,489.06 L649.29,487.48 L649.23,485.9 L649.17,484.31 L649.12,482.73 L649.06,481.14 L649.02,479.56 L648.98,477.97 L648.96,476.38 L648.95,474.8 Z" fill="url(#go)" stroke="#2a2a2a" stroke-width="0.45" stroke-linejoin="round"/>
<rect x="648" y="515" width="1.6" height="18.5" fill="#d9d9d9" stroke="#555" stroke-width="0.3" opacity="0.85"/>
<path d="M666.05,486 L666.04,487.31 L666,488.61 L665.94,489.92 L665.86,491.22 L665.77,492.52 L665.68,493.83 L665.58,495.13 L665.49,496.44 L665.41,497.75 L665.35,499.05 L665.31,500.36 L665.3,501.66 L665.22,502.97 L664.99,504.27 L664.65,505.58 L664.25,506.88 L663.85,508.19 L663.51,509.49 L663.28,510.8 L663.2,512.1 L663.11,513.4 L662.85,514.71 L662.46,516.01 L662,517.32 L661.54,518.62 L661.15,519.93 L660.89,521.24 L660.8,522.54 L660.8,523.85 L660.79,525.15 L660.77,526.46 L660.75,527.76 L660.73,529.07 L660.7,530.37 L660.67,531.68 L660.65,532.98 L660.63,534.29 L660.61,535.59 L660.6,536.9 L660.6,538.2 L671.8,538.2 L671.8,536.9 L671.79,535.59 L671.77,534.29 L671.75,532.98 L671.73,531.68 L671.7,530.37 L671.67,529.07 L671.65,527.76 L671.63,526.46 L671.61,525.15 L671.6,523.85 L671.6,522.54 L671.51,521.24 L671.25,519.93 L670.86,518.62 L670.4,517.32 L669.94,516.01 L669.55,514.71 L669.29,513.4 L669.2,512.1 L669.12,510.8 L668.89,509.49 L668.55,508.19 L668.15,506.88 L667.75,505.58 L667.41,504.27 L667.18,502.97 L667.1,501.66 L667.09,500.36 L667.05,499.05 L666.99,497.75 L666.91,496.44 L666.82,495.13 L666.73,493.83 L666.63,492.52 L666.54,491.22 L666.46,489.92 L666.4,488.61 L666.36,487.31 L666.35,486 Z" fill="url(#gp)" stroke="#2a2a2a" stroke-width="0.45" stroke-linejoin="round"/>
<rect x="665.4" y="516" width="1.6" height="17.5" fill="#d9d9d9" stroke="#555" stroke-width="0.3" opacity="0.85"/>
<path d="M677.45,486 L677.44,487.31 L677.4,488.61 L677.34,489.92 L677.26,491.22 L677.17,492.52 L677.08,493.83 L676.98,495.13 L676.89,496.44 L676.81,497.75 L676.75,499.05 L676.71,500.36 L676.7,501.66 L676.62,502.97 L676.39,504.27 L676.05,505.58 L675.65,506.88 L675.25,508.19 L674.91,509.49 L674.68,510.8 L674.6,512.1 L674.54,513.4 L674.35,514.71 L674.08,516.01 L673.75,517.32 L673.42,518.62 L673.15,519.93 L672.96,521.24 L672.9,522.54 L672.9,523.85 L672.89,525.15 L672.89,526.46 L672.88,527.76 L672.86,529.07 L672.85,530.37 L672.84,531.68 L672.83,532.98 L672.81,534.29 L672.81,535.59 L672.8,536.9 L672.8,538.2 L682.4,538.2 L682.4,536.9 L682.39,535.59 L682.39,534.29 L682.38,532.98 L682.36,531.68 L682.35,530.37 L682.34,529.07 L682.33,527.76 L682.31,526.46 L682.31,525.15 L682.3,523.85 L682.3,522.54 L682.24,521.24 L682.05,519.93 L681.78,518.62 L681.45,517.32 L681.12,516.01 L680.85,514.71 L680.66,513.4 L680.6,512.1 L680.52,510.8 L680.29,509.49 L679.95,508.19 L679.55,506.88 L679.15,505.58 L678.81,504.27 L678.58,502.97 L678.5,501.66 L678.49,500.36 L678.45,499.05 L678.39,497.75 L678.31,496.44 L678.22,495.13 L678.12,493.83 L678.03,492.52 L677.94,491.22 L677.86,489.92 L677.8,488.61 L677.76,487.31 L677.75,486 Z" fill="url(#go)" stroke="#2a2a2a" stroke-width="0.45" stroke-linejoin="round"/>
<rect x="676.8" y="516" width="1.6" height="17.5" fill="#d9d9d9" stroke="#555" stroke-width="0.3" opacity="0.85"/>
<text x="555.8" y="454.8" font-size="6.3" text-anchor="middle" stroke="#231f20" stroke-width="0.14">0.008</text>
<line x1="549.1" y1="457.5" x2="561.9" y2="457.5" stroke="#231f20" stroke-width="0.6" />
<text x="584.4" y="477" font-size="6.3" text-anchor="middle" stroke="#231f20" stroke-width="0.14">0.010</text>
<line x1="578.5" y1="479.5" x2="590.5" y2="479.5" stroke="#231f20" stroke-width="0.6" />
<text x="614.7" y="477" font-size="6.3" text-anchor="middle" stroke="#231f20" stroke-width="0.14">0.043</text>
<line x1="608.3" y1="479.5" x2="619.8" y2="479.5" stroke="#231f20" stroke-width="0.6" />
<text x="643" y="467.4" font-size="6.3" text-anchor="middle" stroke="#231f20" stroke-width="0.14">0.026</text>
<line x1="637" y1="470.5" x2="649" y2="470.5" stroke="#231f20" stroke-width="0.6" />
<text x="671.5" y="472.5" font-size="6.3" text-anchor="middle" stroke="#231f20" stroke-width="0.14">0.012</text>
<line x1="666" y1="475.5" x2="677.8" y2="475.5" stroke="#231f20" stroke-width="0.6" />
<text x="528.5" y="498.4" font-size="7.2" text-anchor="middle" stroke="#231f20" stroke-width="0.14" transform="rotate(-90 528.5 498.4)">Expression levels</text>
</svg></body></html>
